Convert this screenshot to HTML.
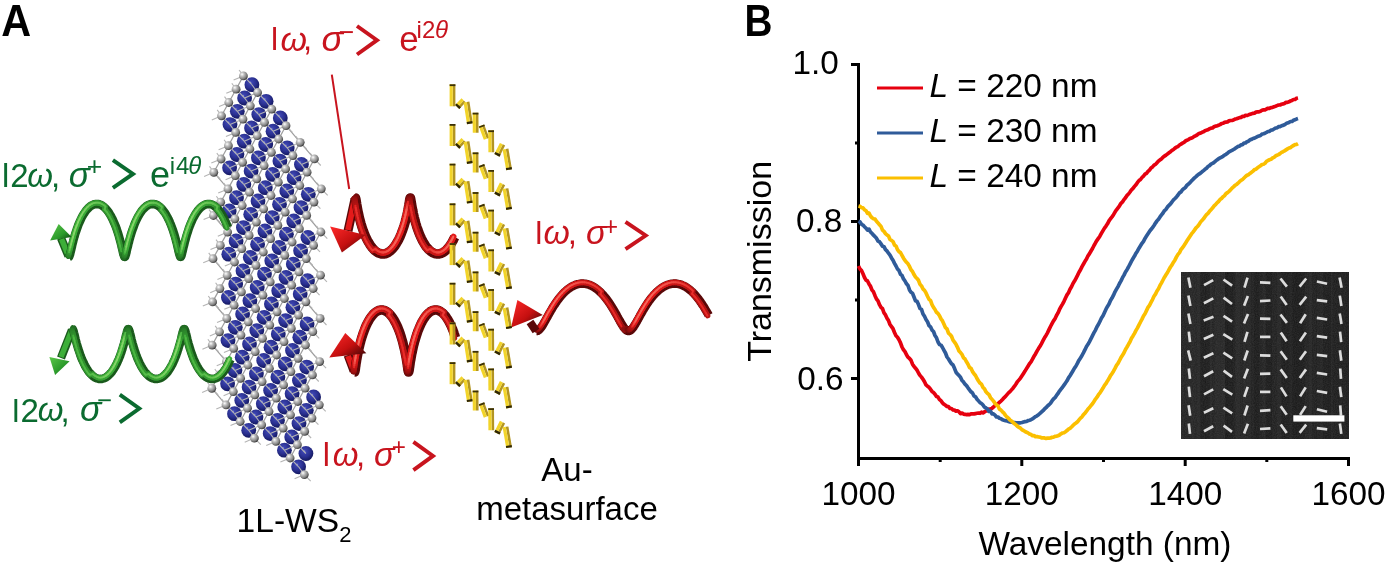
<!DOCTYPE html>
<html><head><meta charset="utf-8"><style>
html,body{margin:0;padding:0;background:#fff;}
body{width:1387px;height:563px;position:relative;overflow:hidden;font-family:"Liberation Sans",sans-serif;}
svg{position:absolute;left:0;top:0;will-change:transform;}
text{font-family:"Liberation Sans",sans-serif;}
.it{font-family:"Liberation Serif",serif;font-style:italic;}
</style></head><body>
<svg width="1387" height="563" viewBox="0 0 1387 563">
<rect width="1387" height="563" fill="#fff"/>
<text transform="translate(1.2,35.7) scale(0.92,1)" font-size="45" font-weight="bold">A</text>
<text transform="translate(744.5,35.7) scale(0.86,1)" font-size="45" font-weight="bold">B</text>
<g stroke="#000" stroke-width="3" fill="none" stroke-linecap="butt">
<line x1="858.5" y1="63" x2="858.5" y2="466"/>
<line x1="857.0" y1="458.5" x2="1350" y2="458.5"/>
<line x1="851" y1="64.5" x2="858.5" y2="64.5"/>
<line x1="851" y1="221.5" x2="858.5" y2="221.5"/>
<line x1="851" y1="378.5" x2="858.5" y2="378.5"/>
<line x1="855" y1="143" x2="858.5" y2="143"/>
<line x1="855" y1="300" x2="858.5" y2="300"/>
<line x1="1021.8" y1="457" x2="1021.8" y2="466"/>
<line x1="1185.2" y1="457" x2="1185.2" y2="466"/>
<line x1="1348.5" y1="457" x2="1348.5" y2="466"/>
<line x1="940.2" y1="457" x2="940.2" y2="462"/>
<line x1="1103.5" y1="457" x2="1103.5" y2="462"/>
<line x1="1266.8" y1="457" x2="1266.8" y2="462"/>
</g>
<polyline fill="none" stroke="#e6000f" stroke-width="3.7" stroke-linejoin="round" points="858.5,266 860,269 861.5,270.6 863,273.8 864.5,277.5 866,280.2 867.5,281 869,283.9 870.5,286.3 872,290.1 873.5,291.8 875,295.7 876.5,299 878,300.9 879.5,304.7 881,307.3 882.5,308.7 884,312.9 885.5,314.9 887,318.2 888.5,320.6 890,324.5 891.5,326.6 893,328.7 894.5,332.5 896,335.8 897.5,337.3 899,339.8 900.5,342.9 902,347 903.5,349.8 905,351.6 906.5,354.8 908,357.2 909.5,358.5 911,360.3 912.5,364.2 914,366.4 915.5,368.2 917,370.2 918.5,373 920,375.4 921.5,377.1 923,379.3 924.5,381.8 926,384.9 927.5,386.2 929,387.3 930.5,389.2 932,391.4 933.5,392.5 935,394.2 936.5,396.6 938,397.1 939.5,399.6 941,400.7 942.5,402.9 944,404.3 945.5,405.3 947,406.5 948.5,406.7 950,408.5 951.5,408.5 953,410 954.5,410.1 956,411.1 957.5,410.8 959,411.8 960.5,413.7 962,413 963.5,414.1 965,414.3 966.5,414.6 968,414.4 969.5,414.7 971,413.8 972.5,413.8 974,413.9 975.5,413.6 977,413.3 978.5,413 980,413.3 981.5,412.2 983,412.9 984.5,411.9 986,411 987.5,410.6 989,409.1 990.5,409.3 992,408.2 993.5,407 995,405.6 996.5,405 998,403.7 999.5,402.3 1001,401.1 1002.5,399.5 1004,397.8 1005.5,396.4 1007,394.6 1008.5,392.9 1010,391.6 1011.5,389.9 1013,388.2 1014.5,386.2 1016,384 1017.5,381.6 1019,379.9 1020.5,378.1 1022,375.8 1023.5,373.4 1025,371.1 1026.5,368.6 1028,366.2 1029.5,363.7 1031,361.9 1032.5,359.2 1034,356.3 1035.5,353.9 1037,351.1 1038.5,348.6 1040,346.3 1041.5,343.6 1043,340.7 1044.5,337.8 1046,335.4 1047.5,332.8 1049,329.6 1050.5,326.5 1052,323.7 1053.5,320.9 1055,318.7 1056.5,315.5 1058,312.9 1059.5,309.4 1061,306.6 1062.5,304.1 1064,301.3 1065.5,298 1067,294.9 1068.5,292.7 1070,289.3 1071.5,286.8 1073,283.5 1074.5,281.1 1076,278.3 1077.5,275.4 1079,272.3 1080.5,269.8 1082,266.6 1083.5,264 1085,261.3 1086.5,259 1088,255.8 1089.5,253.7 1091,251 1092.5,248.5 1094,245.5 1095.5,242.8 1097,240.3 1098.5,238.2 1100,235.9 1101.5,233.2 1103,230.6 1104.5,228.1 1106,226.1 1107.5,223.8 1109,220.9 1110.5,218.7 1112,216.9 1113.5,214.7 1115,212.1 1116.5,209.8 1118,207.8 1119.5,205.8 1121,203.3 1122.5,201.9 1124,199.6 1125.5,197.8 1127,195.4 1128.5,194 1130,192 1131.5,189.8 1133,188.4 1134.5,186.4 1136,184.7 1137.5,182.4 1139,180.6 1140.5,179.5 1142,177.5 1143.5,176.1 1145,174.2 1146.5,173.3 1148,171.4 1149.5,170.1 1151,168 1152.5,166.9 1154,165.2 1155.5,164.4 1157,162.7 1158.5,161.1 1160,159.8 1161.5,158.9 1163,157.2 1164.5,156.1 1166,155.1 1167.5,153.9 1169,152.8 1170.5,151.7 1172,150.4 1173.5,149.5 1175,148.1 1176.5,147.1 1178,146.5 1179.5,145 1181,144.1 1182.5,143.1 1184,142.3 1185.5,141 1187,140.2 1188.5,139.6 1190,138.5 1191.5,138.1 1193,137.3 1194.5,136.3 1196,135.6 1197.5,134.6 1199,133.5 1200.5,133.1 1202,132.3 1203.5,131.8 1205,130.7 1206.5,130.1 1208,129.8 1209.5,128.7 1211,128.2 1212.5,128 1214,126.8 1215.5,126.1 1217,125.9 1218.5,125.2 1220,124.6 1221.5,123.6 1223,123.3 1224.5,122.4 1226,122.1 1227.5,121.9 1229,120.9 1230.5,120.5 1232,120.5 1233.5,120 1235,119.1 1236.5,118.8 1238,118.2 1239.5,117.6 1241,117.4 1242.5,116.4 1244,116.4 1245.5,115.3 1247,115.5 1248.5,114.9 1250,114.2 1251.5,113.9 1253,113.3 1254.5,113.1 1256,112.1 1257.5,111.9 1259,111.8 1260.5,111.3 1262,110.3 1263.5,109.9 1265,109.9 1266.5,109 1268,108.3 1269.5,108.3 1271,107.6 1272.5,107.4 1274,106.7 1275.5,106.2 1277,105.6 1278.5,105 1280,105 1281.5,104.3 1283,103.9 1284.5,103.4 1286,102.4 1287.5,102.4 1289,101.8 1290.5,100.9 1292,100.4 1293.5,99.5 1295,99.4 1296.5,98.3 1298,98"/>
<polyline fill="none" stroke="#2f5b99" stroke-width="3.7" stroke-linejoin="round" points="858.5,221.1 860,221.9 861.5,224.3 863,225.1 864.5,226.7 866,228.2 867.5,230.1 869,229.1 870.5,232 872,233.4 873.5,235.2 875,236.6 876.5,238.3 878,241 879.5,241.7 881,243.9 882.5,246.2 884,246.7 885.5,249.7 887,251 888.5,253.2 890,255.1 891.5,257.9 893,260.3 894.5,263.4 896,266 897.5,269 899,270.6 900.5,274.2 902,275.4 903.5,278.9 905,281 906.5,283.8 908,285.5 909.5,289.9 911,292.2 912.5,293.2 914,297 915.5,300.9 917,301.2 918.5,304.6 920,308.5 921.5,309.4 923,314 924.5,316.3 926,319.5 927.5,321.8 929,325.5 930.5,326.8 932,330.1 933.5,331.5 935,335.5 936.5,337.8 938,342 939.5,344.5 941,345.1 942.5,347.5 944,350.3 945.5,353 947,357 948.5,359 950,361.4 951.5,363.7 953,364.9 954.5,368.3 956,372.2 957.5,374 959,375.6 960.5,377.2 962,380.5 963.5,381.9 965,384.2 966.5,385.6 968,387.8 969.5,389.8 971,391.8 972.5,393 974,395.9 975.5,396.8 977,399.2 978.5,400.9 980,402.6 981.5,403.5 983,405 984.5,407.2 986,408 987.5,409 989,411.4 990.5,411.2 992,413.8 993.5,413.9 995,415.1 996.5,417 998,417 999.5,418.3 1001,418.7 1002.5,419.8 1004,420.3 1005.5,420.7 1007,420.9 1008.5,421.5 1010,422 1011.5,422.1 1013,422.6 1014.5,422.5 1016,422.8 1017.5,422.8 1019,422.9 1020.5,422.8 1022,422.5 1023.5,422 1025,421.6 1026.5,421.5 1028,420.6 1029.5,420.2 1031,419.7 1032.5,418.9 1034,417.7 1035.5,416.6 1037,415.8 1038.5,414.7 1040,413.4 1041.5,412 1043,410.7 1044.5,409 1046,407.7 1047.5,406 1049,404.8 1050.5,403.3 1052,400.9 1053.5,399 1055,397.7 1056.5,395.4 1058,393.5 1059.5,391.1 1061,389.1 1062.5,387.3 1064,385.1 1065.5,383 1067,380.8 1068.5,377.9 1070,375.7 1071.5,373.2 1073,370.7 1074.5,368.1 1076,366 1077.5,363.2 1079,360.2 1080.5,357.9 1082,355.5 1083.5,352.7 1085,349.7 1086.5,346.5 1088,344.3 1089.5,341.6 1091,338.7 1092.5,335.6 1094,332.7 1095.5,330.1 1097,326.7 1098.5,324.3 1100,321.2 1101.5,318 1103,315.7 1104.5,312.4 1106,309.2 1107.5,306.4 1109,304 1110.5,300.5 1112,298.1 1113.5,295.2 1115,291.8 1116.5,289.2 1118,286.6 1119.5,283.5 1121,280.9 1122.5,277.7 1124,275.1 1125.5,272 1127,269.7 1128.5,267 1130,264.1 1131.5,261.2 1133,258.5 1134.5,256.1 1136,253.2 1137.5,250.9 1139,248.2 1140.5,245.8 1142,243.3 1143.5,241.3 1145,238.4 1146.5,236.1 1148,233.8 1149.5,231.4 1151,229.5 1152.5,227.6 1154,225.5 1155.5,223.1 1157,220.9 1158.5,219.2 1160,216.9 1161.5,214.9 1163,213 1164.5,210.6 1166,209.3 1167.5,206.9 1169,205.4 1170.5,203.9 1172,201.8 1173.5,199.9 1175,198.5 1176.5,196.9 1178,195 1179.5,192.9 1181,191.9 1182.5,189.7 1184,188.6 1185.5,187.3 1187,185.2 1188.5,184 1190,182.7 1191.5,180.8 1193,179.4 1194.5,177.9 1196,176.6 1197.5,175.2 1199,174.1 1200.5,173.1 1202,171.8 1203.5,170.6 1205,169.3 1206.5,168.2 1208,166.5 1209.5,165.6 1211,164.1 1212.5,163.3 1214,162.5 1215.5,161.1 1217,159.9 1218.5,158.8 1220,157.9 1221.5,157.2 1223,156.3 1224.5,155.1 1226,154.3 1227.5,153.2 1229,151.9 1230.5,151.1 1232,150.4 1233.5,149.5 1235,148.6 1236.5,147.5 1238,146.4 1239.5,146.2 1241,144.8 1242.5,144.6 1244,143.1 1245.5,143 1247,141.7 1248.5,141.2 1250,139.8 1251.5,139.4 1253,138.5 1254.5,138.1 1256,137.4 1257.5,136.5 1259,136 1260.5,135.5 1262,134.1 1263.5,133.8 1265,133.2 1266.5,132.4 1268,131.5 1269.5,131.3 1271,130.1 1272.5,129.9 1274,129 1275.5,128 1277,127.9 1278.5,126.7 1280,126.6 1281.5,125.8 1283,125.4 1284.5,124.7 1286,123.7 1287.5,122.9 1289,122.4 1290.5,121.5 1292,121.4 1293.5,120.3 1295,119.7 1296.5,119.1 1298,118.6"/>
<polyline fill="none" stroke="#fbbf00" stroke-width="3.7" stroke-linejoin="round" points="858.5,206 860,206.4 861.5,207.7 863,207.9 864.5,209.7 866,210.7 867.5,213.4 869,213 870.5,216 872,217.7 873.5,218.7 875,219.1 876.5,221.3 878,222.9 879.5,224.7 881,226.4 882.5,230.1 884,231.4 885.5,233.6 887,235 888.5,236 890,239.5 891.5,240.4 893,241.6 894.5,245.1 896,246 897.5,249.6 899,251.6 900.5,252.6 902,255.3 903.5,258.2 905,260.4 906.5,262.3 908,263.8 909.5,266.4 911,269.8 912.5,271.5 914,274.6 915.5,277 917,278.5 918.5,280.3 920,284.3 921.5,285.9 923,289 924.5,290.3 926,292.9 927.5,296.2 929,299.3 930.5,300.4 932,304.7 933.5,307.4 935,309.5 936.5,312.3 938,313.5 939.5,315.7 941,318.9 942.5,320.9 944,324.2 945.5,327.7 947,329 948.5,333.1 950,334.5 951.5,336.3 953,340.1 954.5,342.1 956,344.3 957.5,347.3 959,351 960.5,352.6 962,354.4 963.5,357.8 965,359 966.5,361.8 968,364.2 969.5,367.5 971,368.3 972.5,371.6 974,373.7 975.5,375.5 977,378.5 978.5,381 980,383.1 981.5,384.2 983,387.5 984.5,388.9 986,391.8 987.5,393.4 989,394.7 990.5,397.7 992,399.4 993.5,401.1 995,403.3 996.5,404.9 998,406 999.5,409.2 1001,410.1 1002.5,411.8 1004,413.2 1005.5,415.4 1007,417.1 1008.5,418.2 1010,420 1011.5,421 1013,422.4 1014.5,423.7 1016,424.9 1017.5,426.4 1019,427.3 1020.5,428.2 1022,429.8 1023.5,430.5 1025,431.5 1026.5,432.2 1028,432.9 1029.5,434.1 1031,434.6 1032.5,435.7 1034,435.5 1035.5,436.7 1037,436.5 1038.5,437 1040,437.1 1041.5,437.8 1043,437.8 1044.5,437.9 1046,438.4 1047.5,438.1 1049,438.2 1050.5,438 1052,437.3 1053.5,437.2 1055,436.4 1056.5,436.1 1058,435.7 1059.5,435 1061,433.8 1062.5,433 1064,432.7 1065.5,431.7 1067,430.6 1068.5,429.2 1070,428.4 1071.5,427 1073,425.4 1074.5,424.1 1076,423 1077.5,421.8 1079,419.9 1080.5,418.1 1082,416.8 1083.5,414.6 1085,413.2 1086.5,411.2 1088,409 1089.5,407.5 1091,405.5 1092.5,403.8 1094,401.5 1095.5,399.1 1097,397.2 1098.5,394.7 1100,392.8 1101.5,390.5 1103,388.1 1104.5,385.4 1106,383.5 1107.5,380.9 1109,378.6 1110.5,375.6 1112,373.6 1113.5,371.2 1115,368.4 1116.5,365.4 1118,363.4 1119.5,360.5 1121,357.6 1122.5,355.2 1124,352.7 1125.5,349.4 1127,347 1128.5,344.3 1130,341.8 1131.5,338.3 1133,335.9 1134.5,333.3 1136,330.4 1137.5,327.8 1139,324.8 1140.5,322 1142,319.1 1143.5,316 1145,313.7 1146.5,310.6 1148,307.4 1149.5,305.3 1151,302.4 1152.5,299.6 1154,296.3 1155.5,294.1 1157,291 1158.5,288.7 1160,285.4 1161.5,282.8 1163,280 1164.5,277.2 1166,274.8 1167.5,272.5 1169,269.7 1170.5,267 1172,264.9 1173.5,262.2 1175,259.9 1176.5,256.9 1178,254.4 1179.5,252.6 1181,249.5 1182.5,247.8 1184,245.6 1185.5,243.2 1187,240.8 1188.5,238.5 1190,236.2 1191.5,233.9 1193,232.1 1194.5,230.1 1196,227.9 1197.5,226.5 1199,224.6 1200.5,222.1 1202,220.4 1203.5,218.8 1205,216.7 1206.5,214.7 1208,213.3 1209.5,211.3 1211,209.7 1212.5,208.1 1214,206 1215.5,204.7 1217,202.8 1218.5,201.5 1220,199.6 1221.5,198.5 1223,196.7 1224.5,195.7 1226,193.6 1227.5,192.6 1229,191.3 1230.5,189.9 1232,188.2 1233.5,186.9 1235,185.4 1236.5,184.5 1238,183.2 1239.5,181.7 1241,180.4 1242.5,179.5 1244,178 1245.5,176.5 1247,175.3 1248.5,174.7 1250,173.4 1251.5,172.3 1253,171.1 1254.5,169.6 1256,169.2 1257.5,167.8 1259,166.8 1260.5,165.8 1262,164.5 1263.5,164.2 1265,163.2 1266.5,161.4 1268,160.5 1269.5,159.8 1271,159.3 1272.5,158 1274,157.4 1275.5,156 1277,155.2 1278.5,154.6 1280,153.6 1281.5,152.4 1283,151.7 1284.5,150.9 1286,149.9 1287.5,148.9 1289,148 1290.5,147.6 1292,146.3 1293.5,145.5 1295,144.7 1296.5,144.5 1298,143.6"/>
<line x1="877" y1="88" x2="923" y2="88" stroke="#e6000f" stroke-width="3"/>
<line x1="877" y1="133" x2="923" y2="133" stroke="#2f5b99" stroke-width="3"/>
<line x1="877" y1="178" x2="923" y2="178" stroke="#fbbf00" stroke-width="3"/>
<defs><radialGradient id="gW" cx="40%" cy="35%" r="65%"><stop offset="0" stop-color="#8f96e0"/><stop offset="0.15" stop-color="#3c44b0"/><stop offset="0.6" stop-color="#2a3090"/><stop offset="1" stop-color="#141860"/></radialGradient><radialGradient id="gS" cx="35%" cy="32%" r="70%"><stop offset="0" stop-color="#ffffff"/><stop offset="0.3" stop-color="#c4c4c4"/><stop offset="0.75" stop-color="#808080"/><stop offset="1" stop-color="#3a3a3a"/></radialGradient><radialGradient id="gSb" cx="35%" cy="32%" r="70%"><stop offset="0" stop-color="#d0d0d0"/><stop offset="0.4" stop-color="#8a8a8a"/><stop offset="1" stop-color="#2a2a2a"/></radialGradient></defs>
<g stroke="#9c9c9c" stroke-width="1.2">
<line x1="243.4" y1="75.9" x2="257.6" y2="92.5"/>
<line x1="243.4" y1="75.9" x2="236.1" y2="89.2"/>
<line x1="236.1" y1="89.2" x2="250.3" y2="105.8"/>
<line x1="236.1" y1="89.2" x2="228.8" y2="102.5"/>
<line x1="228.8" y1="102.5" x2="243" y2="119.1"/>
<line x1="228.8" y1="102.5" x2="221.5" y2="115.8"/>
<line x1="221.5" y1="115.8" x2="235.7" y2="132.4"/>
<line x1="257.6" y1="92.5" x2="271.8" y2="109.1"/>
<line x1="257.6" y1="92.5" x2="250.3" y2="105.8"/>
<line x1="250.3" y1="105.8" x2="264.5" y2="122.4"/>
<line x1="250.3" y1="105.8" x2="243" y2="119.1"/>
<line x1="243" y1="119.1" x2="257.2" y2="135.7"/>
<line x1="243" y1="119.1" x2="235.7" y2="132.4"/>
<line x1="235.7" y1="132.4" x2="249.9" y2="149"/>
<line x1="235.7" y1="132.4" x2="228.4" y2="145.7"/>
<line x1="228.4" y1="145.7" x2="242.6" y2="162.3"/>
<line x1="228.4" y1="145.7" x2="221.1" y2="159"/>
<line x1="221.1" y1="159" x2="235.3" y2="175.6"/>
<line x1="221.1" y1="159" x2="213.8" y2="172.3"/>
<line x1="213.8" y1="172.3" x2="228" y2="188.9"/>
<line x1="271.8" y1="109.1" x2="286" y2="125.7"/>
<line x1="271.8" y1="109.1" x2="264.5" y2="122.4"/>
<line x1="264.5" y1="122.4" x2="278.7" y2="139"/>
<line x1="264.5" y1="122.4" x2="257.2" y2="135.7"/>
<line x1="257.2" y1="135.7" x2="271.4" y2="152.3"/>
<line x1="257.2" y1="135.7" x2="249.9" y2="149"/>
<line x1="249.9" y1="149" x2="264.1" y2="165.6"/>
<line x1="249.9" y1="149" x2="242.6" y2="162.3"/>
<line x1="242.6" y1="162.3" x2="256.8" y2="178.9"/>
<line x1="242.6" y1="162.3" x2="235.3" y2="175.6"/>
<line x1="235.3" y1="175.6" x2="249.5" y2="192.2"/>
<line x1="235.3" y1="175.6" x2="228" y2="188.9"/>
<line x1="228" y1="188.9" x2="242.2" y2="205.5"/>
<line x1="228" y1="188.9" x2="220.7" y2="202.2"/>
<line x1="220.7" y1="202.2" x2="234.9" y2="218.8"/>
<line x1="220.7" y1="202.2" x2="213.4" y2="215.5"/>
<line x1="213.4" y1="215.5" x2="227.6" y2="232.1"/>
<line x1="286" y1="125.7" x2="300.2" y2="142.3"/>
<line x1="286" y1="125.7" x2="278.7" y2="139"/>
<line x1="278.7" y1="139" x2="292.9" y2="155.6"/>
<line x1="278.7" y1="139" x2="271.4" y2="152.3"/>
<line x1="271.4" y1="152.3" x2="285.6" y2="168.9"/>
<line x1="271.4" y1="152.3" x2="264.1" y2="165.6"/>
<line x1="264.1" y1="165.6" x2="278.3" y2="182.2"/>
<line x1="264.1" y1="165.6" x2="256.8" y2="178.9"/>
<line x1="256.8" y1="178.9" x2="271" y2="195.5"/>
<line x1="256.8" y1="178.9" x2="249.5" y2="192.2"/>
<line x1="249.5" y1="192.2" x2="263.7" y2="208.8"/>
<line x1="249.5" y1="192.2" x2="242.2" y2="205.5"/>
<line x1="242.2" y1="205.5" x2="256.4" y2="222.1"/>
<line x1="242.2" y1="205.5" x2="234.9" y2="218.8"/>
<line x1="234.9" y1="218.8" x2="249.1" y2="235.4"/>
<line x1="234.9" y1="218.8" x2="227.6" y2="232.1"/>
<line x1="227.6" y1="232.1" x2="241.8" y2="248.7"/>
<line x1="227.6" y1="232.1" x2="220.3" y2="245.4"/>
<line x1="220.3" y1="245.4" x2="234.5" y2="262"/>
<line x1="220.3" y1="245.4" x2="213" y2="258.7"/>
<line x1="213" y1="258.7" x2="227.2" y2="275.3"/>
<line x1="300.2" y1="142.3" x2="314.4" y2="158.9"/>
<line x1="300.2" y1="142.3" x2="292.9" y2="155.6"/>
<line x1="292.9" y1="155.6" x2="307.1" y2="172.2"/>
<line x1="292.9" y1="155.6" x2="285.6" y2="168.9"/>
<line x1="285.6" y1="168.9" x2="299.8" y2="185.5"/>
<line x1="285.6" y1="168.9" x2="278.3" y2="182.2"/>
<line x1="278.3" y1="182.2" x2="292.5" y2="198.8"/>
<line x1="278.3" y1="182.2" x2="271" y2="195.5"/>
<line x1="271" y1="195.5" x2="285.2" y2="212.1"/>
<line x1="271" y1="195.5" x2="263.7" y2="208.8"/>
<line x1="263.7" y1="208.8" x2="277.9" y2="225.4"/>
<line x1="263.7" y1="208.8" x2="256.4" y2="222.1"/>
<line x1="256.4" y1="222.1" x2="270.6" y2="238.7"/>
<line x1="256.4" y1="222.1" x2="249.1" y2="235.4"/>
<line x1="249.1" y1="235.4" x2="263.3" y2="252"/>
<line x1="249.1" y1="235.4" x2="241.8" y2="248.7"/>
<line x1="241.8" y1="248.7" x2="256" y2="265.3"/>
<line x1="241.8" y1="248.7" x2="234.5" y2="262"/>
<line x1="234.5" y1="262" x2="248.7" y2="278.6"/>
<line x1="234.5" y1="262" x2="227.2" y2="275.3"/>
<line x1="227.2" y1="275.3" x2="241.4" y2="291.9"/>
<line x1="227.2" y1="275.3" x2="219.9" y2="288.6"/>
<line x1="219.9" y1="288.6" x2="234.1" y2="305.2"/>
<line x1="219.9" y1="288.6" x2="212.6" y2="301.9"/>
<line x1="212.6" y1="301.9" x2="226.8" y2="318.5"/>
<line x1="314.4" y1="158.9" x2="307.1" y2="172.2"/>
<line x1="307.1" y1="172.2" x2="321.3" y2="188.8"/>
<line x1="307.1" y1="172.2" x2="299.8" y2="185.5"/>
<line x1="299.8" y1="185.5" x2="314" y2="202.1"/>
<line x1="299.8" y1="185.5" x2="292.5" y2="198.8"/>
<line x1="292.5" y1="198.8" x2="306.7" y2="215.4"/>
<line x1="292.5" y1="198.8" x2="285.2" y2="212.1"/>
<line x1="285.2" y1="212.1" x2="299.4" y2="228.7"/>
<line x1="285.2" y1="212.1" x2="277.9" y2="225.4"/>
<line x1="277.9" y1="225.4" x2="292.1" y2="242"/>
<line x1="277.9" y1="225.4" x2="270.6" y2="238.7"/>
<line x1="270.6" y1="238.7" x2="284.8" y2="255.3"/>
<line x1="270.6" y1="238.7" x2="263.3" y2="252"/>
<line x1="263.3" y1="252" x2="277.5" y2="268.6"/>
<line x1="263.3" y1="252" x2="256" y2="265.3"/>
<line x1="256" y1="265.3" x2="270.2" y2="281.9"/>
<line x1="256" y1="265.3" x2="248.7" y2="278.6"/>
<line x1="248.7" y1="278.6" x2="262.9" y2="295.2"/>
<line x1="248.7" y1="278.6" x2="241.4" y2="291.9"/>
<line x1="241.4" y1="291.9" x2="255.6" y2="308.5"/>
<line x1="241.4" y1="291.9" x2="234.1" y2="305.2"/>
<line x1="234.1" y1="305.2" x2="248.3" y2="321.8"/>
<line x1="234.1" y1="305.2" x2="226.8" y2="318.5"/>
<line x1="226.8" y1="318.5" x2="241" y2="335.1"/>
<line x1="226.8" y1="318.5" x2="219.5" y2="331.8"/>
<line x1="219.5" y1="331.8" x2="233.7" y2="348.4"/>
<line x1="219.5" y1="331.8" x2="212.2" y2="345.1"/>
<line x1="212.2" y1="345.1" x2="226.4" y2="361.7"/>
<line x1="321.3" y1="188.8" x2="314" y2="202.1"/>
<line x1="314" y1="202.1" x2="306.7" y2="215.4"/>
<line x1="306.7" y1="215.4" x2="320.9" y2="232"/>
<line x1="306.7" y1="215.4" x2="299.4" y2="228.7"/>
<line x1="299.4" y1="228.7" x2="313.6" y2="245.3"/>
<line x1="299.4" y1="228.7" x2="292.1" y2="242"/>
<line x1="292.1" y1="242" x2="306.3" y2="258.6"/>
<line x1="292.1" y1="242" x2="284.8" y2="255.3"/>
<line x1="284.8" y1="255.3" x2="299" y2="271.9"/>
<line x1="284.8" y1="255.3" x2="277.5" y2="268.6"/>
<line x1="277.5" y1="268.6" x2="291.7" y2="285.2"/>
<line x1="277.5" y1="268.6" x2="270.2" y2="281.9"/>
<line x1="270.2" y1="281.9" x2="284.4" y2="298.5"/>
<line x1="270.2" y1="281.9" x2="262.9" y2="295.2"/>
<line x1="262.9" y1="295.2" x2="277.1" y2="311.8"/>
<line x1="262.9" y1="295.2" x2="255.6" y2="308.5"/>
<line x1="255.6" y1="308.5" x2="269.8" y2="325.1"/>
<line x1="255.6" y1="308.5" x2="248.3" y2="321.8"/>
<line x1="248.3" y1="321.8" x2="262.5" y2="338.4"/>
<line x1="248.3" y1="321.8" x2="241" y2="335.1"/>
<line x1="241" y1="335.1" x2="255.2" y2="351.7"/>
<line x1="241" y1="335.1" x2="233.7" y2="348.4"/>
<line x1="233.7" y1="348.4" x2="247.9" y2="365"/>
<line x1="233.7" y1="348.4" x2="226.4" y2="361.7"/>
<line x1="226.4" y1="361.7" x2="240.6" y2="378.3"/>
<line x1="226.4" y1="361.7" x2="219.1" y2="375"/>
<line x1="219.1" y1="375" x2="233.3" y2="391.6"/>
<line x1="219.1" y1="375" x2="211.8" y2="388.3"/>
<line x1="211.8" y1="388.3" x2="226" y2="404.9"/>
<line x1="320.9" y1="232" x2="313.6" y2="245.3"/>
<line x1="313.6" y1="245.3" x2="306.3" y2="258.6"/>
<line x1="306.3" y1="258.6" x2="320.5" y2="275.2"/>
<line x1="306.3" y1="258.6" x2="299" y2="271.9"/>
<line x1="299" y1="271.9" x2="313.2" y2="288.5"/>
<line x1="299" y1="271.9" x2="291.7" y2="285.2"/>
<line x1="291.7" y1="285.2" x2="305.9" y2="301.8"/>
<line x1="291.7" y1="285.2" x2="284.4" y2="298.5"/>
<line x1="284.4" y1="298.5" x2="298.6" y2="315.1"/>
<line x1="284.4" y1="298.5" x2="277.1" y2="311.8"/>
<line x1="277.1" y1="311.8" x2="291.3" y2="328.4"/>
<line x1="277.1" y1="311.8" x2="269.8" y2="325.1"/>
<line x1="269.8" y1="325.1" x2="284" y2="341.7"/>
<line x1="269.8" y1="325.1" x2="262.5" y2="338.4"/>
<line x1="262.5" y1="338.4" x2="276.7" y2="355"/>
<line x1="262.5" y1="338.4" x2="255.2" y2="351.7"/>
<line x1="255.2" y1="351.7" x2="269.4" y2="368.3"/>
<line x1="255.2" y1="351.7" x2="247.9" y2="365"/>
<line x1="247.9" y1="365" x2="262.1" y2="381.6"/>
<line x1="247.9" y1="365" x2="240.6" y2="378.3"/>
<line x1="240.6" y1="378.3" x2="254.8" y2="394.9"/>
<line x1="240.6" y1="378.3" x2="233.3" y2="391.6"/>
<line x1="233.3" y1="391.6" x2="247.5" y2="408.2"/>
<line x1="233.3" y1="391.6" x2="226" y2="404.9"/>
<line x1="226" y1="404.9" x2="240.2" y2="421.5"/>
<line x1="320.5" y1="275.2" x2="313.2" y2="288.5"/>
<line x1="313.2" y1="288.5" x2="305.9" y2="301.8"/>
<line x1="305.9" y1="301.8" x2="320.1" y2="318.4"/>
<line x1="305.9" y1="301.8" x2="298.6" y2="315.1"/>
<line x1="298.6" y1="315.1" x2="312.8" y2="331.7"/>
<line x1="298.6" y1="315.1" x2="291.3" y2="328.4"/>
<line x1="291.3" y1="328.4" x2="305.5" y2="345"/>
<line x1="291.3" y1="328.4" x2="284" y2="341.7"/>
<line x1="284" y1="341.7" x2="298.2" y2="358.3"/>
<line x1="284" y1="341.7" x2="276.7" y2="355"/>
<line x1="276.7" y1="355" x2="290.9" y2="371.6"/>
<line x1="276.7" y1="355" x2="269.4" y2="368.3"/>
<line x1="269.4" y1="368.3" x2="283.6" y2="384.9"/>
<line x1="269.4" y1="368.3" x2="262.1" y2="381.6"/>
<line x1="262.1" y1="381.6" x2="276.3" y2="398.2"/>
<line x1="262.1" y1="381.6" x2="254.8" y2="394.9"/>
<line x1="254.8" y1="394.9" x2="269" y2="411.5"/>
<line x1="254.8" y1="394.9" x2="247.5" y2="408.2"/>
<line x1="247.5" y1="408.2" x2="261.7" y2="424.8"/>
<line x1="247.5" y1="408.2" x2="240.2" y2="421.5"/>
<line x1="240.2" y1="421.5" x2="254.4" y2="438.1"/>
<line x1="320.1" y1="318.4" x2="312.8" y2="331.7"/>
<line x1="312.8" y1="331.7" x2="305.5" y2="345"/>
<line x1="305.5" y1="345" x2="319.7" y2="361.6"/>
<line x1="305.5" y1="345" x2="298.2" y2="358.3"/>
<line x1="298.2" y1="358.3" x2="312.4" y2="374.9"/>
<line x1="298.2" y1="358.3" x2="290.9" y2="371.6"/>
<line x1="290.9" y1="371.6" x2="305.1" y2="388.2"/>
<line x1="290.9" y1="371.6" x2="283.6" y2="384.9"/>
<line x1="283.6" y1="384.9" x2="297.8" y2="401.5"/>
<line x1="283.6" y1="384.9" x2="276.3" y2="398.2"/>
<line x1="276.3" y1="398.2" x2="290.5" y2="414.8"/>
<line x1="276.3" y1="398.2" x2="269" y2="411.5"/>
<line x1="269" y1="411.5" x2="283.2" y2="428.1"/>
<line x1="269" y1="411.5" x2="261.7" y2="424.8"/>
<line x1="261.7" y1="424.8" x2="275.9" y2="441.4"/>
<line x1="261.7" y1="424.8" x2="254.4" y2="438.1"/>
<line x1="319.7" y1="361.6" x2="312.4" y2="374.9"/>
<line x1="312.4" y1="374.9" x2="305.1" y2="388.2"/>
<line x1="305.1" y1="388.2" x2="319.3" y2="404.8"/>
<line x1="305.1" y1="388.2" x2="297.8" y2="401.5"/>
<line x1="297.8" y1="401.5" x2="312" y2="418.1"/>
<line x1="297.8" y1="401.5" x2="290.5" y2="414.8"/>
<line x1="290.5" y1="414.8" x2="304.7" y2="431.4"/>
<line x1="290.5" y1="414.8" x2="283.2" y2="428.1"/>
<line x1="283.2" y1="428.1" x2="297.4" y2="444.7"/>
<line x1="283.2" y1="428.1" x2="275.9" y2="441.4"/>
<line x1="275.9" y1="441.4" x2="290.1" y2="458"/>
<line x1="319.3" y1="404.8" x2="312" y2="418.1"/>
<line x1="312" y1="418.1" x2="304.7" y2="431.4"/>
<line x1="304.7" y1="431.4" x2="297.4" y2="444.7"/>
<line x1="297.4" y1="444.7" x2="290.1" y2="458"/>
<line x1="290.1" y1="458" x2="304.3" y2="474.6"/>
</g>
<g fill="url(#gW)">
<circle cx="251.9" cy="84.7" r="7.4"/>
<circle cx="244.6" cy="98" r="7.4"/>
<circle cx="237.3" cy="111.3" r="7.4"/>
<circle cx="230" cy="124.6" r="7.4"/>
<circle cx="266.1" cy="101.3" r="7.4"/>
<circle cx="258.8" cy="114.6" r="7.4"/>
<circle cx="251.5" cy="127.9" r="7.4"/>
<circle cx="244.2" cy="141.2" r="7.4"/>
<circle cx="236.9" cy="154.5" r="7.4"/>
<circle cx="229.6" cy="167.8" r="7.4"/>
<circle cx="280.3" cy="117.9" r="7.4"/>
<circle cx="273" cy="131.2" r="7.4"/>
<circle cx="265.7" cy="144.5" r="7.4"/>
<circle cx="258.4" cy="157.8" r="7.4"/>
<circle cx="251.1" cy="171.1" r="7.4"/>
<circle cx="243.8" cy="184.4" r="7.4"/>
<circle cx="236.5" cy="197.7" r="7.4"/>
<circle cx="229.2" cy="211" r="7.4"/>
<circle cx="287.2" cy="147.8" r="7.4"/>
<circle cx="279.9" cy="161.1" r="7.4"/>
<circle cx="272.6" cy="174.4" r="7.4"/>
<circle cx="265.3" cy="187.7" r="7.4"/>
<circle cx="258" cy="201" r="7.4"/>
<circle cx="250.7" cy="214.3" r="7.4"/>
<circle cx="243.4" cy="227.6" r="7.4"/>
<circle cx="236.1" cy="240.9" r="7.4"/>
<circle cx="228.8" cy="254.2" r="7.4"/>
<circle cx="301.4" cy="164.4" r="7.4"/>
<circle cx="294.1" cy="177.7" r="7.4"/>
<circle cx="286.8" cy="191" r="7.4"/>
<circle cx="279.5" cy="204.3" r="7.4"/>
<circle cx="272.2" cy="217.6" r="7.4"/>
<circle cx="264.9" cy="230.9" r="7.4"/>
<circle cx="257.6" cy="244.2" r="7.4"/>
<circle cx="250.3" cy="257.5" r="7.4"/>
<circle cx="243" cy="270.8" r="7.4"/>
<circle cx="235.7" cy="284.1" r="7.4"/>
<circle cx="228.4" cy="297.4" r="7.4"/>
<circle cx="308.3" cy="194.3" r="7.4"/>
<circle cx="301" cy="207.6" r="7.4"/>
<circle cx="293.7" cy="220.9" r="7.4"/>
<circle cx="286.4" cy="234.2" r="7.4"/>
<circle cx="279.1" cy="247.5" r="7.4"/>
<circle cx="271.8" cy="260.8" r="7.4"/>
<circle cx="264.5" cy="274.1" r="7.4"/>
<circle cx="257.2" cy="287.4" r="7.4"/>
<circle cx="249.9" cy="300.7" r="7.4"/>
<circle cx="242.6" cy="314" r="7.4"/>
<circle cx="235.3" cy="327.3" r="7.4"/>
<circle cx="228" cy="340.6" r="7.4"/>
<circle cx="307.9" cy="237.5" r="7.4"/>
<circle cx="300.6" cy="250.8" r="7.4"/>
<circle cx="293.3" cy="264.1" r="7.4"/>
<circle cx="286" cy="277.4" r="7.4"/>
<circle cx="278.7" cy="290.7" r="7.4"/>
<circle cx="271.4" cy="304" r="7.4"/>
<circle cx="264.1" cy="317.3" r="7.4"/>
<circle cx="256.8" cy="330.6" r="7.4"/>
<circle cx="249.5" cy="343.9" r="7.4"/>
<circle cx="242.2" cy="357.2" r="7.4"/>
<circle cx="234.9" cy="370.5" r="7.4"/>
<circle cx="227.6" cy="383.8" r="7.4"/>
<circle cx="307.5" cy="280.7" r="7.4"/>
<circle cx="300.2" cy="294" r="7.4"/>
<circle cx="292.9" cy="307.3" r="7.4"/>
<circle cx="285.6" cy="320.6" r="7.4"/>
<circle cx="278.3" cy="333.9" r="7.4"/>
<circle cx="271" cy="347.2" r="7.4"/>
<circle cx="263.7" cy="360.5" r="7.4"/>
<circle cx="256.4" cy="373.8" r="7.4"/>
<circle cx="249.1" cy="387.1" r="7.4"/>
<circle cx="241.8" cy="400.4" r="7.4"/>
<circle cx="234.5" cy="413.7" r="7.4"/>
<circle cx="307.1" cy="323.9" r="7.4"/>
<circle cx="299.8" cy="337.2" r="7.4"/>
<circle cx="292.5" cy="350.5" r="7.4"/>
<circle cx="285.2" cy="363.8" r="7.4"/>
<circle cx="277.9" cy="377.1" r="7.4"/>
<circle cx="270.6" cy="390.4" r="7.4"/>
<circle cx="263.3" cy="403.7" r="7.4"/>
<circle cx="256" cy="417" r="7.4"/>
<circle cx="248.7" cy="430.3" r="7.4"/>
<circle cx="306.7" cy="367.1" r="7.4"/>
<circle cx="299.4" cy="380.4" r="7.4"/>
<circle cx="292.1" cy="393.7" r="7.4"/>
<circle cx="284.8" cy="407" r="7.4"/>
<circle cx="277.5" cy="420.3" r="7.4"/>
<circle cx="270.2" cy="433.6" r="7.4"/>
<circle cx="313.6" cy="397" r="7.4"/>
<circle cx="306.3" cy="410.3" r="7.4"/>
<circle cx="299" cy="423.6" r="7.4"/>
<circle cx="291.7" cy="436.9" r="7.4"/>
<circle cx="284.4" cy="450.2" r="7.4"/>
<circle cx="305.9" cy="453.5" r="7.4"/>
<circle cx="298.6" cy="466.8" r="7.4"/>
</g>
<g stroke="#b4b4b4" stroke-width="1.1">
<line x1="243.4" y1="75.9" x2="239.1" y2="70"/>
<line x1="243.4" y1="75.9" x2="251.9" y2="84.7"/>
<line x1="243.4" y1="75.9" x2="233.6" y2="80"/>
<line x1="236.1" y1="89.2" x2="231.8" y2="83.3"/>
<line x1="236.1" y1="89.2" x2="244.6" y2="98"/>
<line x1="236.1" y1="89.2" x2="226.3" y2="93.3"/>
<line x1="228.8" y1="102.5" x2="224.5" y2="96.6"/>
<line x1="228.8" y1="102.5" x2="237.3" y2="111.3"/>
<line x1="228.8" y1="102.5" x2="219.1" y2="106.6"/>
<line x1="221.5" y1="115.8" x2="217.2" y2="109.9"/>
<line x1="221.5" y1="115.8" x2="230" y2="124.6"/>
<line x1="221.5" y1="115.8" x2="211.8" y2="119.9"/>
<line x1="257.6" y1="92.5" x2="251.9" y2="84.7"/>
<line x1="257.6" y1="92.5" x2="266.1" y2="101.3"/>
<line x1="257.6" y1="92.5" x2="244.6" y2="98"/>
<line x1="250.3" y1="105.8" x2="244.6" y2="98"/>
<line x1="250.3" y1="105.8" x2="258.8" y2="114.6"/>
<line x1="250.3" y1="105.8" x2="237.3" y2="111.3"/>
<line x1="243" y1="119.1" x2="237.3" y2="111.3"/>
<line x1="243" y1="119.1" x2="251.5" y2="127.9"/>
<line x1="243" y1="119.1" x2="230" y2="124.6"/>
<line x1="235.7" y1="132.4" x2="230" y2="124.6"/>
<line x1="235.7" y1="132.4" x2="244.2" y2="141.2"/>
<line x1="235.7" y1="132.4" x2="225.9" y2="136.5"/>
<line x1="228.4" y1="145.7" x2="224.1" y2="139.8"/>
<line x1="228.4" y1="145.7" x2="236.9" y2="154.5"/>
<line x1="228.4" y1="145.7" x2="218.6" y2="149.8"/>
<line x1="221.1" y1="159" x2="216.8" y2="153.1"/>
<line x1="221.1" y1="159" x2="229.6" y2="167.8"/>
<line x1="221.1" y1="159" x2="211.3" y2="163.1"/>
<line x1="213.8" y1="172.3" x2="209.5" y2="166.4"/>
<line x1="213.8" y1="172.3" x2="220.2" y2="178.9"/>
<line x1="213.8" y1="172.3" x2="204.1" y2="176.4"/>
<line x1="271.8" y1="109.1" x2="266.1" y2="101.3"/>
<line x1="271.8" y1="109.1" x2="280.3" y2="117.9"/>
<line x1="271.8" y1="109.1" x2="258.8" y2="114.6"/>
<line x1="264.5" y1="122.4" x2="258.8" y2="114.6"/>
<line x1="264.5" y1="122.4" x2="273" y2="131.2"/>
<line x1="264.5" y1="122.4" x2="251.5" y2="127.9"/>
<line x1="257.2" y1="135.7" x2="251.5" y2="127.9"/>
<line x1="257.2" y1="135.7" x2="265.7" y2="144.5"/>
<line x1="257.2" y1="135.7" x2="244.2" y2="141.2"/>
<line x1="249.9" y1="149" x2="244.2" y2="141.2"/>
<line x1="249.9" y1="149" x2="258.4" y2="157.8"/>
<line x1="249.9" y1="149" x2="236.9" y2="154.5"/>
<line x1="242.6" y1="162.3" x2="236.9" y2="154.5"/>
<line x1="242.6" y1="162.3" x2="251.1" y2="171.1"/>
<line x1="242.6" y1="162.3" x2="229.6" y2="167.8"/>
<line x1="235.3" y1="175.6" x2="229.6" y2="167.8"/>
<line x1="235.3" y1="175.6" x2="243.8" y2="184.4"/>
<line x1="235.3" y1="175.6" x2="225.6" y2="179.7"/>
<line x1="228" y1="188.9" x2="223.7" y2="183.1"/>
<line x1="228" y1="188.9" x2="236.5" y2="197.7"/>
<line x1="228" y1="188.9" x2="218.2" y2="193"/>
<line x1="220.7" y1="202.2" x2="216.4" y2="196.3"/>
<line x1="220.7" y1="202.2" x2="229.2" y2="211"/>
<line x1="220.7" y1="202.2" x2="210.9" y2="206.3"/>
<line x1="213.4" y1="215.5" x2="209.1" y2="209.6"/>
<line x1="213.4" y1="215.5" x2="219.8" y2="222.1"/>
<line x1="213.4" y1="215.5" x2="203.6" y2="219.6"/>
<line x1="286" y1="125.7" x2="280.3" y2="117.9"/>
<line x1="286" y1="125.7" x2="292.4" y2="132.3"/>
<line x1="286" y1="125.7" x2="273" y2="131.2"/>
<line x1="278.7" y1="139" x2="273" y2="131.2"/>
<line x1="278.7" y1="139" x2="287.2" y2="147.8"/>
<line x1="278.7" y1="139" x2="265.7" y2="144.5"/>
<line x1="271.4" y1="152.3" x2="265.7" y2="144.5"/>
<line x1="271.4" y1="152.3" x2="279.9" y2="161.1"/>
<line x1="271.4" y1="152.3" x2="258.4" y2="157.8"/>
<line x1="264.1" y1="165.6" x2="258.4" y2="157.8"/>
<line x1="264.1" y1="165.6" x2="272.6" y2="174.4"/>
<line x1="264.1" y1="165.6" x2="251.1" y2="171.1"/>
<line x1="256.8" y1="178.9" x2="251.1" y2="171.1"/>
<line x1="256.8" y1="178.9" x2="265.3" y2="187.7"/>
<line x1="256.8" y1="178.9" x2="243.8" y2="184.4"/>
<line x1="249.5" y1="192.2" x2="243.8" y2="184.4"/>
<line x1="249.5" y1="192.2" x2="258" y2="201"/>
<line x1="249.5" y1="192.2" x2="236.5" y2="197.7"/>
<line x1="242.2" y1="205.5" x2="236.5" y2="197.7"/>
<line x1="242.2" y1="205.5" x2="250.7" y2="214.3"/>
<line x1="242.2" y1="205.5" x2="229.2" y2="211"/>
<line x1="234.9" y1="218.8" x2="229.2" y2="211"/>
<line x1="234.9" y1="218.8" x2="243.4" y2="227.6"/>
<line x1="234.9" y1="218.8" x2="225.1" y2="222.9"/>
<line x1="227.6" y1="232.1" x2="223.3" y2="226.2"/>
<line x1="227.6" y1="232.1" x2="236.1" y2="240.9"/>
<line x1="227.6" y1="232.1" x2="217.8" y2="236.2"/>
<line x1="220.3" y1="245.4" x2="216" y2="239.6"/>
<line x1="220.3" y1="245.4" x2="228.8" y2="254.2"/>
<line x1="220.3" y1="245.4" x2="210.5" y2="249.5"/>
<line x1="213" y1="258.7" x2="208.7" y2="252.9"/>
<line x1="213" y1="258.7" x2="219.4" y2="265.3"/>
<line x1="213" y1="258.7" x2="203.2" y2="262.8"/>
<line x1="300.2" y1="142.3" x2="295.9" y2="136.4"/>
<line x1="300.2" y1="142.3" x2="306.6" y2="148.9"/>
<line x1="300.2" y1="142.3" x2="287.2" y2="147.8"/>
<line x1="292.9" y1="155.6" x2="287.2" y2="147.8"/>
<line x1="292.9" y1="155.6" x2="301.4" y2="164.4"/>
<line x1="292.9" y1="155.6" x2="279.9" y2="161.1"/>
<line x1="285.6" y1="168.9" x2="279.9" y2="161.1"/>
<line x1="285.6" y1="168.9" x2="294.1" y2="177.7"/>
<line x1="285.6" y1="168.9" x2="272.6" y2="174.4"/>
<line x1="278.3" y1="182.2" x2="272.6" y2="174.4"/>
<line x1="278.3" y1="182.2" x2="286.8" y2="191"/>
<line x1="278.3" y1="182.2" x2="265.3" y2="187.7"/>
<line x1="271" y1="195.5" x2="265.3" y2="187.7"/>
<line x1="271" y1="195.5" x2="279.5" y2="204.3"/>
<line x1="271" y1="195.5" x2="258" y2="201"/>
<line x1="263.7" y1="208.8" x2="258" y2="201"/>
<line x1="263.7" y1="208.8" x2="272.2" y2="217.6"/>
<line x1="263.7" y1="208.8" x2="250.7" y2="214.3"/>
<line x1="256.4" y1="222.1" x2="250.7" y2="214.3"/>
<line x1="256.4" y1="222.1" x2="264.9" y2="230.9"/>
<line x1="256.4" y1="222.1" x2="243.4" y2="227.6"/>
<line x1="249.1" y1="235.4" x2="243.4" y2="227.6"/>
<line x1="249.1" y1="235.4" x2="257.6" y2="244.2"/>
<line x1="249.1" y1="235.4" x2="236.1" y2="240.9"/>
<line x1="241.8" y1="248.7" x2="236.1" y2="240.9"/>
<line x1="241.8" y1="248.7" x2="250.3" y2="257.5"/>
<line x1="241.8" y1="248.7" x2="228.8" y2="254.2"/>
<line x1="234.5" y1="262" x2="228.8" y2="254.2"/>
<line x1="234.5" y1="262" x2="243" y2="270.8"/>
<line x1="234.5" y1="262" x2="224.8" y2="266.1"/>
<line x1="227.2" y1="275.3" x2="222.9" y2="269.4"/>
<line x1="227.2" y1="275.3" x2="235.7" y2="284.1"/>
<line x1="227.2" y1="275.3" x2="217.4" y2="279.4"/>
<line x1="219.9" y1="288.6" x2="215.6" y2="282.7"/>
<line x1="219.9" y1="288.6" x2="228.4" y2="297.4"/>
<line x1="219.9" y1="288.6" x2="210.2" y2="292.7"/>
<line x1="212.6" y1="301.9" x2="208.3" y2="296"/>
<line x1="212.6" y1="301.9" x2="219" y2="308.5"/>
<line x1="212.6" y1="301.9" x2="202.8" y2="306"/>
<line x1="314.4" y1="158.9" x2="310.1" y2="153"/>
<line x1="314.4" y1="158.9" x2="320.8" y2="165.5"/>
<line x1="314.4" y1="158.9" x2="301.4" y2="164.4"/>
<line x1="307.1" y1="172.2" x2="301.4" y2="164.4"/>
<line x1="307.1" y1="172.2" x2="313.5" y2="178.8"/>
<line x1="307.1" y1="172.2" x2="294.1" y2="177.7"/>
<line x1="299.8" y1="185.5" x2="294.1" y2="177.7"/>
<line x1="299.8" y1="185.5" x2="308.3" y2="194.3"/>
<line x1="299.8" y1="185.5" x2="286.8" y2="191"/>
<line x1="292.5" y1="198.8" x2="286.8" y2="191"/>
<line x1="292.5" y1="198.8" x2="301" y2="207.6"/>
<line x1="292.5" y1="198.8" x2="279.5" y2="204.3"/>
<line x1="285.2" y1="212.1" x2="279.5" y2="204.3"/>
<line x1="285.2" y1="212.1" x2="293.7" y2="220.9"/>
<line x1="285.2" y1="212.1" x2="272.2" y2="217.6"/>
<line x1="277.9" y1="225.4" x2="272.2" y2="217.6"/>
<line x1="277.9" y1="225.4" x2="286.4" y2="234.2"/>
<line x1="277.9" y1="225.4" x2="264.9" y2="230.9"/>
<line x1="270.6" y1="238.7" x2="264.9" y2="230.9"/>
<line x1="270.6" y1="238.7" x2="279.1" y2="247.5"/>
<line x1="270.6" y1="238.7" x2="257.6" y2="244.2"/>
<line x1="263.3" y1="252" x2="257.6" y2="244.2"/>
<line x1="263.3" y1="252" x2="271.8" y2="260.8"/>
<line x1="263.3" y1="252" x2="250.3" y2="257.5"/>
<line x1="256" y1="265.3" x2="250.3" y2="257.5"/>
<line x1="256" y1="265.3" x2="264.5" y2="274.1"/>
<line x1="256" y1="265.3" x2="243" y2="270.8"/>
<line x1="248.7" y1="278.6" x2="243" y2="270.8"/>
<line x1="248.7" y1="278.6" x2="257.2" y2="287.4"/>
<line x1="248.7" y1="278.6" x2="235.7" y2="284.1"/>
<line x1="241.4" y1="291.9" x2="235.7" y2="284.1"/>
<line x1="241.4" y1="291.9" x2="249.9" y2="300.7"/>
<line x1="241.4" y1="291.9" x2="228.4" y2="297.4"/>
<line x1="234.1" y1="305.2" x2="228.4" y2="297.4"/>
<line x1="234.1" y1="305.2" x2="242.6" y2="314"/>
<line x1="234.1" y1="305.2" x2="224.3" y2="309.3"/>
<line x1="226.8" y1="318.5" x2="222.5" y2="312.6"/>
<line x1="226.8" y1="318.5" x2="235.3" y2="327.3"/>
<line x1="226.8" y1="318.5" x2="217" y2="322.6"/>
<line x1="219.5" y1="331.8" x2="215.2" y2="325.9"/>
<line x1="219.5" y1="331.8" x2="228" y2="340.6"/>
<line x1="219.5" y1="331.8" x2="209.8" y2="335.9"/>
<line x1="212.2" y1="345.1" x2="207.9" y2="339.2"/>
<line x1="212.2" y1="345.1" x2="218.6" y2="351.7"/>
<line x1="212.2" y1="345.1" x2="202.4" y2="349.2"/>
<line x1="321.3" y1="188.8" x2="317" y2="182.9"/>
<line x1="321.3" y1="188.8" x2="327.7" y2="195.4"/>
<line x1="321.3" y1="188.8" x2="308.3" y2="194.3"/>
<line x1="314" y1="202.1" x2="308.3" y2="194.3"/>
<line x1="314" y1="202.1" x2="320.4" y2="208.7"/>
<line x1="314" y1="202.1" x2="301" y2="207.6"/>
<line x1="306.7" y1="215.4" x2="301" y2="207.6"/>
<line x1="306.7" y1="215.4" x2="313.1" y2="222"/>
<line x1="306.7" y1="215.4" x2="293.7" y2="220.9"/>
<line x1="299.4" y1="228.7" x2="293.7" y2="220.9"/>
<line x1="299.4" y1="228.7" x2="307.9" y2="237.5"/>
<line x1="299.4" y1="228.7" x2="286.4" y2="234.2"/>
<line x1="292.1" y1="242" x2="286.4" y2="234.2"/>
<line x1="292.1" y1="242" x2="300.6" y2="250.8"/>
<line x1="292.1" y1="242" x2="279.1" y2="247.5"/>
<line x1="284.8" y1="255.3" x2="279.1" y2="247.5"/>
<line x1="284.8" y1="255.3" x2="293.3" y2="264.1"/>
<line x1="284.8" y1="255.3" x2="271.8" y2="260.8"/>
<line x1="277.5" y1="268.6" x2="271.8" y2="260.8"/>
<line x1="277.5" y1="268.6" x2="286" y2="277.4"/>
<line x1="277.5" y1="268.6" x2="264.5" y2="274.1"/>
<line x1="270.2" y1="281.9" x2="264.5" y2="274.1"/>
<line x1="270.2" y1="281.9" x2="278.7" y2="290.7"/>
<line x1="270.2" y1="281.9" x2="257.2" y2="287.4"/>
<line x1="262.9" y1="295.2" x2="257.2" y2="287.4"/>
<line x1="262.9" y1="295.2" x2="271.4" y2="304"/>
<line x1="262.9" y1="295.2" x2="249.9" y2="300.7"/>
<line x1="255.6" y1="308.5" x2="249.9" y2="300.7"/>
<line x1="255.6" y1="308.5" x2="264.1" y2="317.3"/>
<line x1="255.6" y1="308.5" x2="242.6" y2="314"/>
<line x1="248.3" y1="321.8" x2="242.6" y2="314"/>
<line x1="248.3" y1="321.8" x2="256.8" y2="330.6"/>
<line x1="248.3" y1="321.8" x2="235.3" y2="327.3"/>
<line x1="241" y1="335.1" x2="235.3" y2="327.3"/>
<line x1="241" y1="335.1" x2="249.5" y2="343.9"/>
<line x1="241" y1="335.1" x2="228" y2="340.6"/>
<line x1="233.7" y1="348.4" x2="228" y2="340.6"/>
<line x1="233.7" y1="348.4" x2="242.2" y2="357.2"/>
<line x1="233.7" y1="348.4" x2="223.9" y2="352.5"/>
<line x1="226.4" y1="361.7" x2="222.1" y2="355.8"/>
<line x1="226.4" y1="361.7" x2="234.9" y2="370.5"/>
<line x1="226.4" y1="361.7" x2="216.7" y2="365.8"/>
<line x1="219.1" y1="375" x2="214.8" y2="369.1"/>
<line x1="219.1" y1="375" x2="227.6" y2="383.8"/>
<line x1="219.1" y1="375" x2="209.3" y2="379.1"/>
<line x1="211.8" y1="388.3" x2="207.5" y2="382.4"/>
<line x1="211.8" y1="388.3" x2="218.2" y2="394.9"/>
<line x1="211.8" y1="388.3" x2="202.1" y2="392.4"/>
<line x1="320.9" y1="232" x2="316.6" y2="226.1"/>
<line x1="320.9" y1="232" x2="327.3" y2="238.6"/>
<line x1="320.9" y1="232" x2="307.9" y2="237.5"/>
<line x1="313.6" y1="245.3" x2="307.9" y2="237.5"/>
<line x1="313.6" y1="245.3" x2="320" y2="251.9"/>
<line x1="313.6" y1="245.3" x2="300.6" y2="250.8"/>
<line x1="306.3" y1="258.6" x2="300.6" y2="250.8"/>
<line x1="306.3" y1="258.6" x2="312.7" y2="265.2"/>
<line x1="306.3" y1="258.6" x2="293.3" y2="264.1"/>
<line x1="299" y1="271.9" x2="293.3" y2="264.1"/>
<line x1="299" y1="271.9" x2="307.5" y2="280.7"/>
<line x1="299" y1="271.9" x2="286" y2="277.4"/>
<line x1="291.7" y1="285.2" x2="286" y2="277.4"/>
<line x1="291.7" y1="285.2" x2="300.2" y2="294"/>
<line x1="291.7" y1="285.2" x2="278.7" y2="290.7"/>
<line x1="284.4" y1="298.5" x2="278.7" y2="290.7"/>
<line x1="284.4" y1="298.5" x2="292.9" y2="307.3"/>
<line x1="284.4" y1="298.5" x2="271.4" y2="304"/>
<line x1="277.1" y1="311.8" x2="271.4" y2="304"/>
<line x1="277.1" y1="311.8" x2="285.6" y2="320.6"/>
<line x1="277.1" y1="311.8" x2="264.1" y2="317.3"/>
<line x1="269.8" y1="325.1" x2="264.1" y2="317.3"/>
<line x1="269.8" y1="325.1" x2="278.3" y2="333.9"/>
<line x1="269.8" y1="325.1" x2="256.8" y2="330.6"/>
<line x1="262.5" y1="338.4" x2="256.8" y2="330.6"/>
<line x1="262.5" y1="338.4" x2="271" y2="347.2"/>
<line x1="262.5" y1="338.4" x2="249.5" y2="343.9"/>
<line x1="255.2" y1="351.7" x2="249.5" y2="343.9"/>
<line x1="255.2" y1="351.7" x2="263.7" y2="360.5"/>
<line x1="255.2" y1="351.7" x2="242.2" y2="357.2"/>
<line x1="247.9" y1="365" x2="242.2" y2="357.2"/>
<line x1="247.9" y1="365" x2="256.4" y2="373.8"/>
<line x1="247.9" y1="365" x2="234.9" y2="370.5"/>
<line x1="240.6" y1="378.3" x2="234.9" y2="370.5"/>
<line x1="240.6" y1="378.3" x2="249.1" y2="387.1"/>
<line x1="240.6" y1="378.3" x2="227.6" y2="383.8"/>
<line x1="233.3" y1="391.6" x2="227.6" y2="383.8"/>
<line x1="233.3" y1="391.6" x2="241.8" y2="400.4"/>
<line x1="233.3" y1="391.6" x2="223.6" y2="395.7"/>
<line x1="226" y1="404.9" x2="221.7" y2="399.1"/>
<line x1="226" y1="404.9" x2="234.5" y2="413.7"/>
<line x1="226" y1="404.9" x2="216.3" y2="409"/>
<line x1="320.5" y1="275.2" x2="316.2" y2="269.4"/>
<line x1="320.5" y1="275.2" x2="326.9" y2="281.8"/>
<line x1="320.5" y1="275.2" x2="307.5" y2="280.7"/>
<line x1="313.2" y1="288.5" x2="307.5" y2="280.7"/>
<line x1="313.2" y1="288.5" x2="319.6" y2="295.1"/>
<line x1="313.2" y1="288.5" x2="300.2" y2="294"/>
<line x1="305.9" y1="301.8" x2="300.2" y2="294"/>
<line x1="305.9" y1="301.8" x2="312.3" y2="308.4"/>
<line x1="305.9" y1="301.8" x2="292.9" y2="307.3"/>
<line x1="298.6" y1="315.1" x2="292.9" y2="307.3"/>
<line x1="298.6" y1="315.1" x2="307.1" y2="323.9"/>
<line x1="298.6" y1="315.1" x2="285.6" y2="320.6"/>
<line x1="291.3" y1="328.4" x2="285.6" y2="320.6"/>
<line x1="291.3" y1="328.4" x2="299.8" y2="337.2"/>
<line x1="291.3" y1="328.4" x2="278.3" y2="333.9"/>
<line x1="284" y1="341.7" x2="278.3" y2="333.9"/>
<line x1="284" y1="341.7" x2="292.5" y2="350.5"/>
<line x1="284" y1="341.7" x2="271" y2="347.2"/>
<line x1="276.7" y1="355" x2="271" y2="347.2"/>
<line x1="276.7" y1="355" x2="285.2" y2="363.8"/>
<line x1="276.7" y1="355" x2="263.7" y2="360.5"/>
<line x1="269.4" y1="368.3" x2="263.7" y2="360.5"/>
<line x1="269.4" y1="368.3" x2="277.9" y2="377.1"/>
<line x1="269.4" y1="368.3" x2="256.4" y2="373.8"/>
<line x1="262.1" y1="381.6" x2="256.4" y2="373.8"/>
<line x1="262.1" y1="381.6" x2="270.6" y2="390.4"/>
<line x1="262.1" y1="381.6" x2="249.1" y2="387.1"/>
<line x1="254.8" y1="394.9" x2="249.1" y2="387.1"/>
<line x1="254.8" y1="394.9" x2="263.3" y2="403.7"/>
<line x1="254.8" y1="394.9" x2="241.8" y2="400.4"/>
<line x1="247.5" y1="408.2" x2="241.8" y2="400.4"/>
<line x1="247.5" y1="408.2" x2="256" y2="417"/>
<line x1="247.5" y1="408.2" x2="234.5" y2="413.7"/>
<line x1="240.2" y1="421.5" x2="234.5" y2="413.7"/>
<line x1="240.2" y1="421.5" x2="248.7" y2="430.3"/>
<line x1="240.2" y1="421.5" x2="230.5" y2="425.6"/>
<line x1="320.1" y1="318.4" x2="315.8" y2="312.5"/>
<line x1="320.1" y1="318.4" x2="326.5" y2="325"/>
<line x1="320.1" y1="318.4" x2="307.1" y2="323.9"/>
<line x1="312.8" y1="331.7" x2="307.1" y2="323.9"/>
<line x1="312.8" y1="331.7" x2="319.2" y2="338.3"/>
<line x1="312.8" y1="331.7" x2="299.8" y2="337.2"/>
<line x1="305.5" y1="345" x2="299.8" y2="337.2"/>
<line x1="305.5" y1="345" x2="311.9" y2="351.6"/>
<line x1="305.5" y1="345" x2="292.5" y2="350.5"/>
<line x1="298.2" y1="358.3" x2="292.5" y2="350.5"/>
<line x1="298.2" y1="358.3" x2="306.7" y2="367.1"/>
<line x1="298.2" y1="358.3" x2="285.2" y2="363.8"/>
<line x1="290.9" y1="371.6" x2="285.2" y2="363.8"/>
<line x1="290.9" y1="371.6" x2="299.4" y2="380.4"/>
<line x1="290.9" y1="371.6" x2="277.9" y2="377.1"/>
<line x1="283.6" y1="384.9" x2="277.9" y2="377.1"/>
<line x1="283.6" y1="384.9" x2="292.1" y2="393.7"/>
<line x1="283.6" y1="384.9" x2="270.6" y2="390.4"/>
<line x1="276.3" y1="398.2" x2="270.6" y2="390.4"/>
<line x1="276.3" y1="398.2" x2="284.8" y2="407"/>
<line x1="276.3" y1="398.2" x2="263.3" y2="403.7"/>
<line x1="269" y1="411.5" x2="263.3" y2="403.7"/>
<line x1="269" y1="411.5" x2="277.5" y2="420.3"/>
<line x1="269" y1="411.5" x2="256" y2="417"/>
<line x1="261.7" y1="424.8" x2="256" y2="417"/>
<line x1="261.7" y1="424.8" x2="270.2" y2="433.6"/>
<line x1="261.7" y1="424.8" x2="248.7" y2="430.3"/>
<line x1="254.4" y1="438.1" x2="248.7" y2="430.3"/>
<line x1="254.4" y1="438.1" x2="260.8" y2="444.7"/>
<line x1="254.4" y1="438.1" x2="244.7" y2="442.2"/>
<line x1="319.7" y1="361.6" x2="315.4" y2="355.8"/>
<line x1="319.7" y1="361.6" x2="326.1" y2="368.2"/>
<line x1="319.7" y1="361.6" x2="306.7" y2="367.1"/>
<line x1="312.4" y1="374.9" x2="306.7" y2="367.1"/>
<line x1="312.4" y1="374.9" x2="318.8" y2="381.5"/>
<line x1="312.4" y1="374.9" x2="299.4" y2="380.4"/>
<line x1="305.1" y1="388.2" x2="299.4" y2="380.4"/>
<line x1="305.1" y1="388.2" x2="313.6" y2="397"/>
<line x1="305.1" y1="388.2" x2="292.1" y2="393.7"/>
<line x1="297.8" y1="401.5" x2="292.1" y2="393.7"/>
<line x1="297.8" y1="401.5" x2="306.3" y2="410.3"/>
<line x1="297.8" y1="401.5" x2="284.8" y2="407"/>
<line x1="290.5" y1="414.8" x2="284.8" y2="407"/>
<line x1="290.5" y1="414.8" x2="299" y2="423.6"/>
<line x1="290.5" y1="414.8" x2="277.5" y2="420.3"/>
<line x1="283.2" y1="428.1" x2="277.5" y2="420.3"/>
<line x1="283.2" y1="428.1" x2="291.7" y2="436.9"/>
<line x1="283.2" y1="428.1" x2="270.2" y2="433.6"/>
<line x1="275.9" y1="441.4" x2="270.2" y2="433.6"/>
<line x1="275.9" y1="441.4" x2="284.4" y2="450.2"/>
<line x1="275.9" y1="441.4" x2="266.2" y2="445.5"/>
<line x1="319.3" y1="404.8" x2="313.6" y2="397"/>
<line x1="319.3" y1="404.8" x2="325.7" y2="411.4"/>
<line x1="319.3" y1="404.8" x2="306.3" y2="410.3"/>
<line x1="312" y1="418.1" x2="306.3" y2="410.3"/>
<line x1="312" y1="418.1" x2="318.4" y2="424.7"/>
<line x1="312" y1="418.1" x2="299" y2="423.6"/>
<line x1="304.7" y1="431.4" x2="299" y2="423.6"/>
<line x1="304.7" y1="431.4" x2="311.1" y2="438"/>
<line x1="304.7" y1="431.4" x2="291.7" y2="436.9"/>
<line x1="297.4" y1="444.7" x2="291.7" y2="436.9"/>
<line x1="297.4" y1="444.7" x2="305.9" y2="453.5"/>
<line x1="297.4" y1="444.7" x2="284.4" y2="450.2"/>
<line x1="290.1" y1="458" x2="284.4" y2="450.2"/>
<line x1="290.1" y1="458" x2="298.6" y2="466.8"/>
<line x1="290.1" y1="458" x2="280.4" y2="462.1"/>
<line x1="304.3" y1="474.6" x2="298.6" y2="466.8"/>
<line x1="304.3" y1="474.6" x2="310.7" y2="481.2"/>
<line x1="304.3" y1="474.6" x2="294.6" y2="478.7"/>
</g>
<g fill="url(#gS)">
<circle cx="243.4" cy="75.9" r="4.4"/>
<circle cx="236.1" cy="89.2" r="4.4"/>
<circle cx="228.8" cy="102.5" r="4.4"/>
<circle cx="221.5" cy="115.8" r="4.4"/>
<circle cx="257.6" cy="92.5" r="4.4"/>
<circle cx="250.3" cy="105.8" r="4.4"/>
<circle cx="243" cy="119.1" r="4.4"/>
<circle cx="235.7" cy="132.4" r="4.4"/>
<circle cx="228.4" cy="145.7" r="4.4"/>
<circle cx="221.1" cy="159" r="4.4"/>
<circle cx="213.8" cy="172.3" r="4.4"/>
<circle cx="271.8" cy="109.1" r="4.4"/>
<circle cx="264.5" cy="122.4" r="4.4"/>
<circle cx="257.2" cy="135.7" r="4.4"/>
<circle cx="249.9" cy="149" r="4.4"/>
<circle cx="242.6" cy="162.3" r="4.4"/>
<circle cx="235.3" cy="175.6" r="4.4"/>
<circle cx="228" cy="188.9" r="4.4"/>
<circle cx="220.7" cy="202.2" r="4.4"/>
<circle cx="213.4" cy="215.5" r="4.4"/>
<circle cx="286" cy="125.7" r="4.4"/>
<circle cx="278.7" cy="139" r="4.4"/>
<circle cx="271.4" cy="152.3" r="4.4"/>
<circle cx="264.1" cy="165.6" r="4.4"/>
<circle cx="256.8" cy="178.9" r="4.4"/>
<circle cx="249.5" cy="192.2" r="4.4"/>
<circle cx="242.2" cy="205.5" r="4.4"/>
<circle cx="234.9" cy="218.8" r="4.4"/>
<circle cx="227.6" cy="232.1" r="4.4"/>
<circle cx="220.3" cy="245.4" r="4.4"/>
<circle cx="213" cy="258.7" r="4.4"/>
<circle cx="300.2" cy="142.3" r="4.4"/>
<circle cx="292.9" cy="155.6" r="4.4"/>
<circle cx="285.6" cy="168.9" r="4.4"/>
<circle cx="278.3" cy="182.2" r="4.4"/>
<circle cx="271" cy="195.5" r="4.4"/>
<circle cx="263.7" cy="208.8" r="4.4"/>
<circle cx="256.4" cy="222.1" r="4.4"/>
<circle cx="249.1" cy="235.4" r="4.4"/>
<circle cx="241.8" cy="248.7" r="4.4"/>
<circle cx="234.5" cy="262" r="4.4"/>
<circle cx="227.2" cy="275.3" r="4.4"/>
<circle cx="219.9" cy="288.6" r="4.4"/>
<circle cx="212.6" cy="301.9" r="4.4"/>
<circle cx="314.4" cy="158.9" r="4.4"/>
<circle cx="307.1" cy="172.2" r="4.4"/>
<circle cx="299.8" cy="185.5" r="4.4"/>
<circle cx="292.5" cy="198.8" r="4.4"/>
<circle cx="285.2" cy="212.1" r="4.4"/>
<circle cx="277.9" cy="225.4" r="4.4"/>
<circle cx="270.6" cy="238.7" r="4.4"/>
<circle cx="263.3" cy="252" r="4.4"/>
<circle cx="256" cy="265.3" r="4.4"/>
<circle cx="248.7" cy="278.6" r="4.4"/>
<circle cx="241.4" cy="291.9" r="4.4"/>
<circle cx="234.1" cy="305.2" r="4.4"/>
<circle cx="226.8" cy="318.5" r="4.4"/>
<circle cx="219.5" cy="331.8" r="4.4"/>
<circle cx="212.2" cy="345.1" r="4.4"/>
<circle cx="321.3" cy="188.8" r="4.4"/>
<circle cx="314" cy="202.1" r="4.4"/>
<circle cx="306.7" cy="215.4" r="4.4"/>
<circle cx="299.4" cy="228.7" r="4.4"/>
<circle cx="292.1" cy="242" r="4.4"/>
<circle cx="284.8" cy="255.3" r="4.4"/>
<circle cx="277.5" cy="268.6" r="4.4"/>
<circle cx="270.2" cy="281.9" r="4.4"/>
<circle cx="262.9" cy="295.2" r="4.4"/>
<circle cx="255.6" cy="308.5" r="4.4"/>
<circle cx="248.3" cy="321.8" r="4.4"/>
<circle cx="241" cy="335.1" r="4.4"/>
<circle cx="233.7" cy="348.4" r="4.4"/>
<circle cx="226.4" cy="361.7" r="4.4"/>
<circle cx="219.1" cy="375" r="4.4"/>
<circle cx="211.8" cy="388.3" r="4.4"/>
<circle cx="320.9" cy="232" r="4.4"/>
<circle cx="313.6" cy="245.3" r="4.4"/>
<circle cx="306.3" cy="258.6" r="4.4"/>
<circle cx="299" cy="271.9" r="4.4"/>
<circle cx="291.7" cy="285.2" r="4.4"/>
<circle cx="284.4" cy="298.5" r="4.4"/>
<circle cx="277.1" cy="311.8" r="4.4"/>
<circle cx="269.8" cy="325.1" r="4.4"/>
<circle cx="262.5" cy="338.4" r="4.4"/>
<circle cx="255.2" cy="351.7" r="4.4"/>
<circle cx="247.9" cy="365" r="4.4"/>
<circle cx="240.6" cy="378.3" r="4.4"/>
<circle cx="233.3" cy="391.6" r="4.4"/>
<circle cx="226" cy="404.9" r="4.4"/>
<circle cx="320.5" cy="275.2" r="4.4"/>
<circle cx="313.2" cy="288.5" r="4.4"/>
<circle cx="305.9" cy="301.8" r="4.4"/>
<circle cx="298.6" cy="315.1" r="4.4"/>
<circle cx="291.3" cy="328.4" r="4.4"/>
<circle cx="284" cy="341.7" r="4.4"/>
<circle cx="276.7" cy="355" r="4.4"/>
<circle cx="269.4" cy="368.3" r="4.4"/>
<circle cx="262.1" cy="381.6" r="4.4"/>
<circle cx="254.8" cy="394.9" r="4.4"/>
<circle cx="247.5" cy="408.2" r="4.4"/>
<circle cx="240.2" cy="421.5" r="4.4"/>
<circle cx="320.1" cy="318.4" r="4.4"/>
<circle cx="312.8" cy="331.7" r="4.4"/>
<circle cx="305.5" cy="345" r="4.4"/>
<circle cx="298.2" cy="358.3" r="4.4"/>
<circle cx="290.9" cy="371.6" r="4.4"/>
<circle cx="283.6" cy="384.9" r="4.4"/>
<circle cx="276.3" cy="398.2" r="4.4"/>
<circle cx="269" cy="411.5" r="4.4"/>
<circle cx="261.7" cy="424.8" r="4.4"/>
<circle cx="254.4" cy="438.1" r="4.4"/>
<circle cx="319.7" cy="361.6" r="4.4"/>
<circle cx="312.4" cy="374.9" r="4.4"/>
<circle cx="305.1" cy="388.2" r="4.4"/>
<circle cx="297.8" cy="401.5" r="4.4"/>
<circle cx="290.5" cy="414.8" r="4.4"/>
<circle cx="283.2" cy="428.1" r="4.4"/>
<circle cx="275.9" cy="441.4" r="4.4"/>
<circle cx="319.3" cy="404.8" r="4.4"/>
<circle cx="312" cy="418.1" r="4.4"/>
<circle cx="304.7" cy="431.4" r="4.4"/>
<circle cx="297.4" cy="444.7" r="4.4"/>
<circle cx="290.1" cy="458" r="4.4"/>
<circle cx="304.3" cy="474.6" r="4.4"/>
</g>
<defs><linearGradient id="cg1" x1="0" y1="0" x2="1" y2="1"><stop offset="0" stop-color="#5cc84a"/><stop offset="0.6" stop-color="#2b9a2b"/><stop offset="1" stop-color="#0d3d10"/></linearGradient><linearGradient id="cr1" x1="0" y1="0" x2="1" y2="1"><stop offset="0" stop-color="#ff2a2a"/><stop offset="0.55" stop-color="#c40f0f"/><stop offset="1" stop-color="#300404"/></linearGradient></defs>
<line x1="68.5" y1="256" x2="61" y2="238" stroke="#1a5a1c" stroke-width="8.4"/>
<line x1="68" y1="255" x2="61.5" y2="239" stroke="#3cae38" stroke-width="5.4"/>
<polyline points="68.8,257 69,256.9 69.2,256.7 69.3,256.4 69.5,255.9 69.7,255.3 70,254.6 70.2,253.7 70.4,252.7 70.7,251.7 71,250.5 71.3,249.2 71.6,247.8 72,246.3 72.3,244.7 72.7,243.1 73.2,241.3 73.6,239.6 74.1,237.8 74.7,235.9 75.2,234 75.8,232.2 76.5,230.3 77.1,228.4 77.8,226.5 78.5,224.6 79.3,222.8 80.1,221 80.9,219.2 81.7,217.5 82.6,215.9 83.5,214.3 84.5,212.9 85.4,211.5 86.4,210.2 87.4,209.1 88.4,208 89.5,207 90.5,206.2 91.6,205.5 92.7,204.9 93.7,204.5 94.8,204.2 95.9,204 97,204 98.1,204.1 99.2,204.3 100.3,204.7 101.4,205.2 102.5,205.9 103.5,206.6 104.6,207.5 105.6,208.5 106.6,209.6 107.6,210.9 108.6,212.2 109.5,213.6 110.4,215.1 111.3,216.7 112.2,218.4 113,220.1 113.8,221.9 114.6,223.7 115.4,225.6 116.1,227.4 116.7,229.3 117.4,231.2 118,233.1 118.6,235 119.1,236.9 119.6,238.7 120.1,240.5 120.6,242.2 121,243.9 121.4,245.5 121.7,247.1 122.1,248.5 122.4,249.8 122.7,251.1 122.9,252.2 123.2,253.3 123.4,254.2 123.7,255 123.9,255.6 124.1,256.2 124.3,256.6 124.4,256.9 124.6,257 124.8,257 125,256.8 125.2,256.6 125.3,256.2 125.5,255.6 125.8,254.9 126,254.1 126.2,253.2 126.5,252.2 126.7,251 127,249.8 127.3,248.4 127.7,247 128.1,245.5 128.4,243.8 128.9,242.2 129.3,240.4 129.8,238.6 130.3,236.8 130.9,234.9 131.4,233.1 132,231.2 132.7,229.3 133.4,227.4 134.1,225.5 134.8,223.6 135.6,221.8 136.4,220 137.2,218.3 138.1,216.7 139,215.1 139.9,213.6 140.9,212.1 141.8,210.8 142.8,209.6 143.8,208.5 144.9,207.5 145.9,206.6 147,205.8 148,205.2 149.1,204.7 150.2,204.3 151.3,204.1 152.4,204 153.5,204 154.6,204.2 155.7,204.5 156.8,205 157.9,205.5 158.9,206.3 160,207.1 161,208 162,209.1 163,210.3 164,211.6 165,212.9 165.9,214.4 166.8,216 167.7,217.6 168.5,219.3 169.4,221 170.1,222.8 170.9,224.7 171.6,226.5 172.3,228.4 173,230.3 173.6,232.2 174.2,234.1 174.8,236 175.3,237.9 175.8,239.7 176.2,241.4 176.7,243.1 177.1,244.8 177.5,246.3 177.8,247.8 178.1,249.2 178.4,250.5 178.7,251.7 179,252.8 179.2,253.8 179.5,254.6 179.7,255.3 179.9,255.9 180.1,256.4 180.2,256.7 180.4,256.9 180.6,257 180.8,256.9 181,256.7 181.2,256.4 181.3,255.9 181.6,255.3 181.8,254.5 182,253.7 182.2,252.7 182.5,251.6 182.8,250.4 183.1,249.1 183.4,247.7 183.8,246.2 184.2,244.6 184.6,243 185,241.3 185.5,239.5 186,237.7 186.5,235.8 187.1,234 187.7,232.1 188.3,230.2 188.9,228.3 189.6,226.4 190.4,224.5 191.1,222.7 191.9,220.9 192.7,219.1 193.6,217.4 194.5,215.8 195.4,214.3 196.3,212.8 197.3,211.4 198.2,210.2 199.2,209 200.3,207.9 201.3,207 202.4,206.2 203.4,205.5 204.5,204.9 205.6,204.5 206.7,204.2 207.8,204 208.9,204 210,204.1 211.1,204.4 212.2,204.7 213.3,205.3 214.3,205.9 215.4,206.7 216.4,207.6 217.5,208.6 218.5,209.7 219.5,210.9 220.4,212.3 221.4,213.7 222.3,215.2 223.2,216.8 224,218.5 224.9,220.2 225.7,222 226.4,223.8 227.2,225.6 227.9,227.5" fill="none" stroke="#1a5a1c" stroke-width="8.6" stroke-linecap="butt" stroke-linejoin="round"/>
<polyline points="68.4,256 68.3,256 68.2,256.1" fill="none" stroke="#216d22" stroke-width="5.3" stroke-linecap="round" stroke-linejoin="round"/>
<polyline points="68.2,256.1 68.3,255.9 68.5,255.5" fill="none" stroke="#257625" stroke-width="5.3" stroke-linecap="round" stroke-linejoin="round"/>
<polyline points="68.5,255.5 68.7,255 68.9,254.3" fill="none" stroke="#298028" stroke-width="5.3" stroke-linecap="round" stroke-linejoin="round"/>
<polyline points="68.9,254.3 69.1,253.4 69.3,252.5" fill="none" stroke="#2d892b" stroke-width="5.3" stroke-linecap="round" stroke-linejoin="round"/>
<polyline points="69.3,252.5 69.6,251.4 69.9,250.2" fill="none" stroke="#31942f" stroke-width="5.3" stroke-linecap="round" stroke-linejoin="round"/>
<polyline points="69.9,250.2 70.2,248.9 70.5,247.5" fill="none" stroke="#359f33" stroke-width="5.3" stroke-linecap="round" stroke-linejoin="round"/>
<polyline points="70.5,247.5 70.9,246 71.3,244.4" fill="none" stroke="#3aaa36" stroke-width="5.3" stroke-linecap="round" stroke-linejoin="round"/>
<polyline points="71.3,244.4 71.7,242.8 72.1,241.1" fill="none" stroke="#3bac37" stroke-width="5.3" stroke-linecap="round" stroke-linejoin="round"/>
<polyline points="72.1,241.1 72.6,239.3 73.1,237.5" fill="none" stroke="#3bad37" stroke-width="5.3" stroke-linecap="round" stroke-linejoin="round"/>
<polyline points="73.1,237.5 73.6,235.6 74.2,233.7" fill="none" stroke="#3bad37" stroke-width="5.3" stroke-linecap="round" stroke-linejoin="round"/>
<polyline points="74.2,233.7 74.8,231.8 75.4,229.9" fill="none" stroke="#3bad37" stroke-width="5.3" stroke-linecap="round" stroke-linejoin="round"/>
<polyline points="75.4,229.9 76.1,228 76.8,226.1" fill="none" stroke="#3bad37" stroke-width="5.3" stroke-linecap="round" stroke-linejoin="round"/>
<polyline points="76.8,226.1 77.5,224.2 78.3,222.3" fill="none" stroke="#3bad37" stroke-width="5.3" stroke-linecap="round" stroke-linejoin="round"/>
<polyline points="78.3,222.3 79.1,220.5 79.9,218.7" fill="none" stroke="#3bad37" stroke-width="5.3" stroke-linecap="round" stroke-linejoin="round"/>
<polyline points="79.9,218.7 80.8,217 81.7,215.3" fill="none" stroke="#3bac37" stroke-width="5.3" stroke-linecap="round" stroke-linejoin="round"/>
<polyline points="81.7,215.3 82.6,213.8 83.5,212.3" fill="none" stroke="#3aab37" stroke-width="5.3" stroke-linecap="round" stroke-linejoin="round"/>
<polyline points="83.5,212.3 84.5,210.8 85.5,209.5" fill="none" stroke="#3aa936" stroke-width="5.3" stroke-linecap="round" stroke-linejoin="round"/>
<polyline points="85.5,209.5 86.6,208.3 87.6,207.2" fill="none" stroke="#39a836" stroke-width="5.3" stroke-linecap="round" stroke-linejoin="round"/>
<polyline points="87.6,207.2 88.7,206.2 89.9,205.3" fill="none" stroke="#38a635" stroke-width="5.3" stroke-linecap="round" stroke-linejoin="round"/>
<polyline points="89.9,205.3 91,204.6 92.2,203.9" fill="none" stroke="#38a434" stroke-width="5.3" stroke-linecap="round" stroke-linejoin="round"/>
<polyline points="92.2,203.9 93.4,203.5 94.6,203.1" fill="none" stroke="#37a234" stroke-width="5.3" stroke-linecap="round" stroke-linejoin="round"/>
<polyline points="94.6,203.1 95.8,202.9 97.1,202.9" fill="none" stroke="#36a033" stroke-width="5.3" stroke-linecap="round" stroke-linejoin="round"/>
<polyline points="97.1,202.9 98.3,203 99.5,203.3" fill="none" stroke="#359e32" stroke-width="5.3" stroke-linecap="round" stroke-linejoin="round"/>
<polyline points="99.5,203.3 100.7,203.7 101.9,204.2" fill="none" stroke="#349c32" stroke-width="5.3" stroke-linecap="round" stroke-linejoin="round"/>
<polyline points="101.9,204.2 103.1,204.9 104.2,205.8" fill="none" stroke="#349a31" stroke-width="5.3" stroke-linecap="round" stroke-linejoin="round"/>
<polyline points="104.2,205.8 105.3,206.7 104.8,209.3" fill="none" stroke="#339830" stroke-width="5.3" stroke-linecap="round" stroke-linejoin="round"/>
<polyline points="104.8,209.3 105.8,210.4 106.7,211.6" fill="none" stroke="#329630" stroke-width="5.3" stroke-linecap="round" stroke-linejoin="round"/>
<polyline points="106.7,211.6 107.7,212.8 108.6,214.2" fill="none" stroke="#32952f" stroke-width="5.3" stroke-linecap="round" stroke-linejoin="round"/>
<polyline points="108.6,214.2 109.5,215.7 110.4,217.3" fill="none" stroke="#31942f" stroke-width="5.3" stroke-linecap="round" stroke-linejoin="round"/>
<polyline points="110.4,217.3 111.2,218.9 112,220.6" fill="none" stroke="#31932f" stroke-width="5.3" stroke-linecap="round" stroke-linejoin="round"/>
<polyline points="112,220.6 112.8,222.3 113.6,224.1" fill="none" stroke="#30922e" stroke-width="5.3" stroke-linecap="round" stroke-linejoin="round"/>
<polyline points="113.6,224.1 114.3,226 115,227.8" fill="none" stroke="#30912e" stroke-width="5.3" stroke-linecap="round" stroke-linejoin="round"/>
<polyline points="115,227.8 115.7,229.7 116.3,231.6" fill="none" stroke="#30912e" stroke-width="5.3" stroke-linecap="round" stroke-linejoin="round"/>
<polyline points="116.3,231.6 116.9,233.5 117.5,235.3" fill="none" stroke="#30912e" stroke-width="5.3" stroke-linecap="round" stroke-linejoin="round"/>
<polyline points="117.5,235.3 118,237.2 118.5,239" fill="none" stroke="#30912e" stroke-width="5.3" stroke-linecap="round" stroke-linejoin="round"/>
<polyline points="118.5,239 119,240.8 119.5,242.5" fill="none" stroke="#30922e" stroke-width="5.3" stroke-linecap="round" stroke-linejoin="round"/>
<polyline points="119.5,242.5 119.9,244.2 120.3,245.8" fill="none" stroke="#31932f" stroke-width="5.3" stroke-linecap="round" stroke-linejoin="round"/>
<polyline points="120.3,245.8 120.6,247.3 121,248.7" fill="none" stroke="#30922e" stroke-width="5.3" stroke-linecap="round" stroke-linejoin="round"/>
<polyline points="121,248.7 121.3,250.1 121.6,251.3" fill="none" stroke="#2e8c2c" stroke-width="5.3" stroke-linecap="round" stroke-linejoin="round"/>
<polyline points="121.6,251.3 121.9,252.5 122.1,253.5" fill="none" stroke="#2c862a" stroke-width="5.3" stroke-linecap="round" stroke-linejoin="round"/>
<polyline points="122.1,253.5 122.4,254.5 122.6,255.3" fill="none" stroke="#298028" stroke-width="5.3" stroke-linecap="round" stroke-linejoin="round"/>
<polyline points="122.6,255.3 122.8,256 123,256.6" fill="none" stroke="#277a26" stroke-width="5.3" stroke-linecap="round" stroke-linejoin="round"/>
<polyline points="123,256.6 123.3,257.1 123.6,257.6" fill="none" stroke="#247324" stroke-width="5.3" stroke-linecap="round" stroke-linejoin="round"/>
<polyline points="123.6,257.6 125,255.9 124.4,255.9" fill="none" stroke="#216b21" stroke-width="5.3" stroke-linecap="round" stroke-linejoin="round"/>
<polyline points="124.4,255.9 124.1,256.1 124.2,256" fill="none" stroke="#226f23" stroke-width="5.3" stroke-linecap="round" stroke-linejoin="round"/>
<polyline points="124.2,256 124.3,255.7 124.5,255.3" fill="none" stroke="#267826" stroke-width="5.3" stroke-linecap="round" stroke-linejoin="round"/>
<polyline points="124.5,255.3 124.7,254.6 124.9,253.9" fill="none" stroke="#2a8229" stroke-width="5.3" stroke-linecap="round" stroke-linejoin="round"/>
<polyline points="124.9,253.9 125.1,253 125.4,251.9" fill="none" stroke="#2e8c2c" stroke-width="5.3" stroke-linecap="round" stroke-linejoin="round"/>
<polyline points="125.4,251.9 125.6,250.8 125.9,249.5" fill="none" stroke="#329730" stroke-width="5.3" stroke-linecap="round" stroke-linejoin="round"/>
<polyline points="125.9,249.5 126.3,248.2 126.6,246.7" fill="none" stroke="#37a133" stroke-width="5.3" stroke-linecap="round" stroke-linejoin="round"/>
<polyline points="126.6,246.7 127,245.2 127.4,243.6" fill="none" stroke="#3aab37" stroke-width="5.3" stroke-linecap="round" stroke-linejoin="round"/>
<polyline points="127.4,243.6 127.8,241.9 128.2,240.1" fill="none" stroke="#3bac37" stroke-width="5.3" stroke-linecap="round" stroke-linejoin="round"/>
<polyline points="128.2,240.1 128.7,238.3 129.2,236.5" fill="none" stroke="#3bad37" stroke-width="5.3" stroke-linecap="round" stroke-linejoin="round"/>
<polyline points="129.2,236.5 129.8,234.6 130.4,232.7" fill="none" stroke="#3bad37" stroke-width="5.3" stroke-linecap="round" stroke-linejoin="round"/>
<polyline points="130.4,232.7 131,230.8 131.6,228.9" fill="none" stroke="#3bad37" stroke-width="5.3" stroke-linecap="round" stroke-linejoin="round"/>
<polyline points="131.6,228.9 132.3,227 133,225.1" fill="none" stroke="#3bad37" stroke-width="5.3" stroke-linecap="round" stroke-linejoin="round"/>
<polyline points="133,225.1 133.8,223.2 134.6,221.4" fill="none" stroke="#3bad37" stroke-width="5.3" stroke-linecap="round" stroke-linejoin="round"/>
<polyline points="134.6,221.4 135.4,219.6 136.2,217.8" fill="none" stroke="#3bac37" stroke-width="5.3" stroke-linecap="round" stroke-linejoin="round"/>
<polyline points="136.2,217.8 137.1,216.1 138,214.5" fill="none" stroke="#3bab37" stroke-width="5.3" stroke-linecap="round" stroke-linejoin="round"/>
<polyline points="138,214.5 139,213 139.9,211.5" fill="none" stroke="#3aaa36" stroke-width="5.3" stroke-linecap="round" stroke-linejoin="round"/>
<polyline points="139.9,211.5 140.9,210.1 142,208.9" fill="none" stroke="#3aa936" stroke-width="5.3" stroke-linecap="round" stroke-linejoin="round"/>
<polyline points="142,208.9 143,207.7 144.1,206.7" fill="none" stroke="#39a735" stroke-width="5.3" stroke-linecap="round" stroke-linejoin="round"/>
<polyline points="144.1,206.7 145.2,205.7 146.4,204.9" fill="none" stroke="#38a535" stroke-width="5.3" stroke-linecap="round" stroke-linejoin="round"/>
<polyline points="146.4,204.9 147.5,204.2 148.7,203.7" fill="none" stroke="#37a334" stroke-width="5.3" stroke-linecap="round" stroke-linejoin="round"/>
<polyline points="148.7,203.7 149.9,203.3 151.1,203" fill="none" stroke="#37a133" stroke-width="5.3" stroke-linecap="round" stroke-linejoin="round"/>
<polyline points="151.1,203 152.4,202.9 153.6,202.9" fill="none" stroke="#369f33" stroke-width="5.3" stroke-linecap="round" stroke-linejoin="round"/>
<polyline points="153.6,202.9 154.8,203.1 156.1,203.5" fill="none" stroke="#359d32" stroke-width="5.3" stroke-linecap="round" stroke-linejoin="round"/>
<polyline points="156.1,203.5 157.3,204 158.4,204.6" fill="none" stroke="#349b31" stroke-width="5.3" stroke-linecap="round" stroke-linejoin="round"/>
<polyline points="158.4,204.6 159.6,205.3 160.7,206.2" fill="none" stroke="#339931" stroke-width="5.3" stroke-linecap="round" stroke-linejoin="round"/>
<polyline points="160.7,206.2 161.8,207.2 161.2,209.8" fill="none" stroke="#339830" stroke-width="5.3" stroke-linecap="round" stroke-linejoin="round"/>
<polyline points="161.2,209.8 162.2,211 163.1,212.2" fill="none" stroke="#329630" stroke-width="5.3" stroke-linecap="round" stroke-linejoin="round"/>
<polyline points="163.1,212.2 164,213.6 165,215" fill="none" stroke="#31952f" stroke-width="5.3" stroke-linecap="round" stroke-linejoin="round"/>
<polyline points="165,215 165.8,216.5 166.7,218.1" fill="none" stroke="#31932f" stroke-width="5.3" stroke-linecap="round" stroke-linejoin="round"/>
<polyline points="166.7,218.1 167.5,219.8 168.3,221.5" fill="none" stroke="#30922e" stroke-width="5.3" stroke-linecap="round" stroke-linejoin="round"/>
<polyline points="168.3,221.5 169.1,223.3 169.9,225.1" fill="none" stroke="#30922e" stroke-width="5.3" stroke-linecap="round" stroke-linejoin="round"/>
<polyline points="169.9,225.1 170.6,226.9 171.3,228.8" fill="none" stroke="#30912e" stroke-width="5.3" stroke-linecap="round" stroke-linejoin="round"/>
<polyline points="171.3,228.8 171.9,230.7 172.5,232.6" fill="none" stroke="#30912e" stroke-width="5.3" stroke-linecap="round" stroke-linejoin="round"/>
<polyline points="172.5,232.6 173.1,234.5 173.7,236.3" fill="none" stroke="#30912e" stroke-width="5.3" stroke-linecap="round" stroke-linejoin="round"/>
<polyline points="173.7,236.3 174.2,238.2 174.7,239.9" fill="none" stroke="#30922e" stroke-width="5.3" stroke-linecap="round" stroke-linejoin="round"/>
<polyline points="174.7,239.9 175.2,241.7 175.6,243.4" fill="none" stroke="#30922e" stroke-width="5.3" stroke-linecap="round" stroke-linejoin="round"/>
<polyline points="175.6,243.4 176,245 176.4,246.6" fill="none" stroke="#31932f" stroke-width="5.3" stroke-linecap="round" stroke-linejoin="round"/>
<polyline points="176.4,246.6 176.7,248.1 177,249.5" fill="none" stroke="#30902e" stroke-width="5.3" stroke-linecap="round" stroke-linejoin="round"/>
<polyline points="177,249.5 177.3,250.8 177.6,252" fill="none" stroke="#2d8b2c" stroke-width="5.3" stroke-linecap="round" stroke-linejoin="round"/>
<polyline points="177.6,252 177.9,253.1 178.1,254" fill="none" stroke="#2b852a" stroke-width="5.3" stroke-linecap="round" stroke-linejoin="round"/>
<polyline points="178.1,254 178.4,254.9 178.6,255.7" fill="none" stroke="#297f28" stroke-width="5.3" stroke-linecap="round" stroke-linejoin="round"/>
<polyline points="178.6,255.7 178.8,256.3 179.1,256.9" fill="none" stroke="#267826" stroke-width="5.3" stroke-linecap="round" stroke-linejoin="round"/>
<polyline points="179.1,256.9 179.3,257.4 181.1,256" fill="none" stroke="#237123" stroke-width="5.3" stroke-linecap="round" stroke-linejoin="round"/>
<polyline points="181.1,256 180.6,255.9 180.1,256" fill="none" stroke="#206921" stroke-width="5.3" stroke-linecap="round" stroke-linejoin="round"/>
<polyline points="180.1,256 180,256.1 180.1,255.9" fill="none" stroke="#237224" stroke-width="5.3" stroke-linecap="round" stroke-linejoin="round"/>
<polyline points="180.1,255.9 180.3,255.5 180.5,254.9" fill="none" stroke="#277b27" stroke-width="5.3" stroke-linecap="round" stroke-linejoin="round"/>
<polyline points="180.5,254.9 180.7,254.2 180.9,253.4" fill="none" stroke="#2b852a" stroke-width="5.3" stroke-linecap="round" stroke-linejoin="round"/>
<polyline points="180.9,253.4 181.2,252.4 181.4,251.3" fill="none" stroke="#2f8f2d" stroke-width="5.3" stroke-linecap="round" stroke-linejoin="round"/>
<polyline points="181.4,251.3 181.7,250.1 182,248.8" fill="none" stroke="#339931" stroke-width="5.3" stroke-linecap="round" stroke-linejoin="round"/>
<polyline points="182,248.8 182.3,247.4 182.7,245.9" fill="none" stroke="#38a434" stroke-width="5.3" stroke-linecap="round" stroke-linejoin="round"/>
<polyline points="182.7,245.9 183.1,244.4 183.5,242.7" fill="none" stroke="#3bab37" stroke-width="5.3" stroke-linecap="round" stroke-linejoin="round"/>
<polyline points="183.5,242.7 183.9,241 184.4,239.2" fill="none" stroke="#3bac37" stroke-width="5.3" stroke-linecap="round" stroke-linejoin="round"/>
<polyline points="184.4,239.2 184.9,237.4 185.4,235.5" fill="none" stroke="#3bad37" stroke-width="5.3" stroke-linecap="round" stroke-linejoin="round"/>
<polyline points="185.4,235.5 186,233.6 186.6,231.7" fill="none" stroke="#3bad37" stroke-width="5.3" stroke-linecap="round" stroke-linejoin="round"/>
<polyline points="186.6,231.7 187.2,229.8 187.9,227.9" fill="none" stroke="#3bad37" stroke-width="5.3" stroke-linecap="round" stroke-linejoin="round"/>
<polyline points="187.9,227.9 188.6,226 189.3,224.1" fill="none" stroke="#3bad37" stroke-width="5.3" stroke-linecap="round" stroke-linejoin="round"/>
<polyline points="189.3,224.1 190.1,222.2 190.9,220.4" fill="none" stroke="#3bad37" stroke-width="5.3" stroke-linecap="round" stroke-linejoin="round"/>
<polyline points="190.9,220.4 191.7,218.6 192.6,216.9" fill="none" stroke="#3bac37" stroke-width="5.3" stroke-linecap="round" stroke-linejoin="round"/>
<polyline points="192.6,216.9 193.5,215.3 194.4,213.7" fill="none" stroke="#3bab37" stroke-width="5.3" stroke-linecap="round" stroke-linejoin="round"/>
<polyline points="194.4,213.7 195.4,212.2 196.4,210.8" fill="none" stroke="#3aaa36" stroke-width="5.3" stroke-linecap="round" stroke-linejoin="round"/>
<polyline points="196.4,210.8 197.4,209.5 198.4,208.2" fill="none" stroke="#39a836" stroke-width="5.3" stroke-linecap="round" stroke-linejoin="round"/>
<polyline points="198.4,208.2 199.5,207.1 200.6,206.1" fill="none" stroke="#39a735" stroke-width="5.3" stroke-linecap="round" stroke-linejoin="round"/>
<polyline points="200.6,206.1 201.7,205.3 202.9,204.5" fill="none" stroke="#38a535" stroke-width="5.3" stroke-linecap="round" stroke-linejoin="round"/>
<polyline points="202.9,204.5 204,203.9 205.2,203.4" fill="none" stroke="#37a334" stroke-width="5.3" stroke-linecap="round" stroke-linejoin="round"/>
<polyline points="205.2,203.4 206.5,203.1 207.7,202.9" fill="none" stroke="#36a133" stroke-width="5.3" stroke-linecap="round" stroke-linejoin="round"/>
<polyline points="207.7,202.9 208.9,202.9 210.2,203" fill="none" stroke="#369f33" stroke-width="5.3" stroke-linecap="round" stroke-linejoin="round"/>
<polyline points="210.2,203 211.4,203.3 212.6,203.7" fill="none" stroke="#359d32" stroke-width="5.3" stroke-linecap="round" stroke-linejoin="round"/>
<polyline points="212.6,203.7 213.8,204.3 214.9,205" fill="none" stroke="#349b31" stroke-width="5.3" stroke-linecap="round" stroke-linejoin="round"/>
<polyline points="214.9,205 216.1,205.8 217.2,206.7" fill="none" stroke="#339931" stroke-width="5.3" stroke-linecap="round" stroke-linejoin="round"/>
<polyline points="217.2,206.7 216.6,209.3 217.6,210.4" fill="none" stroke="#329730" stroke-width="5.3" stroke-linecap="round" stroke-linejoin="round"/>
<polyline points="217.6,210.4 218.6,211.6 219.5,212.9" fill="none" stroke="#329630" stroke-width="5.3" stroke-linecap="round" stroke-linejoin="round"/>
<polyline points="219.5,212.9 220.4,214.3 221.3,215.8" fill="none" stroke="#31942f" stroke-width="5.3" stroke-linecap="round" stroke-linejoin="round"/>
<polyline points="221.3,215.8 222.2,217.3 223,219" fill="none" stroke="#31932f" stroke-width="5.3" stroke-linecap="round" stroke-linejoin="round"/>
<polyline points="223,219 223.9,220.7 224.6,222.4" fill="none" stroke="#30922e" stroke-width="5.3" stroke-linecap="round" stroke-linejoin="round"/>
<polyline points="224.6,222.4 225.4,224.2 226.1,226" fill="none" stroke="#30912e" stroke-width="5.3" stroke-linecap="round" stroke-linejoin="round"/>
<polyline points="226.1,226 226.8,227.9" fill="none" stroke="#30912e" stroke-width="5.3" stroke-linecap="round" stroke-linejoin="round"/>
<polyline points="69.1,252.4 69.4,251.3 69.6,250.1" fill="none" stroke="#51b946" stroke-width="1.9" stroke-linecap="round"/>
<polyline points="69.6,250.1 69.9,248.8 70.3,247.4" fill="none" stroke="#68c555" stroke-width="1.9" stroke-linecap="round"/>
<polyline points="70.3,247.4 70.6,245.9 71,244.4" fill="none" stroke="#7fd264" stroke-width="1.9" stroke-linecap="round"/>
<polyline points="71,244.4 71.4,242.7 71.8,241" fill="none" stroke="#83d467" stroke-width="1.9" stroke-linecap="round"/>
<polyline points="71.8,241 72.3,239.2 72.8,237.4" fill="none" stroke="#85d569" stroke-width="1.9" stroke-linecap="round"/>
<polyline points="72.8,237.4 73.4,235.5 73.9,233.6" fill="none" stroke="#86d669" stroke-width="1.9" stroke-linecap="round"/>
<polyline points="73.9,233.6 74.5,231.7 75.1,229.8" fill="none" stroke="#87d66a" stroke-width="1.9" stroke-linecap="round"/>
<polyline points="75.1,229.8 75.8,227.9 76.5,226" fill="none" stroke="#87d66a" stroke-width="1.9" stroke-linecap="round"/>
<polyline points="76.5,226 77.3,224.1 78,222.2" fill="none" stroke="#86d669" stroke-width="1.9" stroke-linecap="round"/>
<polyline points="78,222.2 78.8,220.4 79.7,218.6" fill="none" stroke="#85d569" stroke-width="1.9" stroke-linecap="round"/>
<polyline points="79.7,218.6 80.5,216.9 81.4,215.2" fill="none" stroke="#83d467" stroke-width="1.9" stroke-linecap="round"/>
<polyline points="81.4,215.2 82.4,213.6 83.3,212.1" fill="none" stroke="#81d366" stroke-width="1.9" stroke-linecap="round"/>
<polyline points="83.3,212.1 84.3,210.7 85.3,209.4" fill="none" stroke="#7ed164" stroke-width="1.9" stroke-linecap="round"/>
<polyline points="85.3,209.4 86.4,208.1 87.5,207" fill="none" stroke="#7bcf62" stroke-width="1.9" stroke-linecap="round"/>
<polyline points="87.5,207 88.6,206 89.7,205.1" fill="none" stroke="#77cd5f" stroke-width="1.9" stroke-linecap="round"/>
<polyline points="89.7,205.1 90.9,204.3 92.1,203.7" fill="none" stroke="#73cb5c" stroke-width="1.9" stroke-linecap="round"/>
<polyline points="92.1,203.7 93.3,203.2 94.5,202.9" fill="none" stroke="#6fc95a" stroke-width="1.9" stroke-linecap="round"/>
<polyline points="94.5,202.9 95.8,202.7 97.1,202.6" fill="none" stroke="#6ac757" stroke-width="1.9" stroke-linecap="round"/>
<polyline points="97.1,202.6 98.3,202.7 99.6,203" fill="none" stroke="#66c454" stroke-width="1.9" stroke-linecap="round"/>
<polyline points="99.6,203 100.8,203.4 102,204" fill="none" stroke="#62c251" stroke-width="1.9" stroke-linecap="round"/>
<polyline points="102,204 103.2,204.7 104.4,205.6" fill="none" stroke="#5ec04e" stroke-width="1.9" stroke-linecap="round"/>
<polyline points="104.4,205.6 105.5,206.5 104.6,209.5" fill="none" stroke="#5abe4c" stroke-width="1.9" stroke-linecap="round"/>
<polyline points="104.6,209.5 105.6,210.5 106.5,211.7" fill="none" stroke="#56bc49" stroke-width="1.9" stroke-linecap="round"/>
<polyline points="106.5,211.7 107.5,213 108.4,214.4" fill="none" stroke="#53ba47" stroke-width="1.9" stroke-linecap="round"/>
<polyline points="108.4,214.4 109.3,215.8 110.1,217.4" fill="none" stroke="#50b945" stroke-width="1.9" stroke-linecap="round"/>
<polyline points="110.1,217.4 111,219 111.8,220.7" fill="none" stroke="#4eb744" stroke-width="1.9" stroke-linecap="round"/>
<polyline points="111.8,220.7 112.6,222.4 113.3,224.2" fill="none" stroke="#4cb743" stroke-width="1.9" stroke-linecap="round"/>
<polyline points="113.3,224.2 114.1,226.1 114.8,227.9" fill="none" stroke="#4bb642" stroke-width="1.9" stroke-linecap="round"/>
<polyline points="114.8,227.9 115.4,229.8 116.1,231.7" fill="none" stroke="#4bb642" stroke-width="1.9" stroke-linecap="round"/>
<polyline points="116.1,231.7 116.7,233.6 117.2,235.4" fill="none" stroke="#4bb642" stroke-width="1.9" stroke-linecap="round"/>
<polyline points="117.2,235.4 117.8,237.3 118.3,239.1" fill="none" stroke="#4cb642" stroke-width="1.9" stroke-linecap="round"/>
<polyline points="118.3,239.1 118.8,240.9 119.2,242.6" fill="none" stroke="#4db743" stroke-width="1.9" stroke-linecap="round"/>
<polyline points="119.2,242.6 119.6,244.2 120,245.8" fill="none" stroke="#4fb844" stroke-width="1.9" stroke-linecap="round"/>
<polyline points="120,245.8 120.4,247.4 120.7,248.8" fill="none" stroke="#4cb643" stroke-width="1.9" stroke-linecap="round"/>
<polyline points="120.7,248.8 121,250.2 121.3,251.4" fill="none" stroke="#40b03b" stroke-width="1.9" stroke-linecap="round"/>
<polyline points="124.6,253.8 124.9,252.9 125.1,251.9" fill="none" stroke="#40b03b" stroke-width="1.9" stroke-linecap="round"/>
<polyline points="125.1,251.9 125.4,250.7 125.7,249.5" fill="none" stroke="#57bc4a" stroke-width="1.9" stroke-linecap="round"/>
<polyline points="125.7,249.5 126,248.1 126.3,246.7" fill="none" stroke="#6ec859" stroke-width="1.9" stroke-linecap="round"/>
<polyline points="126.3,246.7 126.7,245.1 127.1,243.5" fill="none" stroke="#82d366" stroke-width="1.9" stroke-linecap="round"/>
<polyline points="127.1,243.5 127.5,241.8 128,240.1" fill="none" stroke="#84d468" stroke-width="1.9" stroke-linecap="round"/>
<polyline points="128,240.1 128.5,238.3 129,236.4" fill="none" stroke="#86d569" stroke-width="1.9" stroke-linecap="round"/>
<polyline points="129,236.4 129.5,234.6 130.1,232.6" fill="none" stroke="#87d66a" stroke-width="1.9" stroke-linecap="round"/>
<polyline points="130.1,232.6 130.7,230.7 131.4,228.8" fill="none" stroke="#87d66a" stroke-width="1.9" stroke-linecap="round"/>
<polyline points="131.4,228.8 132.1,226.9 132.8,225" fill="none" stroke="#87d66a" stroke-width="1.9" stroke-linecap="round"/>
<polyline points="132.8,225 133.6,223.1 134.3,221.3" fill="none" stroke="#86d669" stroke-width="1.9" stroke-linecap="round"/>
<polyline points="134.3,221.3 135.2,219.4 136,217.7" fill="none" stroke="#85d568" stroke-width="1.9" stroke-linecap="round"/>
<polyline points="136,217.7 136.9,216 137.8,214.4" fill="none" stroke="#83d467" stroke-width="1.9" stroke-linecap="round"/>
<polyline points="137.8,214.4 138.8,212.8 139.7,211.4" fill="none" stroke="#80d265" stroke-width="1.9" stroke-linecap="round"/>
<polyline points="139.7,211.4 140.7,210 141.8,208.7" fill="none" stroke="#7dd163" stroke-width="1.9" stroke-linecap="round"/>
<polyline points="141.8,208.7 142.8,207.5 143.9,206.5" fill="none" stroke="#7acf61" stroke-width="1.9" stroke-linecap="round"/>
<polyline points="143.9,206.5 145.1,205.5 146.2,204.7" fill="none" stroke="#76cd5e" stroke-width="1.9" stroke-linecap="round"/>
<polyline points="146.2,204.7 147.4,204 148.6,203.4" fill="none" stroke="#72cb5c" stroke-width="1.9" stroke-linecap="round"/>
<polyline points="148.6,203.4 149.9,203 151.1,202.7" fill="none" stroke="#6ec859" stroke-width="1.9" stroke-linecap="round"/>
<polyline points="151.1,202.7 152.4,202.6 153.6,202.7" fill="none" stroke="#69c656" stroke-width="1.9" stroke-linecap="round"/>
<polyline points="153.6,202.7 154.9,202.9 156.2,203.2" fill="none" stroke="#65c453" stroke-width="1.9" stroke-linecap="round"/>
<polyline points="156.2,203.2 157.4,203.7 158.6,204.4" fill="none" stroke="#61c250" stroke-width="1.9" stroke-linecap="round"/>
<polyline points="158.6,204.4 159.7,205.1 160.9,206" fill="none" stroke="#5dbf4e" stroke-width="1.9" stroke-linecap="round"/>
<polyline points="160.9,206 162,207.1 161,210" fill="none" stroke="#59bd4b" stroke-width="1.9" stroke-linecap="round"/>
<polyline points="161,210 162,211.1 162.9,212.4" fill="none" stroke="#55bb49" stroke-width="1.9" stroke-linecap="round"/>
<polyline points="162.9,212.4 163.8,213.7 164.7,215.1" fill="none" stroke="#52ba47" stroke-width="1.9" stroke-linecap="round"/>
<polyline points="164.7,215.1 165.6,216.6 166.5,218.2" fill="none" stroke="#50b845" stroke-width="1.9" stroke-linecap="round"/>
<polyline points="166.5,218.2 167.3,219.9 168.1,221.6" fill="none" stroke="#4db743" stroke-width="1.9" stroke-linecap="round"/>
<polyline points="168.1,221.6 168.9,223.4 169.6,225.2" fill="none" stroke="#4cb642" stroke-width="1.9" stroke-linecap="round"/>
<polyline points="169.6,225.2 170.3,227 171,228.9" fill="none" stroke="#4bb642" stroke-width="1.9" stroke-linecap="round"/>
<polyline points="171,228.9 171.7,230.8 172.3,232.7" fill="none" stroke="#4bb642" stroke-width="1.9" stroke-linecap="round"/>
<polyline points="172.3,232.7 172.9,234.5 173.4,236.4" fill="none" stroke="#4bb642" stroke-width="1.9" stroke-linecap="round"/>
<polyline points="173.4,236.4 174,238.2 174.4,240" fill="none" stroke="#4cb642" stroke-width="1.9" stroke-linecap="round"/>
<polyline points="174.4,240 174.9,241.8 175.3,243.5" fill="none" stroke="#4db743" stroke-width="1.9" stroke-linecap="round"/>
<polyline points="175.3,243.5 175.7,245.1 176.1,246.6" fill="none" stroke="#4fb845" stroke-width="1.9" stroke-linecap="round"/>
<polyline points="176.1,246.6 176.5,248.1 176.8,249.5" fill="none" stroke="#49b541" stroke-width="1.9" stroke-linecap="round"/>
<polyline points="176.8,249.5 177.1,250.8 177.4,252" fill="none" stroke="#3dae39" stroke-width="1.9" stroke-linecap="round"/>
<polyline points="180.7,253.3 180.9,252.4 181.2,251.3" fill="none" stroke="#46b33f" stroke-width="1.9" stroke-linecap="round"/>
<polyline points="181.2,251.3 181.4,250.1 181.8,248.8" fill="none" stroke="#5dbf4e" stroke-width="1.9" stroke-linecap="round"/>
<polyline points="181.8,248.8 182.1,247.4 182.4,245.9" fill="none" stroke="#74cc5d" stroke-width="1.9" stroke-linecap="round"/>
<polyline points="182.4,245.9 182.8,244.3 183.2,242.6" fill="none" stroke="#82d467" stroke-width="1.9" stroke-linecap="round"/>
<polyline points="183.2,242.6 183.7,240.9 184.1,239.1" fill="none" stroke="#84d568" stroke-width="1.9" stroke-linecap="round"/>
<polyline points="184.1,239.1 184.6,237.3 185.2,235.5" fill="none" stroke="#86d569" stroke-width="1.9" stroke-linecap="round"/>
<polyline points="185.2,235.5 185.7,233.6 186.3,231.6" fill="none" stroke="#87d66a" stroke-width="1.9" stroke-linecap="round"/>
<polyline points="186.3,231.6 187,229.7 187.6,227.8" fill="none" stroke="#87d66a" stroke-width="1.9" stroke-linecap="round"/>
<polyline points="187.6,227.8 188.3,225.9 189.1,224" fill="none" stroke="#87d66a" stroke-width="1.9" stroke-linecap="round"/>
<polyline points="189.1,224 189.9,222.1 190.7,220.3" fill="none" stroke="#86d569" stroke-width="1.9" stroke-linecap="round"/>
<polyline points="190.7,220.3 191.5,218.5 192.4,216.8" fill="none" stroke="#84d568" stroke-width="1.9" stroke-linecap="round"/>
<polyline points="192.4,216.8 193.3,215.1 194.2,213.6" fill="none" stroke="#82d367" stroke-width="1.9" stroke-linecap="round"/>
<polyline points="194.2,213.6 195.2,212 196.2,210.6" fill="none" stroke="#7fd265" stroke-width="1.9" stroke-linecap="round"/>
<polyline points="196.2,210.6 197.2,209.3 198.2,208.1" fill="none" stroke="#7cd063" stroke-width="1.9" stroke-linecap="round"/>
<polyline points="198.2,208.1 199.3,207 200.4,206" fill="none" stroke="#79ce60" stroke-width="1.9" stroke-linecap="round"/>
<polyline points="200.4,206 201.6,205.1 202.7,204.3" fill="none" stroke="#75cc5e" stroke-width="1.9" stroke-linecap="round"/>
<polyline points="202.7,204.3 203.9,203.7 205.2,203.2" fill="none" stroke="#71ca5b" stroke-width="1.9" stroke-linecap="round"/>
<polyline points="205.2,203.2 206.4,202.8 207.7,202.7" fill="none" stroke="#6dc858" stroke-width="1.9" stroke-linecap="round"/>
<polyline points="207.7,202.7 208.9,202.6 210.2,202.8" fill="none" stroke="#68c655" stroke-width="1.9" stroke-linecap="round"/>
<polyline points="210.2,202.8 211.5,203 212.7,203.5" fill="none" stroke="#64c352" stroke-width="1.9" stroke-linecap="round"/>
<polyline points="212.7,203.5 213.9,204 215.1,204.8" fill="none" stroke="#60c150" stroke-width="1.9" stroke-linecap="round"/>
<polyline points="215.1,204.8 216.2,205.6 217.4,206.6" fill="none" stroke="#5cbf4d" stroke-width="1.9" stroke-linecap="round"/>
<polyline points="217.4,206.6 216.5,209.5 217.4,210.6" fill="none" stroke="#58bd4a" stroke-width="1.9" stroke-linecap="round"/>
<polyline points="217.4,210.6 218.4,211.8 219.3,213" fill="none" stroke="#54bb48" stroke-width="1.9" stroke-linecap="round"/>
<polyline points="219.3,213 220.2,214.4 221.1,215.9" fill="none" stroke="#51b946" stroke-width="1.9" stroke-linecap="round"/>
<polyline points="221.1,215.9 222,217.5 222.8,219.1" fill="none" stroke="#4fb844" stroke-width="1.9" stroke-linecap="round"/>
<polyline points="222.8,219.1 223.6,220.8 224.4,222.5" fill="none" stroke="#4db743" stroke-width="1.9" stroke-linecap="round"/>
<polyline points="224.4,222.5 225.2,224.3 225.9,226.1" fill="none" stroke="#4cb642" stroke-width="1.9" stroke-linecap="round"/>
<polyline points="225.9,226.1 226.6,228" fill="none" stroke="#4bb642" stroke-width="1.9" stroke-linecap="round"/>
<polygon points="58.7,223.9 50.1,240.5 71.7,236.9" fill="url(#cg1)"/>
<line x1="72" y1="330" x2="61" y2="358" stroke="#1a5a1c" stroke-width="8.4"/>
<line x1="71.5" y1="331" x2="61" y2="357" stroke="#3cae38" stroke-width="5.4"/>
<polyline points="72.4,329 72.6,329.1 72.8,329.3 72.9,329.6 73.1,330 73.3,330.6 73.6,331.3 73.8,332.1 74,333 74.3,334 74.6,335.1 74.9,336.3 75.2,337.6 75.5,339 75.9,340.5 76.3,342 76.7,343.6 77.2,345.3 77.7,347 78.2,348.7 78.8,350.4 79.4,352.2 80,354 80.6,355.8 81.3,357.6 82,359.3 82.8,361 83.6,362.7 84.4,364.4 85.2,366 86.1,367.5 87,369 87.9,370.4 88.8,371.7 89.8,372.9 90.8,374 91.8,375 92.8,375.9 93.9,376.7 94.9,377.4 96,378 97.1,378.4 98.2,378.7 99.3,378.9 100.4,379 101.4,378.9 102.5,378.7 103.6,378.4 104.7,378 105.8,377.4 106.8,376.7 107.9,375.9 108.9,375 109.9,374 110.9,372.9 111.9,371.7 112.8,370.4 113.7,369 114.6,367.5 115.5,366 116.3,364.4 117.2,362.7 117.9,361 118.7,359.3 119.4,357.5 120.1,355.8 120.7,354 121.4,352.2 121.9,350.4 122.5,348.7 123,346.9 123.5,345.3 124,343.6 124.4,342 124.8,340.5 125.2,339 125.5,337.6 125.8,336.3 126.1,335.1 126.4,334 126.7,333 126.9,332.1 127.2,331.3 127.4,330.6 127.6,330 127.8,329.6 127.9,329.3 128.1,329.1 128.3,329 128.5,329.1 128.7,329.3 128.8,329.6 129,330 129.2,330.6 129.5,331.3 129.7,332.1 129.9,333 130.2,334 130.5,335.1 130.8,336.3 131.1,337.6 131.4,339 131.8,340.5 132.2,342 132.6,343.6 133.1,345.3 133.6,347 134.1,348.7 134.7,350.5 135.3,352.2 135.9,354 136.5,355.8 137.2,357.6 137.9,359.3 138.7,361.1 139.5,362.8 140.3,364.4 141.1,366 142,367.5 142.9,369 143.8,370.4 144.7,371.7 145.7,372.9 146.7,374 147.7,375 148.7,376 149.8,376.8 150.8,377.4 151.9,378 153,378.4 154.1,378.7 155.2,378.9 156.3,379 157.4,378.9 158.4,378.7 159.5,378.4 160.6,378 161.7,377.4 162.7,376.7 163.8,375.9 164.8,375 165.8,374 166.8,372.9 167.8,371.7 168.7,370.4 169.6,369 170.5,367.5 171.4,366 172.3,364.4 173.1,362.7 173.8,361 174.6,359.3 175.3,357.5 176,355.8 176.6,354 177.3,352.2 177.8,350.4 178.4,348.7 178.9,346.9 179.4,345.2 179.9,343.6 180.3,342 180.7,340.5 181.1,339 181.4,337.6 181.7,336.3 182,335.1 182.3,334 182.6,333 182.8,332 183.1,331.2 183.3,330.6 183.5,330 183.7,329.6 183.8,329.2 184,329.1 184.2,329 184.4,329.1 184.6,329.3 184.7,329.6 184.9,330 185.1,330.6 185.4,331.3 185.6,332.1 185.8,333 186.1,334 186.4,335.1 186.7,336.3 187,337.7 187.3,339 187.7,340.5 188.1,342.1 188.5,343.6 189,345.3 189.5,347 190,348.7 190.6,350.5 191.2,352.3 191.8,354 192.4,355.8 193.1,357.6 193.8,359.4 194.6,361.1 195.4,362.8 196.2,364.4 197,366 197.9,367.5 198.8,369 199.7,370.4 200.7,371.7 201.6,372.9 202.6,374 203.6,375.1 204.7,376 205.7,376.8 206.8,377.4 207.8,378 208.9,378.4 210,378.8 211.1,378.9 212.2,379 213.3,378.9 214.4,378.7 215.4,378.4 216.5,378 217.6,377.4 218.6,376.7 219.7,375.9 220.7,375 221.7,374 222.7,372.9 223.7,371.6 224.6,370.3 225.6,368.9 226.5,367.5 227.3,365.9 228.2,364.3 229,362.7 229.7,361 230.5,359.3" fill="none" stroke="#1a5a1c" stroke-width="8.6" stroke-linecap="butt" stroke-linejoin="round"/>
<polyline points="72.8,327.9 73.2,328.2 71.9,329.9" fill="none" stroke="#216d22" stroke-width="5.3" stroke-linecap="round" stroke-linejoin="round"/>
<polyline points="71.9,329.9 71.9,330.1 72.1,330.4" fill="none" stroke="#247424" stroke-width="5.3" stroke-linecap="round" stroke-linejoin="round"/>
<polyline points="72.1,330.4 72.3,330.9 72.5,331.6" fill="none" stroke="#277b27" stroke-width="5.3" stroke-linecap="round" stroke-linejoin="round"/>
<polyline points="72.5,331.6 72.7,332.4 72.9,333.3" fill="none" stroke="#2a8229" stroke-width="5.3" stroke-linecap="round" stroke-linejoin="round"/>
<polyline points="72.9,333.3 73.2,334.3 73.5,335.4" fill="none" stroke="#2c882b" stroke-width="5.3" stroke-linecap="round" stroke-linejoin="round"/>
<polyline points="73.5,335.4 73.8,336.6 74.1,337.9" fill="none" stroke="#2f8d2d" stroke-width="5.3" stroke-linecap="round" stroke-linejoin="round"/>
<polyline points="74.1,337.9 74.4,339.3 74.8,340.8" fill="none" stroke="#31932f" stroke-width="5.3" stroke-linecap="round" stroke-linejoin="round"/>
<polyline points="74.8,340.8 75.2,342.3 75.7,343.9" fill="none" stroke="#31932f" stroke-width="5.3" stroke-linecap="round" stroke-linejoin="round"/>
<polyline points="75.7,343.9 76.1,345.6 76.6,347.3" fill="none" stroke="#30922e" stroke-width="5.3" stroke-linecap="round" stroke-linejoin="round"/>
<polyline points="76.6,347.3 77.1,349 77.7,350.8" fill="none" stroke="#30912e" stroke-width="5.3" stroke-linecap="round" stroke-linejoin="round"/>
<polyline points="77.7,350.8 78.3,352.6 78.9,354.4" fill="none" stroke="#30912e" stroke-width="5.3" stroke-linecap="round" stroke-linejoin="round"/>
<polyline points="78.9,354.4 79.6,356.2 80.3,358" fill="none" stroke="#30912e" stroke-width="5.3" stroke-linecap="round" stroke-linejoin="round"/>
<polyline points="80.3,358 81,359.8 81.8,361.5" fill="none" stroke="#30912e" stroke-width="5.3" stroke-linecap="round" stroke-linejoin="round"/>
<polyline points="81.8,361.5 82.5,363.2 83.4,364.9" fill="none" stroke="#30922e" stroke-width="5.3" stroke-linecap="round" stroke-linejoin="round"/>
<polyline points="83.4,364.9 84.2,366.5 85.1,368.1" fill="none" stroke="#31932f" stroke-width="5.3" stroke-linecap="round" stroke-linejoin="round"/>
<polyline points="85.1,368.1 86,369.6 87,371" fill="none" stroke="#31942f" stroke-width="5.3" stroke-linecap="round" stroke-linejoin="round"/>
<polyline points="87,371 87.9,372.4 89,373.6" fill="none" stroke="#32952f" stroke-width="5.3" stroke-linecap="round" stroke-linejoin="round"/>
<polyline points="89,373.6 90,374.8 92.6,374.2" fill="none" stroke="#329730" stroke-width="5.3" stroke-linecap="round" stroke-linejoin="round"/>
<polyline points="92.6,374.2 93.5,375.1 94.5,375.8" fill="none" stroke="#339830" stroke-width="5.3" stroke-linecap="round" stroke-linejoin="round"/>
<polyline points="94.5,375.8 95.5,376.5 96.5,377" fill="none" stroke="#349a31" stroke-width="5.3" stroke-linecap="round" stroke-linejoin="round"/>
<polyline points="96.5,377 97.5,377.4 98.4,377.7" fill="none" stroke="#349c32" stroke-width="5.3" stroke-linecap="round" stroke-linejoin="round"/>
<polyline points="98.4,377.7 99.4,377.8 100.4,377.9" fill="none" stroke="#359e32" stroke-width="5.3" stroke-linecap="round" stroke-linejoin="round"/>
<polyline points="100.4,377.9 101.3,377.8 102.3,377.7" fill="none" stroke="#36a033" stroke-width="5.3" stroke-linecap="round" stroke-linejoin="round"/>
<polyline points="102.3,377.7 103.3,377.4 104.2,377" fill="none" stroke="#37a234" stroke-width="5.3" stroke-linecap="round" stroke-linejoin="round"/>
<polyline points="104.2,377 105.2,376.5 106.2,375.8" fill="none" stroke="#38a434" stroke-width="5.3" stroke-linecap="round" stroke-linejoin="round"/>
<polyline points="106.2,375.8 107.2,375.1 108.1,374.2" fill="none" stroke="#38a635" stroke-width="5.3" stroke-linecap="round" stroke-linejoin="round"/>
<polyline points="108.1,374.2 109.1,373.2 110,372.2" fill="none" stroke="#39a836" stroke-width="5.3" stroke-linecap="round" stroke-linejoin="round"/>
<polyline points="110,372.2 111,371 111.9,369.7" fill="none" stroke="#3aa936" stroke-width="5.3" stroke-linecap="round" stroke-linejoin="round"/>
<polyline points="111.9,369.7 112.8,368.4 113.7,366.9" fill="none" stroke="#3aab37" stroke-width="5.3" stroke-linecap="round" stroke-linejoin="round"/>
<polyline points="113.7,366.9 114.5,365.4 115.3,363.9" fill="none" stroke="#3bac37" stroke-width="5.3" stroke-linecap="round" stroke-linejoin="round"/>
<polyline points="115.3,363.9 116.1,362.2 116.9,360.6" fill="none" stroke="#3bad37" stroke-width="5.3" stroke-linecap="round" stroke-linejoin="round"/>
<polyline points="116.9,360.6 117.7,358.9 118.4,357.1" fill="none" stroke="#3bad37" stroke-width="5.3" stroke-linecap="round" stroke-linejoin="round"/>
<polyline points="118.4,357.1 119,355.4 119.7,353.6" fill="none" stroke="#3bad37" stroke-width="5.3" stroke-linecap="round" stroke-linejoin="round"/>
<polyline points="119.7,353.6 120.3,351.8 120.9,350.1" fill="none" stroke="#3bad37" stroke-width="5.3" stroke-linecap="round" stroke-linejoin="round"/>
<polyline points="120.9,350.1 121.4,348.3 121.9,346.6" fill="none" stroke="#3bad37" stroke-width="5.3" stroke-linecap="round" stroke-linejoin="round"/>
<polyline points="121.9,346.6 122.4,344.9 122.9,343.3" fill="none" stroke="#3bad37" stroke-width="5.3" stroke-linecap="round" stroke-linejoin="round"/>
<polyline points="122.9,343.3 123.3,341.7 123.7,340.2" fill="none" stroke="#3bac37" stroke-width="5.3" stroke-linecap="round" stroke-linejoin="round"/>
<polyline points="123.7,340.2 124.1,338.7 124.4,337.3" fill="none" stroke="#3aa936" stroke-width="5.3" stroke-linecap="round" stroke-linejoin="round"/>
<polyline points="124.4,337.3 124.8,336 125.1,334.8" fill="none" stroke="#359e32" stroke-width="5.3" stroke-linecap="round" stroke-linejoin="round"/>
<polyline points="125.1,334.8 125.3,333.7 125.6,332.7" fill="none" stroke="#31942f" stroke-width="5.3" stroke-linecap="round" stroke-linejoin="round"/>
<polyline points="125.6,332.7 125.8,331.8 126.1,330.9" fill="none" stroke="#2d892b" stroke-width="5.3" stroke-linecap="round" stroke-linejoin="round"/>
<polyline points="126.1,330.9 126.3,330.2 126.5,329.6" fill="none" stroke="#297f28" stroke-width="5.3" stroke-linecap="round" stroke-linejoin="round"/>
<polyline points="126.5,329.6 126.8,329.1 127,328.6" fill="none" stroke="#257625" stroke-width="5.3" stroke-linecap="round" stroke-linejoin="round"/>
<polyline points="127,328.6 127.5,328.1 128.3,327.9" fill="none" stroke="#216d22" stroke-width="5.3" stroke-linecap="round" stroke-linejoin="round"/>
<polyline points="128.3,327.9 129.1,328.2 127.8,329.9" fill="none" stroke="#216d22" stroke-width="5.3" stroke-linecap="round" stroke-linejoin="round"/>
<polyline points="127.8,329.9 127.8,330.1 128,330.4" fill="none" stroke="#247424" stroke-width="5.3" stroke-linecap="round" stroke-linejoin="round"/>
<polyline points="128,330.4 128.2,330.9 128.4,331.6" fill="none" stroke="#277b27" stroke-width="5.3" stroke-linecap="round" stroke-linejoin="round"/>
<polyline points="128.4,331.6 128.6,332.4 128.8,333.3" fill="none" stroke="#2a8229" stroke-width="5.3" stroke-linecap="round" stroke-linejoin="round"/>
<polyline points="128.8,333.3 129.1,334.3 129.4,335.4" fill="none" stroke="#2c882b" stroke-width="5.3" stroke-linecap="round" stroke-linejoin="round"/>
<polyline points="129.4,335.4 129.7,336.6 130,337.9" fill="none" stroke="#2f8d2d" stroke-width="5.3" stroke-linecap="round" stroke-linejoin="round"/>
<polyline points="130,337.9 130.4,339.3 130.7,340.8" fill="none" stroke="#31932f" stroke-width="5.3" stroke-linecap="round" stroke-linejoin="round"/>
<polyline points="130.7,340.8 131.1,342.3 131.6,343.9" fill="none" stroke="#31932f" stroke-width="5.3" stroke-linecap="round" stroke-linejoin="round"/>
<polyline points="131.6,343.9 132,345.6 132.5,347.3" fill="none" stroke="#30922e" stroke-width="5.3" stroke-linecap="round" stroke-linejoin="round"/>
<polyline points="132.5,347.3 133,349 133.6,350.8" fill="none" stroke="#30912e" stroke-width="5.3" stroke-linecap="round" stroke-linejoin="round"/>
<polyline points="133.6,350.8 134.2,352.6 134.8,354.4" fill="none" stroke="#30912e" stroke-width="5.3" stroke-linecap="round" stroke-linejoin="round"/>
<polyline points="134.8,354.4 135.5,356.2 136.2,358" fill="none" stroke="#30912e" stroke-width="5.3" stroke-linecap="round" stroke-linejoin="round"/>
<polyline points="136.2,358 136.9,359.8 137.7,361.5" fill="none" stroke="#30912e" stroke-width="5.3" stroke-linecap="round" stroke-linejoin="round"/>
<polyline points="137.7,361.5 138.4,363.2 139.3,364.9" fill="none" stroke="#30922e" stroke-width="5.3" stroke-linecap="round" stroke-linejoin="round"/>
<polyline points="139.3,364.9 140.1,366.5 141,368.1" fill="none" stroke="#31932f" stroke-width="5.3" stroke-linecap="round" stroke-linejoin="round"/>
<polyline points="141,368.1 141.9,369.6 142.9,371" fill="none" stroke="#31942f" stroke-width="5.3" stroke-linecap="round" stroke-linejoin="round"/>
<polyline points="142.9,371 143.9,372.4 144.9,373.6" fill="none" stroke="#32952f" stroke-width="5.3" stroke-linecap="round" stroke-linejoin="round"/>
<polyline points="144.9,373.6 145.9,374.8 148.5,374.2" fill="none" stroke="#329730" stroke-width="5.3" stroke-linecap="round" stroke-linejoin="round"/>
<polyline points="148.5,374.2 149.5,375.1 150.4,375.8" fill="none" stroke="#339830" stroke-width="5.3" stroke-linecap="round" stroke-linejoin="round"/>
<polyline points="150.4,375.8 151.4,376.5 152.4,377" fill="none" stroke="#349a31" stroke-width="5.3" stroke-linecap="round" stroke-linejoin="round"/>
<polyline points="152.4,377 153.4,377.4 154.3,377.7" fill="none" stroke="#349c32" stroke-width="5.3" stroke-linecap="round" stroke-linejoin="round"/>
<polyline points="154.3,377.7 155.3,377.8 156.3,377.9" fill="none" stroke="#359e32" stroke-width="5.3" stroke-linecap="round" stroke-linejoin="round"/>
<polyline points="156.3,377.9 157.2,377.8 158.2,377.7" fill="none" stroke="#36a033" stroke-width="5.3" stroke-linecap="round" stroke-linejoin="round"/>
<polyline points="158.2,377.7 159.2,377.4 160.1,377" fill="none" stroke="#37a234" stroke-width="5.3" stroke-linecap="round" stroke-linejoin="round"/>
<polyline points="160.1,377 161.1,376.5 162.1,375.8" fill="none" stroke="#38a434" stroke-width="5.3" stroke-linecap="round" stroke-linejoin="round"/>
<polyline points="162.1,375.8 163.1,375.1 164,374.2" fill="none" stroke="#38a635" stroke-width="5.3" stroke-linecap="round" stroke-linejoin="round"/>
<polyline points="164,374.2 165,373.2 166,372.2" fill="none" stroke="#39a836" stroke-width="5.3" stroke-linecap="round" stroke-linejoin="round"/>
<polyline points="166,372.2 166.9,371 167.8,369.7" fill="none" stroke="#3aa936" stroke-width="5.3" stroke-linecap="round" stroke-linejoin="round"/>
<polyline points="167.8,369.7 168.7,368.4 169.6,366.9" fill="none" stroke="#3aab37" stroke-width="5.3" stroke-linecap="round" stroke-linejoin="round"/>
<polyline points="169.6,366.9 170.4,365.4 171.3,363.9" fill="none" stroke="#3bac37" stroke-width="5.3" stroke-linecap="round" stroke-linejoin="round"/>
<polyline points="171.3,363.9 172.1,362.2 172.8,360.6" fill="none" stroke="#3bad37" stroke-width="5.3" stroke-linecap="round" stroke-linejoin="round"/>
<polyline points="172.8,360.6 173.6,358.9 174.3,357.1" fill="none" stroke="#3bad37" stroke-width="5.3" stroke-linecap="round" stroke-linejoin="round"/>
<polyline points="174.3,357.1 174.9,355.4 175.6,353.6" fill="none" stroke="#3bad37" stroke-width="5.3" stroke-linecap="round" stroke-linejoin="round"/>
<polyline points="175.6,353.6 176.2,351.8 176.8,350.1" fill="none" stroke="#3bad37" stroke-width="5.3" stroke-linecap="round" stroke-linejoin="round"/>
<polyline points="176.8,350.1 177.3,348.3 177.8,346.6" fill="none" stroke="#3bad37" stroke-width="5.3" stroke-linecap="round" stroke-linejoin="round"/>
<polyline points="177.8,346.6 178.3,344.9 178.8,343.3" fill="none" stroke="#3bad37" stroke-width="5.3" stroke-linecap="round" stroke-linejoin="round"/>
<polyline points="178.8,343.3 179.2,341.7 179.6,340.2" fill="none" stroke="#3bac37" stroke-width="5.3" stroke-linecap="round" stroke-linejoin="round"/>
<polyline points="179.6,340.2 180,338.7 180.3,337.3" fill="none" stroke="#3aa936" stroke-width="5.3" stroke-linecap="round" stroke-linejoin="round"/>
<polyline points="180.3,337.3 180.7,336 181,334.8" fill="none" stroke="#359e32" stroke-width="5.3" stroke-linecap="round" stroke-linejoin="round"/>
<polyline points="181,334.8 181.2,333.7 181.5,332.7" fill="none" stroke="#31932f" stroke-width="5.3" stroke-linecap="round" stroke-linejoin="round"/>
<polyline points="181.5,332.7 181.7,331.7 182,330.9" fill="none" stroke="#2d892b" stroke-width="5.3" stroke-linecap="round" stroke-linejoin="round"/>
<polyline points="182,330.9 182.2,330.2 182.4,329.6" fill="none" stroke="#297f28" stroke-width="5.3" stroke-linecap="round" stroke-linejoin="round"/>
<polyline points="182.4,329.6 182.7,329.1 182.9,328.6" fill="none" stroke="#257625" stroke-width="5.3" stroke-linecap="round" stroke-linejoin="round"/>
<polyline points="182.9,328.6 183.4,328.1 184.2,327.9" fill="none" stroke="#216d22" stroke-width="5.3" stroke-linecap="round" stroke-linejoin="round"/>
<polyline points="184.2,327.9 185,328.2 183.7,329.9" fill="none" stroke="#216d22" stroke-width="5.3" stroke-linecap="round" stroke-linejoin="round"/>
<polyline points="183.7,329.9 183.7,330.1 183.9,330.4" fill="none" stroke="#247424" stroke-width="5.3" stroke-linecap="round" stroke-linejoin="round"/>
<polyline points="183.9,330.4 184.1,330.9 184.3,331.6" fill="none" stroke="#277b27" stroke-width="5.3" stroke-linecap="round" stroke-linejoin="round"/>
<polyline points="184.3,331.6 184.5,332.4 184.7,333.3" fill="none" stroke="#2a8229" stroke-width="5.3" stroke-linecap="round" stroke-linejoin="round"/>
<polyline points="184.7,333.3 185,334.3 185.3,335.4" fill="none" stroke="#2c882b" stroke-width="5.3" stroke-linecap="round" stroke-linejoin="round"/>
<polyline points="185.3,335.4 185.6,336.6 185.9,337.9" fill="none" stroke="#2f8d2d" stroke-width="5.3" stroke-linecap="round" stroke-linejoin="round"/>
<polyline points="185.9,337.9 186.3,339.3 186.6,340.8" fill="none" stroke="#31932f" stroke-width="5.3" stroke-linecap="round" stroke-linejoin="round"/>
<polyline points="186.6,340.8 187,342.3 187.5,343.9" fill="none" stroke="#31932f" stroke-width="5.3" stroke-linecap="round" stroke-linejoin="round"/>
<polyline points="187.5,343.9 187.9,345.6 188.4,347.3" fill="none" stroke="#30922e" stroke-width="5.3" stroke-linecap="round" stroke-linejoin="round"/>
<polyline points="188.4,347.3 189,349.1 189.5,350.8" fill="none" stroke="#30912e" stroke-width="5.3" stroke-linecap="round" stroke-linejoin="round"/>
<polyline points="189.5,350.8 190.1,352.6 190.7,354.4" fill="none" stroke="#30912e" stroke-width="5.3" stroke-linecap="round" stroke-linejoin="round"/>
<polyline points="190.7,354.4 191.4,356.2 192.1,358" fill="none" stroke="#30912e" stroke-width="5.3" stroke-linecap="round" stroke-linejoin="round"/>
<polyline points="192.1,358 192.8,359.8 193.6,361.5" fill="none" stroke="#30912e" stroke-width="5.3" stroke-linecap="round" stroke-linejoin="round"/>
<polyline points="193.6,361.5 194.4,363.3 195.2,364.9" fill="none" stroke="#30922e" stroke-width="5.3" stroke-linecap="round" stroke-linejoin="round"/>
<polyline points="195.2,364.9 196,366.6 196.9,368.1" fill="none" stroke="#31932f" stroke-width="5.3" stroke-linecap="round" stroke-linejoin="round"/>
<polyline points="196.9,368.1 197.8,369.6 198.8,371" fill="none" stroke="#31942f" stroke-width="5.3" stroke-linecap="round" stroke-linejoin="round"/>
<polyline points="198.8,371 199.8,372.4 200.8,373.6" fill="none" stroke="#32952f" stroke-width="5.3" stroke-linecap="round" stroke-linejoin="round"/>
<polyline points="200.8,373.6 201.8,374.8 204.4,374.2" fill="none" stroke="#329730" stroke-width="5.3" stroke-linecap="round" stroke-linejoin="round"/>
<polyline points="204.4,374.2 205.4,375.1 206.3,375.8" fill="none" stroke="#339830" stroke-width="5.3" stroke-linecap="round" stroke-linejoin="round"/>
<polyline points="206.3,375.8 207.3,376.5 208.3,377" fill="none" stroke="#349a31" stroke-width="5.3" stroke-linecap="round" stroke-linejoin="round"/>
<polyline points="208.3,377 209.3,377.4 210.2,377.7" fill="none" stroke="#359c32" stroke-width="5.3" stroke-linecap="round" stroke-linejoin="round"/>
<polyline points="210.2,377.7 211.2,377.8 212.2,377.9" fill="none" stroke="#359e32" stroke-width="5.3" stroke-linecap="round" stroke-linejoin="round"/>
<polyline points="212.2,377.9 213.1,377.8 214.1,377.7" fill="none" stroke="#36a033" stroke-width="5.3" stroke-linecap="round" stroke-linejoin="round"/>
<polyline points="214.1,377.7 215.1,377.4 216,377" fill="none" stroke="#37a234" stroke-width="5.3" stroke-linecap="round" stroke-linejoin="round"/>
<polyline points="216,377 217,376.4 218,375.8" fill="none" stroke="#38a434" stroke-width="5.3" stroke-linecap="round" stroke-linejoin="round"/>
<polyline points="218,375.8 219,375.1 220,374.2" fill="none" stroke="#38a635" stroke-width="5.3" stroke-linecap="round" stroke-linejoin="round"/>
<polyline points="220,374.2 220.9,373.2 221.9,372.1" fill="none" stroke="#39a836" stroke-width="5.3" stroke-linecap="round" stroke-linejoin="round"/>
<polyline points="221.9,372.1 222.8,371 223.7,369.7" fill="none" stroke="#3aa936" stroke-width="5.3" stroke-linecap="round" stroke-linejoin="round"/>
<polyline points="223.7,369.7 224.6,368.3 225.5,366.9" fill="none" stroke="#3aab37" stroke-width="5.3" stroke-linecap="round" stroke-linejoin="round"/>
<polyline points="225.5,366.9 226.3,365.4 227.2,363.8" fill="none" stroke="#3bac37" stroke-width="5.3" stroke-linecap="round" stroke-linejoin="round"/>
<polyline points="227.2,363.8 228,362.2 228.7,360.5" fill="none" stroke="#3bad37" stroke-width="5.3" stroke-linecap="round" stroke-linejoin="round"/>
<polyline points="228.7,360.5 229.5,358.8" fill="none" stroke="#3bad37" stroke-width="5.3" stroke-linecap="round" stroke-linejoin="round"/>
<polyline points="73.2,335.4 73.5,336.7 73.8,338" fill="none" stroke="#43b23d" stroke-width="1.9" stroke-linecap="round"/>
<polyline points="73.8,338 74.2,339.4 74.6,340.8" fill="none" stroke="#4fb844" stroke-width="1.9" stroke-linecap="round"/>
<polyline points="74.6,340.8 75,342.4 75.4,344" fill="none" stroke="#4eb844" stroke-width="1.9" stroke-linecap="round"/>
<polyline points="75.4,344 75.9,345.6 76.4,347.4" fill="none" stroke="#4db743" stroke-width="1.9" stroke-linecap="round"/>
<polyline points="76.4,347.4 76.9,349.1 77.5,350.9" fill="none" stroke="#4bb642" stroke-width="1.9" stroke-linecap="round"/>
<polyline points="77.5,350.9 78,352.7 78.7,354.5" fill="none" stroke="#4bb642" stroke-width="1.9" stroke-linecap="round"/>
<polyline points="78.7,354.5 79.3,356.3 80,358.1" fill="none" stroke="#4bb642" stroke-width="1.9" stroke-linecap="round"/>
<polyline points="80,358.1 80.8,359.9 81.5,361.6" fill="none" stroke="#4bb642" stroke-width="1.9" stroke-linecap="round"/>
<polyline points="81.5,361.6 82.3,363.3 83.1,365" fill="none" stroke="#4db743" stroke-width="1.9" stroke-linecap="round"/>
<polyline points="83.1,365 84,366.6 84.9,368.2" fill="none" stroke="#4eb844" stroke-width="1.9" stroke-linecap="round"/>
<polyline points="84.9,368.2 85.8,369.7 86.8,371.2" fill="none" stroke="#51b946" stroke-width="1.9" stroke-linecap="round"/>
<polyline points="86.8,371.2 87.7,372.5 88.8,373.8" fill="none" stroke="#53ba47" stroke-width="1.9" stroke-linecap="round"/>
<polyline points="88.8,373.8 89.8,375 92.8,374" fill="none" stroke="#57bc4a" stroke-width="1.9" stroke-linecap="round"/>
<polyline points="92.8,374 93.7,374.9 94.7,375.6" fill="none" stroke="#5abe4c" stroke-width="1.9" stroke-linecap="round"/>
<polyline points="94.7,375.6 95.6,376.2 96.6,376.7" fill="none" stroke="#5ec04f" stroke-width="1.9" stroke-linecap="round"/>
<polyline points="96.6,376.7 97.5,377.1 98.5,377.4" fill="none" stroke="#62c251" stroke-width="1.9" stroke-linecap="round"/>
<polyline points="98.5,377.4 99.4,377.6 100.4,377.6" fill="none" stroke="#67c554" stroke-width="1.9" stroke-linecap="round"/>
<polyline points="100.4,377.6 101.3,377.6 102.2,377.4" fill="none" stroke="#6bc757" stroke-width="1.9" stroke-linecap="round"/>
<polyline points="102.2,377.4 103.2,377.1 104.1,376.7" fill="none" stroke="#6fc95a" stroke-width="1.9" stroke-linecap="round"/>
<polyline points="104.1,376.7 105.1,376.2 106,375.6" fill="none" stroke="#73cc5d" stroke-width="1.9" stroke-linecap="round"/>
<polyline points="106,375.6 107,374.9 108,374" fill="none" stroke="#77ce5f" stroke-width="1.9" stroke-linecap="round"/>
<polyline points="108,374 108.9,373.1 109.8,372" fill="none" stroke="#7bd062" stroke-width="1.9" stroke-linecap="round"/>
<polyline points="109.8,372 110.8,370.8 111.7,369.6" fill="none" stroke="#7ed164" stroke-width="1.9" stroke-linecap="round"/>
<polyline points="111.7,369.6 112.6,368.2 113.5,366.8" fill="none" stroke="#81d366" stroke-width="1.9" stroke-linecap="round"/>
<polyline points="113.5,366.8 114.3,365.3 115.1,363.8" fill="none" stroke="#83d467" stroke-width="1.9" stroke-linecap="round"/>
<polyline points="115.1,363.8 115.9,362.1 116.7,360.5" fill="none" stroke="#85d569" stroke-width="1.9" stroke-linecap="round"/>
<polyline points="116.7,360.5 117.4,358.8 118.1,357" fill="none" stroke="#86d669" stroke-width="1.9" stroke-linecap="round"/>
<polyline points="118.1,357 118.8,355.3 119.4,353.5" fill="none" stroke="#87d66a" stroke-width="1.9" stroke-linecap="round"/>
<polyline points="119.4,353.5 120.1,351.8 120.6,350" fill="none" stroke="#87d66a" stroke-width="1.9" stroke-linecap="round"/>
<polyline points="120.6,350 121.2,348.3 121.7,346.6" fill="none" stroke="#86d669" stroke-width="1.9" stroke-linecap="round"/>
<polyline points="121.7,346.6 122.2,344.9 122.6,343.2" fill="none" stroke="#85d569" stroke-width="1.9" stroke-linecap="round"/>
<polyline points="122.6,343.2 123.1,341.7 123.5,340.1" fill="none" stroke="#83d467" stroke-width="1.9" stroke-linecap="round"/>
<polyline points="123.5,340.1 123.8,338.7 124.2,337.3" fill="none" stroke="#7ed164" stroke-width="1.9" stroke-linecap="round"/>
<polyline points="124.2,337.3 124.5,336 124.8,334.8" fill="none" stroke="#67c554" stroke-width="1.9" stroke-linecap="round"/>
<polyline points="124.8,334.8 125.1,333.6 125.4,332.6" fill="none" stroke="#50b945" stroke-width="1.9" stroke-linecap="round"/>
<polyline points="129.1,335.4 129.4,336.7 129.8,338" fill="none" stroke="#43b23d" stroke-width="1.9" stroke-linecap="round"/>
<polyline points="129.8,338 130.1,339.4 130.5,340.8" fill="none" stroke="#4fb844" stroke-width="1.9" stroke-linecap="round"/>
<polyline points="130.5,340.8 130.9,342.4 131.3,344" fill="none" stroke="#4eb844" stroke-width="1.9" stroke-linecap="round"/>
<polyline points="131.3,344 131.8,345.7 132.3,347.4" fill="none" stroke="#4db743" stroke-width="1.9" stroke-linecap="round"/>
<polyline points="132.3,347.4 132.8,349.1 133.4,350.9" fill="none" stroke="#4bb642" stroke-width="1.9" stroke-linecap="round"/>
<polyline points="133.4,350.9 134,352.7 134.6,354.5" fill="none" stroke="#4bb642" stroke-width="1.9" stroke-linecap="round"/>
<polyline points="134.6,354.5 135.2,356.3 135.9,358.1" fill="none" stroke="#4bb642" stroke-width="1.9" stroke-linecap="round"/>
<polyline points="135.9,358.1 136.7,359.9 137.4,361.6" fill="none" stroke="#4bb642" stroke-width="1.9" stroke-linecap="round"/>
<polyline points="137.4,361.6 138.2,363.3 139,365" fill="none" stroke="#4db743" stroke-width="1.9" stroke-linecap="round"/>
<polyline points="139,365 139.9,366.7 140.8,368.2" fill="none" stroke="#4eb844" stroke-width="1.9" stroke-linecap="round"/>
<polyline points="140.8,368.2 141.7,369.7 142.7,371.2" fill="none" stroke="#51b946" stroke-width="1.9" stroke-linecap="round"/>
<polyline points="142.7,371.2 143.7,372.5 144.7,373.8" fill="none" stroke="#53ba47" stroke-width="1.9" stroke-linecap="round"/>
<polyline points="144.7,373.8 145.7,375 148.7,374" fill="none" stroke="#57bc4a" stroke-width="1.9" stroke-linecap="round"/>
<polyline points="148.7,374 149.6,374.9 150.6,375.6" fill="none" stroke="#5abe4c" stroke-width="1.9" stroke-linecap="round"/>
<polyline points="150.6,375.6 151.5,376.2 152.5,376.7" fill="none" stroke="#5ec04f" stroke-width="1.9" stroke-linecap="round"/>
<polyline points="152.5,376.7 153.5,377.1 154.4,377.4" fill="none" stroke="#62c251" stroke-width="1.9" stroke-linecap="round"/>
<polyline points="154.4,377.4 155.3,377.6 156.3,377.6" fill="none" stroke="#67c554" stroke-width="1.9" stroke-linecap="round"/>
<polyline points="156.3,377.6 157.2,377.6 158.1,377.4" fill="none" stroke="#6bc757" stroke-width="1.9" stroke-linecap="round"/>
<polyline points="158.1,377.4 159.1,377.1 160,376.7" fill="none" stroke="#6fc95a" stroke-width="1.9" stroke-linecap="round"/>
<polyline points="160,376.7 161,376.2 161.9,375.6" fill="none" stroke="#73cc5d" stroke-width="1.9" stroke-linecap="round"/>
<polyline points="161.9,375.6 162.9,374.9 163.9,374" fill="none" stroke="#77ce5f" stroke-width="1.9" stroke-linecap="round"/>
<polyline points="163.9,374 164.8,373.1 165.8,372" fill="none" stroke="#7bd062" stroke-width="1.9" stroke-linecap="round"/>
<polyline points="165.8,372 166.7,370.8 167.6,369.6" fill="none" stroke="#7ed164" stroke-width="1.9" stroke-linecap="round"/>
<polyline points="167.6,369.6 168.5,368.2 169.4,366.8" fill="none" stroke="#81d366" stroke-width="1.9" stroke-linecap="round"/>
<polyline points="169.4,366.8 170.2,365.3 171,363.7" fill="none" stroke="#83d467" stroke-width="1.9" stroke-linecap="round"/>
<polyline points="171,363.7 171.8,362.1 172.6,360.5" fill="none" stroke="#85d569" stroke-width="1.9" stroke-linecap="round"/>
<polyline points="172.6,360.5 173.3,358.8 174,357" fill="none" stroke="#86d669" stroke-width="1.9" stroke-linecap="round"/>
<polyline points="174,357 174.7,355.3 175.3,353.5" fill="none" stroke="#87d66a" stroke-width="1.9" stroke-linecap="round"/>
<polyline points="175.3,353.5 176,351.7 176.5,350" fill="none" stroke="#87d66a" stroke-width="1.9" stroke-linecap="round"/>
<polyline points="176.5,350 177.1,348.3 177.6,346.5" fill="none" stroke="#86d669" stroke-width="1.9" stroke-linecap="round"/>
<polyline points="177.6,346.5 178.1,344.9 178.5,343.2" fill="none" stroke="#85d569" stroke-width="1.9" stroke-linecap="round"/>
<polyline points="178.5,343.2 179,341.6 179.4,340.1" fill="none" stroke="#83d467" stroke-width="1.9" stroke-linecap="round"/>
<polyline points="179.4,340.1 179.7,338.7 180.1,337.3" fill="none" stroke="#7ed164" stroke-width="1.9" stroke-linecap="round"/>
<polyline points="180.1,337.3 180.4,336 180.7,334.8" fill="none" stroke="#67c554" stroke-width="1.9" stroke-linecap="round"/>
<polyline points="180.7,334.8 181,333.6 181.3,332.6" fill="none" stroke="#50b945" stroke-width="1.9" stroke-linecap="round"/>
<polyline points="185,335.5 185.3,336.7 185.7,338" fill="none" stroke="#43b23d" stroke-width="1.9" stroke-linecap="round"/>
<polyline points="185.7,338 186,339.4 186.4,340.9" fill="none" stroke="#4fb844" stroke-width="1.9" stroke-linecap="round"/>
<polyline points="186.4,340.9 186.8,342.4 187.2,344" fill="none" stroke="#4eb844" stroke-width="1.9" stroke-linecap="round"/>
<polyline points="187.2,344 187.7,345.7 188.2,347.4" fill="none" stroke="#4db743" stroke-width="1.9" stroke-linecap="round"/>
<polyline points="188.2,347.4 188.7,349.1 189.3,350.9" fill="none" stroke="#4bb642" stroke-width="1.9" stroke-linecap="round"/>
<polyline points="189.3,350.9 189.9,352.7 190.5,354.5" fill="none" stroke="#4bb642" stroke-width="1.9" stroke-linecap="round"/>
<polyline points="190.5,354.5 191.1,356.3 191.8,358.1" fill="none" stroke="#4bb642" stroke-width="1.9" stroke-linecap="round"/>
<polyline points="191.8,358.1 192.6,359.9 193.3,361.6" fill="none" stroke="#4bb642" stroke-width="1.9" stroke-linecap="round"/>
<polyline points="193.3,361.6 194.1,363.4 195,365" fill="none" stroke="#4db743" stroke-width="1.9" stroke-linecap="round"/>
<polyline points="195,365 195.8,366.7 196.7,368.2" fill="none" stroke="#4eb844" stroke-width="1.9" stroke-linecap="round"/>
<polyline points="196.7,368.2 197.6,369.8 198.6,371.2" fill="none" stroke="#51b946" stroke-width="1.9" stroke-linecap="round"/>
<polyline points="198.6,371.2 199.6,372.5 200.6,373.8" fill="none" stroke="#54ba48" stroke-width="1.9" stroke-linecap="round"/>
<polyline points="200.6,373.8 201.6,375 204.6,374.1" fill="none" stroke="#57bc4a" stroke-width="1.9" stroke-linecap="round"/>
<polyline points="204.6,374.1 205.5,374.9 206.5,375.6" fill="none" stroke="#5abe4c" stroke-width="1.9" stroke-linecap="round"/>
<polyline points="206.5,375.6 207.5,376.2 208.4,376.8" fill="none" stroke="#5ec04f" stroke-width="1.9" stroke-linecap="round"/>
<polyline points="208.4,376.8 209.4,377.1 210.3,377.4" fill="none" stroke="#62c251" stroke-width="1.9" stroke-linecap="round"/>
<polyline points="210.3,377.4 211.2,377.6 212.2,377.6" fill="none" stroke="#67c554" stroke-width="1.9" stroke-linecap="round"/>
<polyline points="212.2,377.6 213.1,377.6 214,377.4" fill="none" stroke="#6bc757" stroke-width="1.9" stroke-linecap="round"/>
<polyline points="214,377.4 215,377.1 215.9,376.7" fill="none" stroke="#6fc95a" stroke-width="1.9" stroke-linecap="round"/>
<polyline points="215.9,376.7 216.9,376.2 217.9,375.6" fill="none" stroke="#73cc5d" stroke-width="1.9" stroke-linecap="round"/>
<polyline points="217.9,375.6 218.8,374.9 219.8,374" fill="none" stroke="#77ce5f" stroke-width="1.9" stroke-linecap="round"/>
<polyline points="219.8,374 220.7,373 221.7,372" fill="none" stroke="#7bd062" stroke-width="1.9" stroke-linecap="round"/>
<polyline points="221.7,372 222.6,370.8 223.5,369.6" fill="none" stroke="#7ed164" stroke-width="1.9" stroke-linecap="round"/>
<polyline points="223.5,369.6 224.4,368.2 225.3,366.8" fill="none" stroke="#81d366" stroke-width="1.9" stroke-linecap="round"/>
<polyline points="225.3,366.8 226.1,365.3 226.9,363.7" fill="none" stroke="#83d467" stroke-width="1.9" stroke-linecap="round"/>
<polyline points="226.9,363.7 227.7,362.1 228.5,360.4" fill="none" stroke="#85d569" stroke-width="1.9" stroke-linecap="round"/>
<polyline points="228.5,360.4 229.2,358.7" fill="none" stroke="#86d669" stroke-width="1.9" stroke-linecap="round"/>
<polygon points="55.1,374.9 49.4,356.9 69.6,361.2" fill="url(#cg1)"/>
<line x1="355" y1="199" x2="348" y2="231" stroke="#5a0808" stroke-width="9"/>
<line x1="354.5" y1="200" x2="348" y2="230" stroke="#e41a1a" stroke-width="5.8"/>
<polyline points="355.4,198 355.5,198 355.5,198.2 355.6,198.4 355.7,198.6 355.8,199 355.9,199.4 356,199.9 356.1,200.5 356.2,201.1 356.3,201.9 356.4,202.7 356.6,203.5 356.7,204.4 356.9,205.4 357.1,206.4 357.3,207.5 357.5,208.7 357.7,209.9 357.9,211.1 358.2,212.4 358.5,213.7 358.8,215.1 359.1,216.5 359.4,217.9 359.8,219.3 360.2,220.8 360.6,222.2 361,223.7 361.5,225.2 361.9,226.7 362.4,228.2 362.9,229.7 363.4,231.1 364,232.6 364.5,234 365.1,235.4 365.7,236.8 366.4,238.2 367,239.5 367.7,240.8 368.4,242 369.1,243.2 369.8,244.4 370.5,245.5 371.3,246.5 372,247.5 372.8,248.4 373.6,249.3 374.4,250.1 375.2,250.8 376,251.5 376.8,252 377.7,252.6 378.5,253 379.4,253.3 380.2,253.6 381.1,253.8 381.9,254 382.8,254 383.6,254 384.5,253.9 385.4,253.7 386.2,253.4 387.1,253 387.9,252.6 388.7,252.1 389.6,251.5 390.4,250.9 391.2,250.2 392,249.4 392.8,248.6 393.6,247.6 394.3,246.7 395.1,245.6 395.8,244.5 396.5,243.4 397.2,242.2 397.9,241 398.6,239.7 399.2,238.4 399.9,237 400.5,235.6 401.1,234.2 401.6,232.8 402.2,231.3 402.7,229.9 403.2,228.4 403.7,226.9 404.2,225.4 404.6,223.9 405.1,222.4 405.5,221 405.8,219.5 406.2,218.1 406.5,216.7 406.9,215.3 407.2,213.9 407.5,212.6 407.7,211.3 408,210.1 408.2,208.9 408.4,207.7 408.6,206.6 408.8,205.6 409,204.6 409.1,203.6 409.3,202.8 409.4,202 409.5,201.2 409.6,200.6 409.7,200 409.8,199.5 409.9,199 410,198.7 410.1,198.4 410.1,198.2 410.2,198.1 410.3,198 410.4,198 410.4,198.1 410.5,198.3 410.6,198.6 410.7,198.9 410.7,199.3 410.8,199.8 410.9,200.4 411,201 411.2,201.8 411.3,202.5 411.4,203.4 411.6,204.3 411.7,205.3 411.9,206.3 412.1,207.4 412.3,208.5 412.6,209.7 412.8,210.9 413.1,212.2 413.3,213.5 413.6,214.9 414,216.3 414.3,217.7 414.7,219.1 415,220.6 415.4,222 415.8,223.5 416.3,225 416.7,226.5 417.2,228 417.7,229.4 418.3,230.9 418.8,232.4 419.4,233.8 419.9,235.2 420.6,236.6 421.2,238 421.8,239.3 422.5,240.6 423.2,241.9 423.9,243.1 424.6,244.2 425.3,245.3 426,246.4 426.8,247.4 427.6,248.3 428.4,249.2 429.2,250 430,250.7 430.8,251.4 431.6,252 432.4,252.5 433.3,252.9 434.1,253.3 435,253.6 435.8,253.8 436.7,253.9 437.6,254 438.4,254 439.3,253.9 440.1,253.7 441,253.4 441.8,253.1 442.7,252.7 443.5,252.2 444.4,251.6 445.2,251 446,250.3 446.8,249.5 447.6,248.7 448.4,247.8 449.1,246.8 449.9,245.8 450.6,244.7 451.3,243.6 452,242.4 452.7,241.2 453.4,239.9 454,238.6 454.7,237.2" fill="none" stroke="#5a0808" stroke-width="9.6" stroke-linecap="butt" stroke-linejoin="round"/>
<polyline points="356,196.9 354.5,198.9 354.4,198.7" fill="none" stroke="#780b0b" stroke-width="6" stroke-linecap="round" stroke-linejoin="round"/>
<polyline points="354.4,198.7 354.4,198.7 354.5,198.9" fill="none" stroke="#810d0d" stroke-width="6" stroke-linecap="round" stroke-linejoin="round"/>
<polyline points="354.5,198.9 354.6,199.2 354.6,199.6" fill="none" stroke="#8a0e0e" stroke-width="6" stroke-linecap="round" stroke-linejoin="round"/>
<polyline points="354.6,199.6 354.7,200.1 354.8,200.7" fill="none" stroke="#920f0f" stroke-width="6" stroke-linecap="round" stroke-linejoin="round"/>
<polyline points="354.8,200.7 354.9,201.4 355,202.1" fill="none" stroke="#9a1010" stroke-width="6" stroke-linecap="round" stroke-linejoin="round"/>
<polyline points="355,202.1 355.2,202.9 355.3,203.7" fill="none" stroke="#a21111" stroke-width="6" stroke-linecap="round" stroke-linejoin="round"/>
<polyline points="355.3,203.7 355.5,204.6 355.6,205.6" fill="none" stroke="#a91212" stroke-width="6" stroke-linecap="round" stroke-linejoin="round"/>
<polyline points="355.6,205.6 355.8,206.7 356,207.8" fill="none" stroke="#b01313" stroke-width="6" stroke-linecap="round" stroke-linejoin="round"/>
<polyline points="356,207.8 356.2,208.9 356.5,210.1" fill="none" stroke="#b61414" stroke-width="6" stroke-linecap="round" stroke-linejoin="round"/>
<polyline points="356.5,210.1 356.7,211.4 357,212.7" fill="none" stroke="#b81414" stroke-width="6" stroke-linecap="round" stroke-linejoin="round"/>
<polyline points="357,212.7 357.3,214 357.6,215.4" fill="none" stroke="#b71414" stroke-width="6" stroke-linecap="round" stroke-linejoin="round"/>
<polyline points="357.6,215.4 357.9,216.7 358.2,218.2" fill="none" stroke="#b61414" stroke-width="6" stroke-linecap="round" stroke-linejoin="round"/>
<polyline points="358.2,218.2 358.6,219.6 359,221.1" fill="none" stroke="#b51313" stroke-width="6" stroke-linecap="round" stroke-linejoin="round"/>
<polyline points="359,221.1 359.4,222.6 359.8,224.1" fill="none" stroke="#b51313" stroke-width="6" stroke-linecap="round" stroke-linejoin="round"/>
<polyline points="359.8,224.1 360.3,225.6 360.7,227.1" fill="none" stroke="#b51313" stroke-width="6" stroke-linecap="round" stroke-linejoin="round"/>
<polyline points="360.7,227.1 361.2,228.6 361.7,230.1" fill="none" stroke="#b51313" stroke-width="6" stroke-linecap="round" stroke-linejoin="round"/>
<polyline points="361.7,230.1 362.3,231.6 362.8,233" fill="none" stroke="#b51313" stroke-width="6" stroke-linecap="round" stroke-linejoin="round"/>
<polyline points="362.8,233 363.4,234.5 364,235.9" fill="none" stroke="#b61414" stroke-width="6" stroke-linecap="round" stroke-linejoin="round"/>
<polyline points="364,235.9 364.6,237.3 365.2,238.7" fill="none" stroke="#b61414" stroke-width="6" stroke-linecap="round" stroke-linejoin="round"/>
<polyline points="365.2,238.7 365.9,240.1 366.6,241.4" fill="none" stroke="#b71414" stroke-width="6" stroke-linecap="round" stroke-linejoin="round"/>
<polyline points="366.6,241.4 367.3,242.6 368,243.9" fill="none" stroke="#b91414" stroke-width="6" stroke-linecap="round" stroke-linejoin="round"/>
<polyline points="368,243.9 368.7,245.1 369.5,246.2" fill="none" stroke="#ba1414" stroke-width="6" stroke-linecap="round" stroke-linejoin="round"/>
<polyline points="369.5,246.2 370.3,247.3 371,248.3" fill="none" stroke="#bc1414" stroke-width="6" stroke-linecap="round" stroke-linejoin="round"/>
<polyline points="371,248.3 371.9,249.2 372.7,250.1" fill="none" stroke="#be1515" stroke-width="6" stroke-linecap="round" stroke-linejoin="round"/>
<polyline points="372.7,250.1 375.2,249.2 376,249.9" fill="none" stroke="#c01515" stroke-width="6" stroke-linecap="round" stroke-linejoin="round"/>
<polyline points="376,249.9 376.8,250.5 377.5,251" fill="none" stroke="#c21515" stroke-width="6" stroke-linecap="round" stroke-linejoin="round"/>
<polyline points="377.5,251 378.3,251.5 379,251.9" fill="none" stroke="#c51515" stroke-width="6" stroke-linecap="round" stroke-linejoin="round"/>
<polyline points="379,251.9 379.8,252.2 380.6,252.4" fill="none" stroke="#c71616" stroke-width="6" stroke-linecap="round" stroke-linejoin="round"/>
<polyline points="380.6,252.4 381.3,252.6 382.1,252.7" fill="none" stroke="#c91616" stroke-width="6" stroke-linecap="round" stroke-linejoin="round"/>
<polyline points="382.1,252.7 382.8,252.8 383.5,252.7" fill="none" stroke="#cc1616" stroke-width="6" stroke-linecap="round" stroke-linejoin="round"/>
<polyline points="383.5,252.7 384.3,252.6 385,252.5" fill="none" stroke="#ce1717" stroke-width="6" stroke-linecap="round" stroke-linejoin="round"/>
<polyline points="385,252.5 385.8,252.2 386.5,251.9" fill="none" stroke="#d11717" stroke-width="6" stroke-linecap="round" stroke-linejoin="round"/>
<polyline points="386.5,251.9 387.3,251.5 388.1,251.1" fill="none" stroke="#d31717" stroke-width="6" stroke-linecap="round" stroke-linejoin="round"/>
<polyline points="388.1,251.1 388.8,250.5 389.6,249.9" fill="none" stroke="#d61818" stroke-width="6" stroke-linecap="round" stroke-linejoin="round"/>
<polyline points="389.6,249.9 390.4,249.3 391.1,248.5" fill="none" stroke="#d81818" stroke-width="6" stroke-linecap="round" stroke-linejoin="round"/>
<polyline points="391.1,248.5 391.9,247.7 392.6,246.9" fill="none" stroke="#da1818" stroke-width="6" stroke-linecap="round" stroke-linejoin="round"/>
<polyline points="392.6,246.9 393.3,245.9 394.1,244.9" fill="none" stroke="#dc1919" stroke-width="6" stroke-linecap="round" stroke-linejoin="round"/>
<polyline points="394.1,244.9 394.8,243.9 395.5,242.8" fill="none" stroke="#de1919" stroke-width="6" stroke-linecap="round" stroke-linejoin="round"/>
<polyline points="395.5,242.8 396.2,241.6 396.8,240.4" fill="none" stroke="#df1919" stroke-width="6" stroke-linecap="round" stroke-linejoin="round"/>
<polyline points="396.8,240.4 397.5,239.1 398.1,237.8" fill="none" stroke="#e11919" stroke-width="6" stroke-linecap="round" stroke-linejoin="round"/>
<polyline points="398.1,237.8 398.7,236.5 399.3,235.1" fill="none" stroke="#e21919" stroke-width="6" stroke-linecap="round" stroke-linejoin="round"/>
<polyline points="399.3,235.1 399.9,233.8 400.5,232.3" fill="none" stroke="#e21919" stroke-width="6" stroke-linecap="round" stroke-linejoin="round"/>
<polyline points="400.5,232.3 401,230.9 401.5,229.5" fill="none" stroke="#e31919" stroke-width="6" stroke-linecap="round" stroke-linejoin="round"/>
<polyline points="401.5,229.5 402,228 402.5,226.5" fill="none" stroke="#e31919" stroke-width="6" stroke-linecap="round" stroke-linejoin="round"/>
<polyline points="402.5,226.5 403,225.1 403.4,223.6" fill="none" stroke="#e31919" stroke-width="6" stroke-linecap="round" stroke-linejoin="round"/>
<polyline points="403.4,223.6 403.9,222.1 404.3,220.7" fill="none" stroke="#e31919" stroke-width="6" stroke-linecap="round" stroke-linejoin="round"/>
<polyline points="404.3,220.7 404.6,219.2 405,217.8" fill="none" stroke="#e31919" stroke-width="6" stroke-linecap="round" stroke-linejoin="round"/>
<polyline points="405,217.8 405.3,216.4 405.7,215" fill="none" stroke="#e21919" stroke-width="6" stroke-linecap="round" stroke-linejoin="round"/>
<polyline points="405.7,215 406,213.6 406.2,212.3" fill="none" stroke="#e11919" stroke-width="6" stroke-linecap="round" stroke-linejoin="round"/>
<polyline points="406.2,212.3 406.5,211.1 406.7,209.8" fill="none" stroke="#e01919" stroke-width="6" stroke-linecap="round" stroke-linejoin="round"/>
<polyline points="406.7,209.8 407,208.6 407.2,207.5" fill="none" stroke="#da1818" stroke-width="6" stroke-linecap="round" stroke-linejoin="round"/>
<polyline points="407.2,207.5 407.4,206.4 407.6,205.3" fill="none" stroke="#cd1717" stroke-width="6" stroke-linecap="round" stroke-linejoin="round"/>
<polyline points="407.6,205.3 407.7,204.4 407.9,203.4" fill="none" stroke="#c01515" stroke-width="6" stroke-linecap="round" stroke-linejoin="round"/>
<polyline points="407.9,203.4 408,202.6 408.2,201.8" fill="none" stroke="#b31313" stroke-width="6" stroke-linecap="round" stroke-linejoin="round"/>
<polyline points="408.2,201.8 408.3,201 408.4,200.4" fill="none" stroke="#a61212" stroke-width="6" stroke-linecap="round" stroke-linejoin="round"/>
<polyline points="408.4,200.4 408.5,199.8 408.6,199.2" fill="none" stroke="#9a1010" stroke-width="6" stroke-linecap="round" stroke-linejoin="round"/>
<polyline points="408.6,199.2 408.7,198.8 408.8,198.4" fill="none" stroke="#8f0e0e" stroke-width="6" stroke-linecap="round" stroke-linejoin="round"/>
<polyline points="408.8,198.4 408.9,198 409,197.7" fill="none" stroke="#830d0d" stroke-width="6" stroke-linecap="round" stroke-linejoin="round"/>
<polyline points="409,197.7 409.2,197.3 410.1,196.8" fill="none" stroke="#790c0c" stroke-width="6" stroke-linecap="round" stroke-linejoin="round"/>
<polyline points="410.1,196.8 411.2,197.1 409.3,198.7" fill="none" stroke="#770b0b" stroke-width="6" stroke-linecap="round" stroke-linejoin="round"/>
<polyline points="409.3,198.7 409.3,198.7 409.4,198.9" fill="none" stroke="#800d0d" stroke-width="6" stroke-linecap="round" stroke-linejoin="round"/>
<polyline points="409.4,198.9 409.4,199.2 409.5,199.6" fill="none" stroke="#890e0e" stroke-width="6" stroke-linecap="round" stroke-linejoin="round"/>
<polyline points="409.5,199.6 409.6,200.1 409.7,200.6" fill="none" stroke="#920f0f" stroke-width="6" stroke-linecap="round" stroke-linejoin="round"/>
<polyline points="409.7,200.6 409.8,201.3 409.9,202" fill="none" stroke="#9a1010" stroke-width="6" stroke-linecap="round" stroke-linejoin="round"/>
<polyline points="409.9,202 410.1,202.7 410.2,203.6" fill="none" stroke="#a11111" stroke-width="6" stroke-linecap="round" stroke-linejoin="round"/>
<polyline points="410.2,203.6 410.4,204.5 410.5,205.5" fill="none" stroke="#a81212" stroke-width="6" stroke-linecap="round" stroke-linejoin="round"/>
<polyline points="410.5,205.5 410.7,206.5 410.9,207.6" fill="none" stroke="#af1313" stroke-width="6" stroke-linecap="round" stroke-linejoin="round"/>
<polyline points="410.9,207.6 411.1,208.7 411.3,209.9" fill="none" stroke="#b61414" stroke-width="6" stroke-linecap="round" stroke-linejoin="round"/>
<polyline points="411.3,209.9 411.6,211.2 411.8,212.5" fill="none" stroke="#b81414" stroke-width="6" stroke-linecap="round" stroke-linejoin="round"/>
<polyline points="411.8,212.5 412.1,213.8 412.4,215.2" fill="none" stroke="#b71414" stroke-width="6" stroke-linecap="round" stroke-linejoin="round"/>
<polyline points="412.4,215.2 412.7,216.5 413.1,218" fill="none" stroke="#b61414" stroke-width="6" stroke-linecap="round" stroke-linejoin="round"/>
<polyline points="413.1,218 413.4,219.4 413.8,220.9" fill="none" stroke="#b51313" stroke-width="6" stroke-linecap="round" stroke-linejoin="round"/>
<polyline points="413.8,220.9 414.2,222.4 414.6,223.8" fill="none" stroke="#b51313" stroke-width="6" stroke-linecap="round" stroke-linejoin="round"/>
<polyline points="414.6,223.8 415.1,225.3 415.6,226.9" fill="none" stroke="#b51313" stroke-width="6" stroke-linecap="round" stroke-linejoin="round"/>
<polyline points="415.6,226.9 416,228.4 416.6,229.9" fill="none" stroke="#b51313" stroke-width="6" stroke-linecap="round" stroke-linejoin="round"/>
<polyline points="416.6,229.9 417.1,231.3 417.6,232.8" fill="none" stroke="#b51313" stroke-width="6" stroke-linecap="round" stroke-linejoin="round"/>
<polyline points="417.6,232.8 418.2,234.3 418.8,235.7" fill="none" stroke="#b61414" stroke-width="6" stroke-linecap="round" stroke-linejoin="round"/>
<polyline points="418.8,235.7 419.4,237.1 420,238.5" fill="none" stroke="#b61414" stroke-width="6" stroke-linecap="round" stroke-linejoin="round"/>
<polyline points="420,238.5 420.7,239.9 421.4,241.2" fill="none" stroke="#b71414" stroke-width="6" stroke-linecap="round" stroke-linejoin="round"/>
<polyline points="421.4,241.2 422.1,242.5 422.8,243.7" fill="none" stroke="#b91414" stroke-width="6" stroke-linecap="round" stroke-linejoin="round"/>
<polyline points="422.8,243.7 423.5,244.9 424.3,246" fill="none" stroke="#ba1414" stroke-width="6" stroke-linecap="round" stroke-linejoin="round"/>
<polyline points="424.3,246 425,247.1 425.8,248.1" fill="none" stroke="#bc1414" stroke-width="6" stroke-linecap="round" stroke-linejoin="round"/>
<polyline points="425.8,248.1 426.6,249.1 427.5,250" fill="none" stroke="#be1515" stroke-width="6" stroke-linecap="round" stroke-linejoin="round"/>
<polyline points="427.5,250 430,249.1 430.8,249.8" fill="none" stroke="#c01515" stroke-width="6" stroke-linecap="round" stroke-linejoin="round"/>
<polyline points="430.8,249.8 431.5,250.4 432.3,250.9" fill="none" stroke="#c21515" stroke-width="6" stroke-linecap="round" stroke-linejoin="round"/>
<polyline points="432.3,250.9 433.1,251.4 433.8,251.8" fill="none" stroke="#c41515" stroke-width="6" stroke-linecap="round" stroke-linejoin="round"/>
<polyline points="433.8,251.8 434.6,252.1 435.3,252.4" fill="none" stroke="#c71616" stroke-width="6" stroke-linecap="round" stroke-linejoin="round"/>
<polyline points="435.3,252.4 436.1,252.6 436.8,252.7" fill="none" stroke="#c91616" stroke-width="6" stroke-linecap="round" stroke-linejoin="round"/>
<polyline points="436.8,252.7 437.6,252.8 438.3,252.7" fill="none" stroke="#cc1616" stroke-width="6" stroke-linecap="round" stroke-linejoin="round"/>
<polyline points="438.3,252.7 439.1,252.6 439.8,252.5" fill="none" stroke="#ce1717" stroke-width="6" stroke-linecap="round" stroke-linejoin="round"/>
<polyline points="439.8,252.5 440.6,252.3 441.3,252" fill="none" stroke="#d11717" stroke-width="6" stroke-linecap="round" stroke-linejoin="round"/>
<polyline points="441.3,252 442.1,251.6 442.9,251.1" fill="none" stroke="#d31717" stroke-width="6" stroke-linecap="round" stroke-linejoin="round"/>
<polyline points="442.9,251.1 443.6,250.6 444.4,250" fill="none" stroke="#d51818" stroke-width="6" stroke-linecap="round" stroke-linejoin="round"/>
<polyline points="444.4,250 445.1,249.4 445.9,248.6" fill="none" stroke="#d81818" stroke-width="6" stroke-linecap="round" stroke-linejoin="round"/>
<polyline points="445.9,248.6 446.7,247.8 447.4,247" fill="none" stroke="#da1818" stroke-width="6" stroke-linecap="round" stroke-linejoin="round"/>
<polyline points="447.4,247 448.1,246.1 448.9,245.1" fill="none" stroke="#dc1818" stroke-width="6" stroke-linecap="round" stroke-linejoin="round"/>
<polyline points="448.9,245.1 449.6,244 450.3,242.9" fill="none" stroke="#dd1919" stroke-width="6" stroke-linecap="round" stroke-linejoin="round"/>
<polyline points="450.3,242.9 451,241.8 451.6,240.6" fill="none" stroke="#df1919" stroke-width="6" stroke-linecap="round" stroke-linejoin="round"/>
<polyline points="451.6,240.6 452.3,239.3 452.9,238" fill="none" stroke="#e01919" stroke-width="6" stroke-linecap="round" stroke-linejoin="round"/>
<polyline points="452.9,238 453.5,236.7" fill="none" stroke="#e21919" stroke-width="6" stroke-linecap="round" stroke-linejoin="round"/>
<polyline points="355.4,205.7 355.5,206.7 355.7,207.8" fill="none" stroke="#e62221" stroke-width="2.1" stroke-linecap="round"/>
<polyline points="355.7,207.8 356,209 356.2,210.2" fill="none" stroke="#e82b29" stroke-width="2.1" stroke-linecap="round"/>
<polyline points="356.2,210.2 356.4,211.4 356.7,212.7" fill="none" stroke="#e82e2b" stroke-width="2.1" stroke-linecap="round"/>
<polyline points="356.7,212.7 357,214 357.3,215.4" fill="none" stroke="#e82c2a" stroke-width="2.1" stroke-linecap="round"/>
<polyline points="357.3,215.4 357.6,216.8 358,218.2" fill="none" stroke="#e82b29" stroke-width="2.1" stroke-linecap="round"/>
<polyline points="358,218.2 358.3,219.7 358.7,221.2" fill="none" stroke="#e72a28" stroke-width="2.1" stroke-linecap="round"/>
<polyline points="358.7,221.2 359.1,222.6 359.5,224.1" fill="none" stroke="#e72927" stroke-width="2.1" stroke-linecap="round"/>
<polyline points="359.5,224.1 360,225.6 360.5,227.2" fill="none" stroke="#e72927" stroke-width="2.1" stroke-linecap="round"/>
<polyline points="360.5,227.2 360.9,228.7 361.5,230.2" fill="none" stroke="#e72927" stroke-width="2.1" stroke-linecap="round"/>
<polyline points="361.5,230.2 362,231.7 362.5,233.1" fill="none" stroke="#e72a27" stroke-width="2.1" stroke-linecap="round"/>
<polyline points="362.5,233.1 363.1,234.6 363.7,236" fill="none" stroke="#e82a28" stroke-width="2.1" stroke-linecap="round"/>
<polyline points="363.7,236 364.3,237.5 365,238.8" fill="none" stroke="#e82c29" stroke-width="2.1" stroke-linecap="round"/>
<polyline points="365,238.8 365.6,240.2 366.3,241.5" fill="none" stroke="#e82d2a" stroke-width="2.1" stroke-linecap="round"/>
<polyline points="366.3,241.5 367,242.8 367.7,244" fill="none" stroke="#e92f2c" stroke-width="2.1" stroke-linecap="round"/>
<polyline points="367.7,244 368.5,245.2 369.2,246.3" fill="none" stroke="#e9312e" stroke-width="2.1" stroke-linecap="round"/>
<polyline points="369.2,246.3 370,247.4 370.8,248.5" fill="none" stroke="#ea3330" stroke-width="2.1" stroke-linecap="round"/>
<polyline points="370.8,248.5 371.6,249.4 372.5,250.3" fill="none" stroke="#ea3632" stroke-width="2.1" stroke-linecap="round"/>
<polyline points="372.5,250.3 375.4,249 376.2,249.6" fill="none" stroke="#eb3934" stroke-width="2.1" stroke-linecap="round"/>
<polyline points="376.2,249.6 376.9,250.2 377.7,250.8" fill="none" stroke="#ec3b37" stroke-width="2.1" stroke-linecap="round"/>
<polyline points="377.7,250.8 378.4,251.2 379.2,251.6" fill="none" stroke="#ec3f39" stroke-width="2.1" stroke-linecap="round"/>
<polyline points="379.2,251.6 379.9,251.9 380.6,252.1" fill="none" stroke="#ed423c" stroke-width="2.1" stroke-linecap="round"/>
<polyline points="380.6,252.1 381.4,252.3 382.1,252.4" fill="none" stroke="#ee453f" stroke-width="2.1" stroke-linecap="round"/>
<polyline points="382.1,252.4 382.8,252.5 383.5,252.4" fill="none" stroke="#ef4842" stroke-width="2.1" stroke-linecap="round"/>
<polyline points="383.5,252.4 384.2,252.3 385,252.2" fill="none" stroke="#f04c45" stroke-width="2.1" stroke-linecap="round"/>
<polyline points="385,252.2 385.7,251.9 386.4,251.6" fill="none" stroke="#f04f47" stroke-width="2.1" stroke-linecap="round"/>
<polyline points="386.4,251.6 387.2,251.3 387.9,250.8" fill="none" stroke="#f1524a" stroke-width="2.1" stroke-linecap="round"/>
<polyline points="387.9,250.8 388.7,250.3 389.4,249.7" fill="none" stroke="#f2554d" stroke-width="2.1" stroke-linecap="round"/>
<polyline points="389.4,249.7 390.2,249.1 390.9,248.3" fill="none" stroke="#f3584f" stroke-width="2.1" stroke-linecap="round"/>
<polyline points="390.9,248.3 391.6,247.5 392.4,246.7" fill="none" stroke="#f35b52" stroke-width="2.1" stroke-linecap="round"/>
<polyline points="392.4,246.7 393.1,245.7 393.8,244.8" fill="none" stroke="#f45e54" stroke-width="2.1" stroke-linecap="round"/>
<polyline points="393.8,244.8 394.5,243.7 395.2,242.6" fill="none" stroke="#f56056" stroke-width="2.1" stroke-linecap="round"/>
<polyline points="395.2,242.6 395.9,241.4 396.6,240.2" fill="none" stroke="#f56258" stroke-width="2.1" stroke-linecap="round"/>
<polyline points="396.6,240.2 397.2,239 397.9,237.7" fill="none" stroke="#f56459" stroke-width="2.1" stroke-linecap="round"/>
<polyline points="397.9,237.7 398.5,236.4 399.1,235" fill="none" stroke="#f6655b" stroke-width="2.1" stroke-linecap="round"/>
<polyline points="399.1,235 399.6,233.6 400.2,232.2" fill="none" stroke="#f6675c" stroke-width="2.1" stroke-linecap="round"/>
<polyline points="400.2,232.2 400.7,230.8 401.3,229.4" fill="none" stroke="#f6675c" stroke-width="2.1" stroke-linecap="round"/>
<polyline points="401.3,229.4 401.8,227.9 402.3,226.4" fill="none" stroke="#f6685d" stroke-width="2.1" stroke-linecap="round"/>
<polyline points="402.3,226.4 402.7,225 403.2,223.5" fill="none" stroke="#f6685d" stroke-width="2.1" stroke-linecap="round"/>
<polyline points="403.2,223.5 403.6,222 404,220.6" fill="none" stroke="#f6685c" stroke-width="2.1" stroke-linecap="round"/>
<polyline points="404,220.6 404.4,219.1 404.7,217.7" fill="none" stroke="#f6675c" stroke-width="2.1" stroke-linecap="round"/>
<polyline points="404.7,217.7 405.1,216.3 405.4,214.9" fill="none" stroke="#f6665b" stroke-width="2.1" stroke-linecap="round"/>
<polyline points="405.4,214.9 405.7,213.6 406,212.3" fill="none" stroke="#f6655a" stroke-width="2.1" stroke-linecap="round"/>
<polyline points="406,212.3 406.2,211 406.5,209.8" fill="none" stroke="#f56359" stroke-width="2.1" stroke-linecap="round"/>
<polyline points="406.5,209.8 406.7,208.6 406.9,207.4" fill="none" stroke="#f35c52" stroke-width="2.1" stroke-linecap="round"/>
<polyline points="406.9,207.4 407.1,206.3 407.3,205.3" fill="none" stroke="#ef4a43" stroke-width="2.1" stroke-linecap="round"/>
<polyline points="407.3,205.3 407.5,204.3 407.6,203.4" fill="none" stroke="#eb3834" stroke-width="2.1" stroke-linecap="round"/>
<polyline points="407.6,203.4 407.8,202.5 407.9,201.7" fill="none" stroke="#e72725" stroke-width="2.1" stroke-linecap="round"/>
<polyline points="410.2,205.5 410.4,206.6 410.6,207.7" fill="none" stroke="#e52221" stroke-width="2.1" stroke-linecap="round"/>
<polyline points="410.6,207.7 410.8,208.8 411,210" fill="none" stroke="#e82b28" stroke-width="2.1" stroke-linecap="round"/>
<polyline points="411,210 411.3,211.2 411.6,212.5" fill="none" stroke="#e82e2b" stroke-width="2.1" stroke-linecap="round"/>
<polyline points="411.6,212.5 411.8,213.9 412.1,215.2" fill="none" stroke="#e82c2a" stroke-width="2.1" stroke-linecap="round"/>
<polyline points="412.1,215.2 412.5,216.6 412.8,218" fill="none" stroke="#e82b29" stroke-width="2.1" stroke-linecap="round"/>
<polyline points="412.8,218 413.2,219.5 413.5,220.9" fill="none" stroke="#e82a28" stroke-width="2.1" stroke-linecap="round"/>
<polyline points="413.5,220.9 413.9,222.4 414.4,223.9" fill="none" stroke="#e72927" stroke-width="2.1" stroke-linecap="round"/>
<polyline points="414.4,223.9 414.8,225.4 415.3,226.9" fill="none" stroke="#e72927" stroke-width="2.1" stroke-linecap="round"/>
<polyline points="415.3,226.9 415.8,228.4 416.3,229.9" fill="none" stroke="#e72927" stroke-width="2.1" stroke-linecap="round"/>
<polyline points="416.3,229.9 416.8,231.4 417.4,232.9" fill="none" stroke="#e72a27" stroke-width="2.1" stroke-linecap="round"/>
<polyline points="417.4,232.9 417.9,234.4 418.5,235.8" fill="none" stroke="#e82a28" stroke-width="2.1" stroke-linecap="round"/>
<polyline points="418.5,235.8 419.2,237.3 419.8,238.6" fill="none" stroke="#e82c29" stroke-width="2.1" stroke-linecap="round"/>
<polyline points="419.8,238.6 420.4,240 421.1,241.3" fill="none" stroke="#e82d2a" stroke-width="2.1" stroke-linecap="round"/>
<polyline points="421.1,241.3 421.8,242.6 422.5,243.8" fill="none" stroke="#e92f2c" stroke-width="2.1" stroke-linecap="round"/>
<polyline points="422.5,243.8 423.3,245 424,246.2" fill="none" stroke="#e9312d" stroke-width="2.1" stroke-linecap="round"/>
<polyline points="424,246.2 424.8,247.3 425.6,248.3" fill="none" stroke="#ea332f" stroke-width="2.1" stroke-linecap="round"/>
<polyline points="425.6,248.3 426.4,249.3 427.2,250.2" fill="none" stroke="#ea3632" stroke-width="2.1" stroke-linecap="round"/>
<polyline points="427.2,250.2 430.2,248.9 431,249.5" fill="none" stroke="#eb3834" stroke-width="2.1" stroke-linecap="round"/>
<polyline points="431,249.5 431.7,250.1 432.5,250.7" fill="none" stroke="#ec3b36" stroke-width="2.1" stroke-linecap="round"/>
<polyline points="432.5,250.7 433.2,251.2 434,251.5" fill="none" stroke="#ec3e39" stroke-width="2.1" stroke-linecap="round"/>
<polyline points="434,251.5 434.7,251.9 435.4,252.1" fill="none" stroke="#ed423c" stroke-width="2.1" stroke-linecap="round"/>
<polyline points="435.4,252.1 436.2,252.3 436.9,252.4" fill="none" stroke="#ee453f" stroke-width="2.1" stroke-linecap="round"/>
<polyline points="436.9,252.4 437.6,252.5 438.3,252.4" fill="none" stroke="#ef4842" stroke-width="2.1" stroke-linecap="round"/>
<polyline points="438.3,252.4 439,252.4 439.8,252.2" fill="none" stroke="#f04c44" stroke-width="2.1" stroke-linecap="round"/>
<polyline points="439.8,252.2 440.5,252 441.2,251.7" fill="none" stroke="#f04f47" stroke-width="2.1" stroke-linecap="round"/>
<polyline points="441.2,251.7 442,251.3 442.7,250.9" fill="none" stroke="#f1524a" stroke-width="2.1" stroke-linecap="round"/>
<polyline points="442.7,250.9 443.5,250.4 444.2,249.8" fill="none" stroke="#f2554d" stroke-width="2.1" stroke-linecap="round"/>
<polyline points="444.2,249.8 444.9,249.2 445.7,248.4" fill="none" stroke="#f3584f" stroke-width="2.1" stroke-linecap="round"/>
<polyline points="445.7,248.4 446.4,247.7 447.2,246.8" fill="none" stroke="#f35b52" stroke-width="2.1" stroke-linecap="round"/>
<polyline points="447.2,246.8 447.9,245.9 448.6,244.9" fill="none" stroke="#f45e54" stroke-width="2.1" stroke-linecap="round"/>
<polyline points="448.6,244.9 449.3,243.9 450,242.8" fill="none" stroke="#f46056" stroke-width="2.1" stroke-linecap="round"/>
<polyline points="450,242.8 450.7,241.6 451.4,240.4" fill="none" stroke="#f56258" stroke-width="2.1" stroke-linecap="round"/>
<polyline points="451.4,240.4 452,239.2 452.7,237.9" fill="none" stroke="#f56459" stroke-width="2.1" stroke-linecap="round"/>
<polyline points="452.7,237.9 453.3,236.6" fill="none" stroke="#f6655a" stroke-width="2.1" stroke-linecap="round"/>
<polygon points="341.9,252.6 330.1,226.5 365.6,234.9" fill="url(#cr1)"/>
<line x1="354" y1="371" x2="348" y2="355" stroke="#5a0808" stroke-width="9"/>
<line x1="353.5" y1="370" x2="348" y2="356" stroke="#e41a1a" stroke-width="5.8"/>
<polyline points="354.6,372 354.7,372 354.7,371.8 354.8,371.6 354.9,371.3 355,370.8 355.1,370.3 355.2,369.8 355.3,369.1 355.4,368.3 355.5,367.5 355.6,366.6 355.8,365.6 355.9,364.5 356.1,363.3 356.3,362.1 356.5,360.9 356.7,359.5 357,358.2 357.2,356.7 357.5,355.2 357.8,353.7 358.1,352.1 358.5,350.5 358.8,348.9 359.2,347.3 359.6,345.6 360,343.9 360.5,342.2 360.9,340.5 361.4,338.8 361.9,337.1 362.5,335.5 363,333.8 363.6,332.2 364.2,330.6 364.8,329 365.4,327.4 366.1,325.9 366.7,324.5 367.4,323.1 368.2,321.7 368.9,320.4 369.6,319.2 370.4,318 371.2,316.9 371.9,315.9 372.7,314.9 373.6,314 374.4,313.2 375.2,312.5 376,311.9 376.9,311.4 377.8,310.9 378.6,310.5 379.5,310.3 380.3,310.1 381.2,310 382.1,310 383,310.1 383.8,310.3 384.7,310.6 385.5,311 386.4,311.4 387.2,312 388.1,312.6 388.9,313.3 389.7,314.1 390.5,315 391.3,316 392.1,317 392.9,318.1 393.7,319.3 394.4,320.6 395.1,321.9 395.8,323.2 396.5,324.6 397.2,326.1 397.9,327.6 398.5,329.2 399.1,330.7 399.7,332.4 400.3,334 400.8,335.7 401.3,337.3 401.8,339 402.3,340.7 402.8,342.4 403.2,344.1 403.6,345.8 404,347.5 404.4,349.1 404.8,350.7 405.1,352.3 405.4,353.9 405.7,355.4 406,356.9 406.3,358.3 406.5,359.7 406.7,361 406.9,362.3 407.1,363.5 407.3,364.6 407.4,365.7 407.6,366.7 407.7,367.6 407.8,368.4 407.9,369.2 408,369.8 408.1,370.4 408.2,370.9 408.3,371.3 408.4,371.6 408.5,371.8 408.5,372 408.6,372 408.7,371.9 408.8,371.8 408.8,371.6 408.9,371.2 409,370.8 409.1,370.3 409.2,369.7 409.3,369 409.4,368.2 409.5,367.4 409.7,366.5 409.8,365.4 410,364.4 410.1,363.2 410.3,362 410.5,360.7 410.8,359.4 411,358 411.3,356.6 411.5,355.1 411.8,353.5 412.2,352 412.5,350.4 412.9,348.7 413.2,347.1 413.6,345.4 414.1,343.7 414.5,342 415,340.3 415.5,338.6 416,337 416.5,335.3 417.1,333.6 417.6,332 418.2,330.4 418.9,328.8 419.5,327.3 420.2,325.8 420.8,324.3 421.5,322.9 422.2,321.6 423,320.3 423.7,319 424.5,317.9 425.2,316.8 426,315.8 426.8,314.8 427.6,314 428.5,313.2 429.3,312.5 430.1,311.8 431,311.3 431.8,310.9 432.7,310.5 433.6,310.3 434.4,310.1 435.3,310 436.2,310 437,310.1 437.9,310.3 438.8,310.6 439.6,311 440.5,311.5 441.3,312 442.2,312.7 443,313.4 443.8,314.2 444.6,315.1 445.4,316.1 446.2,317.1 447,318.3 447.7,319.4 448.5,320.7 449.2,322 449.9,323.4 450.6,324.8 451.3,326.3 451.9,327.8 452.6,329.3 453.2,330.9 453.8,332.5 454.3,334.2 454.9,335.8 455.4,337.5" fill="none" stroke="#5a0808" stroke-width="9.6" stroke-linecap="butt" stroke-linejoin="round"/>
<polyline points="353.9,371 353.7,371.2 353.6,371.4" fill="none" stroke="#780b0b" stroke-width="6" stroke-linecap="round" stroke-linejoin="round"/>
<polyline points="353.6,371.4 353.6,371.3 353.7,371" fill="none" stroke="#830d0d" stroke-width="6" stroke-linecap="round" stroke-linejoin="round"/>
<polyline points="353.7,371 353.8,370.6 353.8,370.1" fill="none" stroke="#8f0e0e" stroke-width="6" stroke-linecap="round" stroke-linejoin="round"/>
<polyline points="353.8,370.1 353.9,369.6 354,368.9" fill="none" stroke="#9b1010" stroke-width="6" stroke-linecap="round" stroke-linejoin="round"/>
<polyline points="354,368.9 354.1,368.1 354.3,367.3" fill="none" stroke="#a71212" stroke-width="6" stroke-linecap="round" stroke-linejoin="round"/>
<polyline points="354.3,367.3 354.4,366.4 354.5,365.4" fill="none" stroke="#b41313" stroke-width="6" stroke-linecap="round" stroke-linejoin="round"/>
<polyline points="354.5,365.4 354.7,364.3 354.9,363.2" fill="none" stroke="#c11515" stroke-width="6" stroke-linecap="round" stroke-linejoin="round"/>
<polyline points="354.9,363.2 355.1,361.9 355.3,360.7" fill="none" stroke="#cf1717" stroke-width="6" stroke-linecap="round" stroke-linejoin="round"/>
<polyline points="355.3,360.7 355.5,359.3 355.7,357.9" fill="none" stroke="#dd1919" stroke-width="6" stroke-linecap="round" stroke-linejoin="round"/>
<polyline points="355.7,357.9 356,356.5 356.3,355" fill="none" stroke="#e01919" stroke-width="6" stroke-linecap="round" stroke-linejoin="round"/>
<polyline points="356.3,355 356.6,353.5 356.9,351.9" fill="none" stroke="#e11919" stroke-width="6" stroke-linecap="round" stroke-linejoin="round"/>
<polyline points="356.9,351.9 357.2,350.3 357.6,348.6" fill="none" stroke="#e21919" stroke-width="6" stroke-linecap="round" stroke-linejoin="round"/>
<polyline points="357.6,348.6 358,347 358.4,345.3" fill="none" stroke="#e31919" stroke-width="6" stroke-linecap="round" stroke-linejoin="round"/>
<polyline points="358.4,345.3 358.8,343.6 359.3,341.9" fill="none" stroke="#e31919" stroke-width="6" stroke-linecap="round" stroke-linejoin="round"/>
<polyline points="359.3,341.9 359.7,340.2 360.2,338.5" fill="none" stroke="#e31919" stroke-width="6" stroke-linecap="round" stroke-linejoin="round"/>
<polyline points="360.2,338.5 360.7,336.8 361.3,335.1" fill="none" stroke="#e31919" stroke-width="6" stroke-linecap="round" stroke-linejoin="round"/>
<polyline points="361.3,335.1 361.8,333.4 362.4,331.8" fill="none" stroke="#e31919" stroke-width="6" stroke-linecap="round" stroke-linejoin="round"/>
<polyline points="362.4,331.8 363,330.1 363.6,328.5" fill="none" stroke="#e21919" stroke-width="6" stroke-linecap="round" stroke-linejoin="round"/>
<polyline points="363.6,328.5 364.3,327 364.9,325.4" fill="none" stroke="#e11919" stroke-width="6" stroke-linecap="round" stroke-linejoin="round"/>
<polyline points="364.9,325.4 365.6,323.9 366.3,322.5" fill="none" stroke="#e01919" stroke-width="6" stroke-linecap="round" stroke-linejoin="round"/>
<polyline points="366.3,322.5 367.1,321.1 367.8,319.8" fill="none" stroke="#de1919" stroke-width="6" stroke-linecap="round" stroke-linejoin="round"/>
<polyline points="367.8,319.8 368.6,318.5 369.3,317.3" fill="none" stroke="#dd1919" stroke-width="6" stroke-linecap="round" stroke-linejoin="round"/>
<polyline points="369.3,317.3 370.1,316.2 371,315.1" fill="none" stroke="#db1818" stroke-width="6" stroke-linecap="round" stroke-linejoin="round"/>
<polyline points="371,315.1 371.8,314.1 372.7,313.2" fill="none" stroke="#d91818" stroke-width="6" stroke-linecap="round" stroke-linejoin="round"/>
<polyline points="372.7,313.2 373.5,312.3 374.4,311.6" fill="none" stroke="#d61818" stroke-width="6" stroke-linecap="round" stroke-linejoin="round"/>
<polyline points="374.4,311.6 375.3,310.9 376.3,310.3" fill="none" stroke="#d41717" stroke-width="6" stroke-linecap="round" stroke-linejoin="round"/>
<polyline points="376.3,310.3 377.2,309.8 378.2,309.4" fill="none" stroke="#d21717" stroke-width="6" stroke-linecap="round" stroke-linejoin="round"/>
<polyline points="378.2,309.4 379.2,309.1 380.2,308.9" fill="none" stroke="#cf1717" stroke-width="6" stroke-linecap="round" stroke-linejoin="round"/>
<polyline points="380.2,308.9 381.2,308.8 382.2,308.8" fill="none" stroke="#cd1717" stroke-width="6" stroke-linecap="round" stroke-linejoin="round"/>
<polyline points="382.2,308.8 383.2,308.9 384.1,309.1" fill="none" stroke="#ca1616" stroke-width="6" stroke-linecap="round" stroke-linejoin="round"/>
<polyline points="384.1,309.1 385.1,309.4 386.1,309.8" fill="none" stroke="#c81616" stroke-width="6" stroke-linecap="round" stroke-linejoin="round"/>
<polyline points="386.1,309.8 387,310.3 388,311" fill="none" stroke="#c51616" stroke-width="6" stroke-linecap="round" stroke-linejoin="round"/>
<polyline points="388,311 388.9,311.6 389.8,312.4" fill="none" stroke="#c31515" stroke-width="6" stroke-linecap="round" stroke-linejoin="round"/>
<polyline points="389.8,312.4 388.8,315 389.6,315.8" fill="none" stroke="#c01515" stroke-width="6" stroke-linecap="round" stroke-linejoin="round"/>
<polyline points="389.6,315.8 390.4,316.8 391.1,317.8" fill="none" stroke="#be1515" stroke-width="6" stroke-linecap="round" stroke-linejoin="round"/>
<polyline points="391.1,317.8 391.9,318.8 392.6,320" fill="none" stroke="#bc1414" stroke-width="6" stroke-linecap="round" stroke-linejoin="round"/>
<polyline points="392.6,320 393.3,321.2 394,322.5" fill="none" stroke="#ba1414" stroke-width="6" stroke-linecap="round" stroke-linejoin="round"/>
<polyline points="394,322.5 394.7,323.8 395.4,325.2" fill="none" stroke="#b91414" stroke-width="6" stroke-linecap="round" stroke-linejoin="round"/>
<polyline points="395.4,325.2 396.1,326.6 396.7,328.1" fill="none" stroke="#b71414" stroke-width="6" stroke-linecap="round" stroke-linejoin="round"/>
<polyline points="396.7,328.1 397.3,329.6 397.9,331.2" fill="none" stroke="#b61414" stroke-width="6" stroke-linecap="round" stroke-linejoin="round"/>
<polyline points="397.9,331.2 398.5,332.8 399.1,334.4" fill="none" stroke="#b61414" stroke-width="6" stroke-linecap="round" stroke-linejoin="round"/>
<polyline points="399.1,334.4 399.6,336 400.1,337.7" fill="none" stroke="#b51313" stroke-width="6" stroke-linecap="round" stroke-linejoin="round"/>
<polyline points="400.1,337.7 400.6,339.4 401.1,341.1" fill="none" stroke="#b51313" stroke-width="6" stroke-linecap="round" stroke-linejoin="round"/>
<polyline points="401.1,341.1 401.6,342.7 402,344.4" fill="none" stroke="#b51313" stroke-width="6" stroke-linecap="round" stroke-linejoin="round"/>
<polyline points="402,344.4 402.4,346.1 402.8,347.7" fill="none" stroke="#b51313" stroke-width="6" stroke-linecap="round" stroke-linejoin="round"/>
<polyline points="402.8,347.7 403.2,349.4 403.6,351" fill="none" stroke="#b51313" stroke-width="6" stroke-linecap="round" stroke-linejoin="round"/>
<polyline points="403.6,351 403.9,352.6 404.2,354.1" fill="none" stroke="#b61414" stroke-width="6" stroke-linecap="round" stroke-linejoin="round"/>
<polyline points="404.2,354.1 404.5,355.6 404.8,357.1" fill="none" stroke="#b71414" stroke-width="6" stroke-linecap="round" stroke-linejoin="round"/>
<polyline points="404.8,357.1 405,358.5 405.3,359.9" fill="none" stroke="#b91414" stroke-width="6" stroke-linecap="round" stroke-linejoin="round"/>
<polyline points="405.3,359.9 405.5,361.2 405.7,362.5" fill="none" stroke="#b41313" stroke-width="6" stroke-linecap="round" stroke-linejoin="round"/>
<polyline points="405.7,362.5 405.9,363.7 406,364.8" fill="none" stroke="#ad1212" stroke-width="6" stroke-linecap="round" stroke-linejoin="round"/>
<polyline points="406,364.8 406.2,365.9 406.3,366.8" fill="none" stroke="#a61111" stroke-width="6" stroke-linecap="round" stroke-linejoin="round"/>
<polyline points="406.3,366.8 406.5,367.8 406.6,368.6" fill="none" stroke="#9f1111" stroke-width="6" stroke-linecap="round" stroke-linejoin="round"/>
<polyline points="406.6,368.6 406.7,369.3 406.8,370" fill="none" stroke="#970f0f" stroke-width="6" stroke-linecap="round" stroke-linejoin="round"/>
<polyline points="406.8,370 406.9,370.6 407,371.1" fill="none" stroke="#8e0e0e" stroke-width="6" stroke-linecap="round" stroke-linejoin="round"/>
<polyline points="407,371.1 407.1,371.6 407.2,372" fill="none" stroke="#860d0d" stroke-width="6" stroke-linecap="round" stroke-linejoin="round"/>
<polyline points="407.2,372 407.3,372.3 407.6,372.8" fill="none" stroke="#7c0c0c" stroke-width="6" stroke-linecap="round" stroke-linejoin="round"/>
<polyline points="407.6,372.8 408.4,370.8 407.7,371.2" fill="none" stroke="#730b0b" stroke-width="6" stroke-linecap="round" stroke-linejoin="round"/>
<polyline points="407.7,371.2 407.6,371.4 407.6,371.2" fill="none" stroke="#7e0c0c" stroke-width="6" stroke-linecap="round" stroke-linejoin="round"/>
<polyline points="407.6,371.2 407.7,371 407.8,370.6" fill="none" stroke="#890e0e" stroke-width="6" stroke-linecap="round" stroke-linejoin="round"/>
<polyline points="407.8,370.6 407.8,370.1 407.9,369.5" fill="none" stroke="#950f0f" stroke-width="6" stroke-linecap="round" stroke-linejoin="round"/>
<polyline points="407.9,369.5 408,368.8 408.2,368" fill="none" stroke="#a11111" stroke-width="6" stroke-linecap="round" stroke-linejoin="round"/>
<polyline points="408.2,368 408.3,367.2 408.4,366.3" fill="none" stroke="#ae1313" stroke-width="6" stroke-linecap="round" stroke-linejoin="round"/>
<polyline points="408.4,366.3 408.6,365.3 408.7,364.2" fill="none" stroke="#bb1414" stroke-width="6" stroke-linecap="round" stroke-linejoin="round"/>
<polyline points="408.7,364.2 408.9,363 409.1,361.8" fill="none" stroke="#c91616" stroke-width="6" stroke-linecap="round" stroke-linejoin="round"/>
<polyline points="409.1,361.8 409.3,360.5 409.5,359.2" fill="none" stroke="#d61818" stroke-width="6" stroke-linecap="round" stroke-linejoin="round"/>
<polyline points="409.5,359.2 409.8,357.8 410,356.3" fill="none" stroke="#e01919" stroke-width="6" stroke-linecap="round" stroke-linejoin="round"/>
<polyline points="410,356.3 410.3,354.8 410.6,353.3" fill="none" stroke="#e11919" stroke-width="6" stroke-linecap="round" stroke-linejoin="round"/>
<polyline points="410.6,353.3 410.9,351.7 411.3,350.1" fill="none" stroke="#e21919" stroke-width="6" stroke-linecap="round" stroke-linejoin="round"/>
<polyline points="411.3,350.1 411.6,348.5 412,346.8" fill="none" stroke="#e31919" stroke-width="6" stroke-linecap="round" stroke-linejoin="round"/>
<polyline points="412,346.8 412.4,345.1 412.9,343.4" fill="none" stroke="#e31919" stroke-width="6" stroke-linecap="round" stroke-linejoin="round"/>
<polyline points="412.9,343.4 413.3,341.7 413.8,340" fill="none" stroke="#e31919" stroke-width="6" stroke-linecap="round" stroke-linejoin="round"/>
<polyline points="413.8,340 414.3,338.3 414.8,336.6" fill="none" stroke="#e31919" stroke-width="6" stroke-linecap="round" stroke-linejoin="round"/>
<polyline points="414.8,336.6 415.3,334.9 415.9,333.2" fill="none" stroke="#e31919" stroke-width="6" stroke-linecap="round" stroke-linejoin="round"/>
<polyline points="415.9,333.2 416.5,331.6 417.1,329.9" fill="none" stroke="#e21919" stroke-width="6" stroke-linecap="round" stroke-linejoin="round"/>
<polyline points="417.1,329.9 417.7,328.3 418.3,326.8" fill="none" stroke="#e21919" stroke-width="6" stroke-linecap="round" stroke-linejoin="round"/>
<polyline points="418.3,326.8 419,325.3 419.7,323.8" fill="none" stroke="#e01919" stroke-width="6" stroke-linecap="round" stroke-linejoin="round"/>
<polyline points="419.7,323.8 420.4,322.3 421.1,321" fill="none" stroke="#df1919" stroke-width="6" stroke-linecap="round" stroke-linejoin="round"/>
<polyline points="421.1,321 421.9,319.6 422.6,318.4" fill="none" stroke="#dd1919" stroke-width="6" stroke-linecap="round" stroke-linejoin="round"/>
<polyline points="422.6,318.4 423.4,317.2 424.2,316" fill="none" stroke="#dc1818" stroke-width="6" stroke-linecap="round" stroke-linejoin="round"/>
<polyline points="424.2,316 425.1,315 425.9,314" fill="none" stroke="#da1818" stroke-width="6" stroke-linecap="round" stroke-linejoin="round"/>
<polyline points="425.9,314 426.8,313.1 427.6,312.2" fill="none" stroke="#d81818" stroke-width="6" stroke-linecap="round" stroke-linejoin="round"/>
<polyline points="427.6,312.2 428.5,311.5 429.4,310.8" fill="none" stroke="#d51818" stroke-width="6" stroke-linecap="round" stroke-linejoin="round"/>
<polyline points="429.4,310.8 430.4,310.2 431.3,309.7" fill="none" stroke="#d31717" stroke-width="6" stroke-linecap="round" stroke-linejoin="round"/>
<polyline points="431.3,309.7 432.3,309.3 433.3,309" fill="none" stroke="#d01717" stroke-width="6" stroke-linecap="round" stroke-linejoin="round"/>
<polyline points="433.3,309 434.3,308.8 435.3,308.8" fill="none" stroke="#ce1717" stroke-width="6" stroke-linecap="round" stroke-linejoin="round"/>
<polyline points="435.3,308.8 436.3,308.8 437.3,308.9" fill="none" stroke="#cb1616" stroke-width="6" stroke-linecap="round" stroke-linejoin="round"/>
<polyline points="437.3,308.9 438.3,309.1 439.2,309.5" fill="none" stroke="#c91616" stroke-width="6" stroke-linecap="round" stroke-linejoin="round"/>
<polyline points="439.2,309.5 440.2,309.9 441.1,310.4" fill="none" stroke="#c61616" stroke-width="6" stroke-linecap="round" stroke-linejoin="round"/>
<polyline points="441.1,310.4 442.1,311 443,311.7" fill="none" stroke="#c41515" stroke-width="6" stroke-linecap="round" stroke-linejoin="round"/>
<polyline points="443,311.7 443.9,312.5 442.9,315.1" fill="none" stroke="#c11515" stroke-width="6" stroke-linecap="round" stroke-linejoin="round"/>
<polyline points="442.9,315.1 443.7,315.9 444.5,316.9" fill="none" stroke="#bf1515" stroke-width="6" stroke-linecap="round" stroke-linejoin="round"/>
<polyline points="444.5,316.9 445.2,317.9 445.9,319" fill="none" stroke="#bd1414" stroke-width="6" stroke-linecap="round" stroke-linejoin="round"/>
<polyline points="445.9,319 446.7,320.1 447.4,321.3" fill="none" stroke="#bb1414" stroke-width="6" stroke-linecap="round" stroke-linejoin="round"/>
<polyline points="447.4,321.3 448.1,322.6 448.8,323.9" fill="none" stroke="#b91414" stroke-width="6" stroke-linecap="round" stroke-linejoin="round"/>
<polyline points="448.8,323.9 449.5,325.3 450.1,326.8" fill="none" stroke="#b81414" stroke-width="6" stroke-linecap="round" stroke-linejoin="round"/>
<polyline points="450.1,326.8 450.8,328.3 451.4,329.8" fill="none" stroke="#b71414" stroke-width="6" stroke-linecap="round" stroke-linejoin="round"/>
<polyline points="451.4,329.8 452,331.4 452.6,333" fill="none" stroke="#b61414" stroke-width="6" stroke-linecap="round" stroke-linejoin="round"/>
<polyline points="452.6,333 453.1,334.6 453.7,336.2" fill="none" stroke="#b51313" stroke-width="6" stroke-linecap="round" stroke-linejoin="round"/>
<polyline points="453.7,336.2 454.2,337.9" fill="none" stroke="#b51313" stroke-width="6" stroke-linecap="round" stroke-linejoin="round"/>
<polyline points="354,367.3 354.1,366.3 354.3,365.3" fill="none" stroke="#e72826" stroke-width="2.1" stroke-linecap="round"/>
<polyline points="354.3,365.3 354.4,364.3 354.6,363.1" fill="none" stroke="#eb3a35" stroke-width="2.1" stroke-linecap="round"/>
<polyline points="354.6,363.1 354.8,361.9 355,360.6" fill="none" stroke="#f04c45" stroke-width="2.1" stroke-linecap="round"/>
<polyline points="355,360.6 355.2,359.3 355.5,357.9" fill="none" stroke="#f45f55" stroke-width="2.1" stroke-linecap="round"/>
<polyline points="355.5,357.9 355.7,356.4 356,354.9" fill="none" stroke="#f56459" stroke-width="2.1" stroke-linecap="round"/>
<polyline points="356,354.9 356.3,353.4 356.6,351.8" fill="none" stroke="#f6655a" stroke-width="2.1" stroke-linecap="round"/>
<polyline points="356.6,351.8 357,350.2 357.3,348.6" fill="none" stroke="#f6665b" stroke-width="2.1" stroke-linecap="round"/>
<polyline points="357.3,348.6 357.7,346.9 358.1,345.2" fill="none" stroke="#f6675c" stroke-width="2.1" stroke-linecap="round"/>
<polyline points="358.1,345.2 358.5,343.5 359,341.8" fill="none" stroke="#f6685d" stroke-width="2.1" stroke-linecap="round"/>
<polyline points="359,341.8 359.4,340.1 359.9,338.4" fill="none" stroke="#f6685d" stroke-width="2.1" stroke-linecap="round"/>
<polyline points="359.9,338.4 360.5,336.7 361,335" fill="none" stroke="#f6685c" stroke-width="2.1" stroke-linecap="round"/>
<polyline points="361,335 361.6,333.3 362.1,331.7" fill="none" stroke="#f6675c" stroke-width="2.1" stroke-linecap="round"/>
<polyline points="362.1,331.7 362.7,330 363.4,328.4" fill="none" stroke="#f6665b" stroke-width="2.1" stroke-linecap="round"/>
<polyline points="363.4,328.4 364,326.8 364.7,325.3" fill="none" stroke="#f6655a" stroke-width="2.1" stroke-linecap="round"/>
<polyline points="364.7,325.3 365.4,323.8 366.1,322.4" fill="none" stroke="#f56359" stroke-width="2.1" stroke-linecap="round"/>
<polyline points="366.1,322.4 366.8,321 367.5,319.6" fill="none" stroke="#f56157" stroke-width="2.1" stroke-linecap="round"/>
<polyline points="367.5,319.6 368.3,318.4 369.1,317.2" fill="none" stroke="#f45f55" stroke-width="2.1" stroke-linecap="round"/>
<polyline points="369.1,317.2 369.9,316 370.7,314.9" fill="none" stroke="#f45c53" stroke-width="2.1" stroke-linecap="round"/>
<polyline points="370.7,314.9 371.6,313.9 372.5,313" fill="none" stroke="#f35950" stroke-width="2.1" stroke-linecap="round"/>
<polyline points="372.5,313 373.3,312.1 374.2,311.3" fill="none" stroke="#f2574e" stroke-width="2.1" stroke-linecap="round"/>
<polyline points="374.2,311.3 375.2,310.6 376.1,310" fill="none" stroke="#f1534b" stroke-width="2.1" stroke-linecap="round"/>
<polyline points="376.1,310 377.1,309.5 378.1,309.1" fill="none" stroke="#f15048" stroke-width="2.1" stroke-linecap="round"/>
<polyline points="378.1,309.1 379.1,308.8 380.1,308.6" fill="none" stroke="#f04d45" stroke-width="2.1" stroke-linecap="round"/>
<polyline points="380.1,308.6 381.1,308.5 382.2,308.5" fill="none" stroke="#ef4942" stroke-width="2.1" stroke-linecap="round"/>
<polyline points="382.2,308.5 383.2,308.6 384.2,308.8" fill="none" stroke="#ee4640" stroke-width="2.1" stroke-linecap="round"/>
<polyline points="384.2,308.8 385.2,309.1 386.2,309.6" fill="none" stroke="#ed423d" stroke-width="2.1" stroke-linecap="round"/>
<polyline points="386.2,309.6 387.2,310.1 388.1,310.7" fill="none" stroke="#ed3f3a" stroke-width="2.1" stroke-linecap="round"/>
<polyline points="388.1,310.7 389.1,311.4 390,312.2" fill="none" stroke="#ec3c37" stroke-width="2.1" stroke-linecap="round"/>
<polyline points="390,312.2 388.6,315.2 389.4,316" fill="none" stroke="#eb3934" stroke-width="2.1" stroke-linecap="round"/>
<polyline points="389.4,316 390.1,316.9 390.9,317.9" fill="none" stroke="#ea3632" stroke-width="2.1" stroke-linecap="round"/>
<polyline points="390.9,317.9 391.6,319 392.4,320.1" fill="none" stroke="#ea3330" stroke-width="2.1" stroke-linecap="round"/>
<polyline points="392.4,320.1 393.1,321.3 393.8,322.6" fill="none" stroke="#e9312e" stroke-width="2.1" stroke-linecap="round"/>
<polyline points="393.8,322.6 394.5,323.9 395.1,325.3" fill="none" stroke="#e92f2c" stroke-width="2.1" stroke-linecap="round"/>
<polyline points="395.1,325.3 395.8,326.7 396.4,328.2" fill="none" stroke="#e82d2a" stroke-width="2.1" stroke-linecap="round"/>
<polyline points="396.4,328.2 397.1,329.7 397.7,331.3" fill="none" stroke="#e82c29" stroke-width="2.1" stroke-linecap="round"/>
<polyline points="397.7,331.3 398.2,332.9 398.8,334.5" fill="none" stroke="#e82a28" stroke-width="2.1" stroke-linecap="round"/>
<polyline points="398.8,334.5 399.3,336.1 399.9,337.8" fill="none" stroke="#e72a27" stroke-width="2.1" stroke-linecap="round"/>
<polyline points="399.9,337.8 400.4,339.5 400.8,341.1" fill="none" stroke="#e72927" stroke-width="2.1" stroke-linecap="round"/>
<polyline points="400.8,341.1 401.3,342.8 401.7,344.5" fill="none" stroke="#e72927" stroke-width="2.1" stroke-linecap="round"/>
<polyline points="401.7,344.5 402.2,346.1 402.6,347.8" fill="none" stroke="#e72a27" stroke-width="2.1" stroke-linecap="round"/>
<polyline points="402.6,347.8 402.9,349.4 403.3,351" fill="none" stroke="#e82a28" stroke-width="2.1" stroke-linecap="round"/>
<polyline points="403.3,351 403.6,352.6 403.9,354.2" fill="none" stroke="#e82b29" stroke-width="2.1" stroke-linecap="round"/>
<polyline points="403.9,354.2 404.2,355.7 404.5,357.2" fill="none" stroke="#e82d2a" stroke-width="2.1" stroke-linecap="round"/>
<polyline points="404.5,357.2 404.7,358.6 405,359.9" fill="none" stroke="#e92f2c" stroke-width="2.1" stroke-linecap="round"/>
<polyline points="405,359.9 405.2,361.3 405.4,362.5" fill="none" stroke="#e72826" stroke-width="2.1" stroke-linecap="round"/>
<polyline points="405.4,362.5 405.6,363.7 405.8,364.8" fill="none" stroke="#e51f1e" stroke-width="2.1" stroke-linecap="round"/>
<polyline points="407.9,368 408,367.2 408.1,366.2" fill="none" stroke="#e52120" stroke-width="2.1" stroke-linecap="round"/>
<polyline points="408.1,366.2 408.3,365.2 408.4,364.1" fill="none" stroke="#e9322f" stroke-width="2.1" stroke-linecap="round"/>
<polyline points="408.4,364.1 408.6,363 408.8,361.8" fill="none" stroke="#ee443e" stroke-width="2.1" stroke-linecap="round"/>
<polyline points="408.8,361.8 409,360.5 409.2,359.1" fill="none" stroke="#f2564e" stroke-width="2.1" stroke-linecap="round"/>
<polyline points="409.2,359.1 409.5,357.7 409.8,356.3" fill="none" stroke="#f56358" stroke-width="2.1" stroke-linecap="round"/>
<polyline points="409.8,356.3 410,354.8 410.3,353.2" fill="none" stroke="#f6645a" stroke-width="2.1" stroke-linecap="round"/>
<polyline points="410.3,353.2 410.7,351.7 411,350" fill="none" stroke="#f6665b" stroke-width="2.1" stroke-linecap="round"/>
<polyline points="411,350 411.4,348.4 411.7,346.7" fill="none" stroke="#f6675c" stroke-width="2.1" stroke-linecap="round"/>
<polyline points="411.7,346.7 412.2,345 412.6,343.3" fill="none" stroke="#f6685c" stroke-width="2.1" stroke-linecap="round"/>
<polyline points="412.6,343.3 413,341.6 413.5,339.9" fill="none" stroke="#f6685d" stroke-width="2.1" stroke-linecap="round"/>
<polyline points="413.5,339.9 414,338.2 414.5,336.5" fill="none" stroke="#f6685d" stroke-width="2.1" stroke-linecap="round"/>
<polyline points="414.5,336.5 415.1,334.8 415.6,333.1" fill="none" stroke="#f6675c" stroke-width="2.1" stroke-linecap="round"/>
<polyline points="415.6,333.1 416.2,331.5 416.8,329.8" fill="none" stroke="#f6675c" stroke-width="2.1" stroke-linecap="round"/>
<polyline points="416.8,329.8 417.4,328.2 418.1,326.7" fill="none" stroke="#f6655b" stroke-width="2.1" stroke-linecap="round"/>
<polyline points="418.1,326.7 418.8,325.1 419.4,323.7" fill="none" stroke="#f56459" stroke-width="2.1" stroke-linecap="round"/>
<polyline points="419.4,323.7 420.2,322.2 420.9,320.8" fill="none" stroke="#f56258" stroke-width="2.1" stroke-linecap="round"/>
<polyline points="420.9,320.8 421.6,319.5 422.4,318.2" fill="none" stroke="#f46056" stroke-width="2.1" stroke-linecap="round"/>
<polyline points="422.4,318.2 423.2,317 424,315.9" fill="none" stroke="#f45d54" stroke-width="2.1" stroke-linecap="round"/>
<polyline points="424,315.9 424.8,314.8 425.7,313.8" fill="none" stroke="#f35b51" stroke-width="2.1" stroke-linecap="round"/>
<polyline points="425.7,313.8 426.6,312.9 427.4,312" fill="none" stroke="#f3584f" stroke-width="2.1" stroke-linecap="round"/>
<polyline points="427.4,312 428.3,311.3 429.3,310.6" fill="none" stroke="#f2554c" stroke-width="2.1" stroke-linecap="round"/>
<polyline points="429.3,310.6 430.2,310 431.2,309.5" fill="none" stroke="#f1524a" stroke-width="2.1" stroke-linecap="round"/>
<polyline points="431.2,309.5 432.2,309.1 433.2,308.8" fill="none" stroke="#f04e47" stroke-width="2.1" stroke-linecap="round"/>
<polyline points="433.2,308.8 434.2,308.6 435.3,308.5" fill="none" stroke="#ef4b44" stroke-width="2.1" stroke-linecap="round"/>
<polyline points="435.3,308.5 436.3,308.5 437.3,308.6" fill="none" stroke="#ef4741" stroke-width="2.1" stroke-linecap="round"/>
<polyline points="437.3,308.6 438.3,308.9 439.3,309.2" fill="none" stroke="#ee443e" stroke-width="2.1" stroke-linecap="round"/>
<polyline points="439.3,309.2 440.3,309.6 441.3,310.2" fill="none" stroke="#ed413b" stroke-width="2.1" stroke-linecap="round"/>
<polyline points="441.3,310.2 442.2,310.8 443.2,311.5" fill="none" stroke="#ec3d38" stroke-width="2.1" stroke-linecap="round"/>
<polyline points="443.2,311.5 444.1,312.3 442.7,315.3" fill="none" stroke="#eb3a36" stroke-width="2.1" stroke-linecap="round"/>
<polyline points="442.7,315.3 443.5,316.1 444.2,317" fill="none" stroke="#eb3733" stroke-width="2.1" stroke-linecap="round"/>
<polyline points="444.2,317 445,318 445.7,319.1" fill="none" stroke="#ea3531" stroke-width="2.1" stroke-linecap="round"/>
<polyline points="445.7,319.1 446.4,320.3 447.2,321.5" fill="none" stroke="#e9322e" stroke-width="2.1" stroke-linecap="round"/>
<polyline points="447.2,321.5 447.9,322.7 448.5,324.1" fill="none" stroke="#e9302d" stroke-width="2.1" stroke-linecap="round"/>
<polyline points="448.5,324.1 449.2,325.5 449.9,326.9" fill="none" stroke="#e82e2b" stroke-width="2.1" stroke-linecap="round"/>
<polyline points="449.9,326.9 450.5,328.4 451.1,329.9" fill="none" stroke="#e82c2a" stroke-width="2.1" stroke-linecap="round"/>
<polyline points="451.1,329.9 451.7,331.5 452.3,333.1" fill="none" stroke="#e82b28" stroke-width="2.1" stroke-linecap="round"/>
<polyline points="452.3,333.1 452.9,334.7 453.4,336.3" fill="none" stroke="#e72a28" stroke-width="2.1" stroke-linecap="round"/>
<polyline points="453.4,336.3 453.9,338" fill="none" stroke="#e72927" stroke-width="2.1" stroke-linecap="round"/>
<polygon points="345.3,333 329.3,357.5 366.4,353.3" fill="url(#cr1)"/>
<polyline points="536.5,331 536.9,331 537.3,330.9 537.6,330.8 538,330.6 538.4,330.3 538.8,330 539.2,329.7 539.6,329.3 540,328.9 540.4,328.4 540.9,327.8 541.3,327.3 541.7,326.6 542.2,326 542.6,325.3 543.1,324.5 543.5,323.7 544,322.9 544.5,322 545,321.1 545.6,320.2 546.1,319.2 546.6,318.2 547.2,317.2 547.8,316.2 548.3,315.2 548.9,314.1 549.5,313 550.2,311.9 550.8,310.8 551.5,309.7 552.1,308.6 552.8,307.4 553.5,306.3 554.2,305.2 555,304.1 555.7,303 556.5,301.9 557.2,300.8 558,299.7 558.8,298.7 559.6,297.6 560.5,296.6 561.3,295.6 562.2,294.6 563,293.7 563.9,292.8 564.8,291.9 565.7,291.1 566.6,290.3 567.5,289.5 568.5,288.8 569.4,288.1 570.4,287.5 571.3,286.9 572.3,286.3 573.3,285.8 574.3,285.4 575.2,285 576.2,284.6 577.2,284.3 578.2,284.1 579.2,283.9 580.2,283.7 581.2,283.6 582.2,283.6 583.3,283.6 584.3,283.7 585.3,283.8 586.3,284 587.3,284.2 588.3,284.5 589.3,284.8 590.2,285.2 591.2,285.6 592.2,286.1 593.2,286.6 594.1,287.2 595.1,287.8 596,288.5 597,289.2 597.9,289.9 598.8,290.7 599.7,291.5 600.6,292.4 601.5,293.3 602.4,294.2 603.3,295.1 604.1,296.1 604.9,297.1 605.8,298.1 606.6,299.2 607.4,300.2 608.1,301.3 608.9,302.4 609.7,303.5 610.4,304.6 611.1,305.8 611.8,306.9 612.5,308 613.2,309.1 613.9,310.2 614.5,311.4 615.1,312.5 615.8,313.5 616.4,314.6 617,315.7 617.5,316.7 618.1,317.7 618.6,318.7 619.2,319.7 619.7,320.7 620.2,321.6 620.7,322.4 621.2,323.3 621.7,324.1 622.2,324.9 622.6,325.6 623.1,326.3 623.5,327 623.9,327.6 624.4,328.1 624.8,328.6 625.2,329.1 625.6,329.5 626,329.9 626.4,330.2 626.8,330.5 627.2,330.7 627.5,330.8 627.9,330.9 628.3,331 628.7,331 629.1,330.9 629.5,330.8 629.8,330.7 630.2,330.5 630.6,330.2 631,329.9 631.4,329.5 631.8,329.1 632.2,328.6 632.6,328.1 633.1,327.6 633.5,327 633.9,326.3 634.4,325.6 634.8,324.9 635.3,324.1 635.8,323.3 636.3,322.5 636.8,321.6 637.3,320.7 637.8,319.7 638.4,318.7 638.9,317.7 639.5,316.7 640,315.7 640.6,314.6 641.2,313.6 641.9,312.5 642.5,311.4 643.1,310.2 643.8,309.1 644.5,308 645.2,306.9 645.9,305.8 646.6,304.6 647.3,303.5 648.1,302.4 648.9,301.3 649.6,300.2 650.4,299.2 651.2,298.1 652.1,297.1 652.9,296.1 653.7,295.1 654.6,294.2 655.5,293.3 656.4,292.4 657.3,291.5 658.2,290.7 659.1,289.9 660,289.2 661,288.5 661.9,287.8 662.9,287.2 663.8,286.6 664.8,286.1 665.8,285.6 666.7,285.2 667.7,284.8 668.7,284.5 669.7,284.2 670.7,284 671.7,283.8 672.7,283.7 673.7,283.6 674.7,283.6 675.8,283.6 676.8,283.7 677.8,283.9 678.8,284.1 679.8,284.3 680.8,284.6 681.8,285 682.7,285.4 683.7,285.8 684.7,286.3 685.7,286.9 686.6,287.5 687.6,288.1 688.5,288.8 689.4,289.5 690.4,290.3 691.3,291.1 692.2,291.9 693.1,292.8 694,293.7 694.8,294.6 695.7,295.6 696.5,296.6 697.3,297.6 698.2,298.6 699,299.7 699.8,300.8 700.5,301.9 701.3,303 702,304.1 702.8,305.2 703.5,306.3 704.2,307.4 704.9,308.6 705.5,309.7 706.2,310.8 706.8,311.9 707.5,313 708.1,314.1 708.7,315.2" fill="none" stroke="#5a0808" stroke-width="8.6" stroke-linecap="butt" stroke-linejoin="round"/>
<polyline points="536.4,329.9 536.7,329.9 537,329.8" fill="none" stroke="#770b0b" stroke-width="5.3" stroke-linecap="round" stroke-linejoin="round"/>
<polyline points="537,329.8 537.2,329.7 537.5,329.6" fill="none" stroke="#810d0d" stroke-width="5.3" stroke-linecap="round" stroke-linejoin="round"/>
<polyline points="537.5,329.6 537.8,329.4 538.1,329.2" fill="none" stroke="#8b0e0e" stroke-width="5.3" stroke-linecap="round" stroke-linejoin="round"/>
<polyline points="538.1,329.2 538.5,328.9 538.8,328.5" fill="none" stroke="#950f0f" stroke-width="5.3" stroke-linecap="round" stroke-linejoin="round"/>
<polyline points="538.8,328.5 539.2,328.1 539.6,327.7" fill="none" stroke="#a01111" stroke-width="5.3" stroke-linecap="round" stroke-linejoin="round"/>
<polyline points="539.6,327.7 540,327.2 540.4,326.6" fill="none" stroke="#ab1212" stroke-width="5.3" stroke-linecap="round" stroke-linejoin="round"/>
<polyline points="540.4,326.6 540.8,326 541.2,325.4" fill="none" stroke="#b61414" stroke-width="5.3" stroke-linecap="round" stroke-linejoin="round"/>
<polyline points="541.2,325.4 541.7,324.7 542.1,323.9" fill="none" stroke="#c11515" stroke-width="5.3" stroke-linecap="round" stroke-linejoin="round"/>
<polyline points="542.1,323.9 542.6,323.1 543.1,322.3" fill="none" stroke="#cd1717" stroke-width="5.3" stroke-linecap="round" stroke-linejoin="round"/>
<polyline points="543.1,322.3 543.6,321.5 544.1,320.6" fill="none" stroke="#d91818" stroke-width="5.3" stroke-linecap="round" stroke-linejoin="round"/>
<polyline points="544.1,320.6 544.6,319.6 545.1,318.7" fill="none" stroke="#e01919" stroke-width="5.3" stroke-linecap="round" stroke-linejoin="round"/>
<polyline points="545.1,318.7 545.6,317.7 546.2,316.7" fill="none" stroke="#e11919" stroke-width="5.3" stroke-linecap="round" stroke-linejoin="round"/>
<polyline points="546.2,316.7 546.8,315.7 547.4,314.6" fill="none" stroke="#e21919" stroke-width="5.3" stroke-linecap="round" stroke-linejoin="round"/>
<polyline points="547.4,314.6 548,313.5 548.6,312.5" fill="none" stroke="#e31919" stroke-width="5.3" stroke-linecap="round" stroke-linejoin="round"/>
<polyline points="548.6,312.5 549.2,311.3 549.8,310.2" fill="none" stroke="#e31919" stroke-width="5.3" stroke-linecap="round" stroke-linejoin="round"/>
<polyline points="549.8,310.2 550.5,309.1 551.2,308" fill="none" stroke="#e31919" stroke-width="5.3" stroke-linecap="round" stroke-linejoin="round"/>
<polyline points="551.2,308 551.9,306.9 552.6,305.7" fill="none" stroke="#e31919" stroke-width="5.3" stroke-linecap="round" stroke-linejoin="round"/>
<polyline points="552.6,305.7 553.3,304.6 554,303.5" fill="none" stroke="#e31919" stroke-width="5.3" stroke-linecap="round" stroke-linejoin="round"/>
<polyline points="554,303.5 554.8,302.3 555.6,301.2" fill="none" stroke="#e31919" stroke-width="5.3" stroke-linecap="round" stroke-linejoin="round"/>
<polyline points="555.6,301.2 556.3,300.1 557.1,299" fill="none" stroke="#e31919" stroke-width="5.3" stroke-linecap="round" stroke-linejoin="round"/>
<polyline points="557.1,299 557.9,298 558.8,296.9" fill="none" stroke="#e21919" stroke-width="5.3" stroke-linecap="round" stroke-linejoin="round"/>
<polyline points="558.8,296.9 559.6,295.9 560.5,294.9" fill="none" stroke="#e11919" stroke-width="5.3" stroke-linecap="round" stroke-linejoin="round"/>
<polyline points="560.5,294.9 561.3,293.9 562.2,292.9" fill="none" stroke="#e01919" stroke-width="5.3" stroke-linecap="round" stroke-linejoin="round"/>
<polyline points="562.2,292.9 563.1,292 564,291.1" fill="none" stroke="#df1919" stroke-width="5.3" stroke-linecap="round" stroke-linejoin="round"/>
<polyline points="564,291.1 565,290.3 565.9,289.4" fill="none" stroke="#dd1919" stroke-width="5.3" stroke-linecap="round" stroke-linejoin="round"/>
<polyline points="565.9,289.4 566.9,288.7 567.8,287.9" fill="none" stroke="#dc1818" stroke-width="5.3" stroke-linecap="round" stroke-linejoin="round"/>
<polyline points="567.8,287.9 568.8,287.2 569.8,286.5" fill="none" stroke="#da1818" stroke-width="5.3" stroke-linecap="round" stroke-linejoin="round"/>
<polyline points="569.8,286.5 570.8,285.9 571.8,285.4" fill="none" stroke="#d81818" stroke-width="5.3" stroke-linecap="round" stroke-linejoin="round"/>
<polyline points="571.8,285.4 572.8,284.8 573.8,284.4" fill="none" stroke="#d61818" stroke-width="5.3" stroke-linecap="round" stroke-linejoin="round"/>
<polyline points="573.8,284.4 574.8,283.9 575.9,283.6" fill="none" stroke="#d41717" stroke-width="5.3" stroke-linecap="round" stroke-linejoin="round"/>
<polyline points="575.9,283.6 576.9,283.3 578,283" fill="none" stroke="#d21717" stroke-width="5.3" stroke-linecap="round" stroke-linejoin="round"/>
<polyline points="578,283 579,282.8 580.1,282.6" fill="none" stroke="#d01717" stroke-width="5.3" stroke-linecap="round" stroke-linejoin="round"/>
<polyline points="580.1,282.6 581.2,282.5 582.2,282.5" fill="none" stroke="#cd1717" stroke-width="5.3" stroke-linecap="round" stroke-linejoin="round"/>
<polyline points="582.2,282.5 583.3,282.5 584.4,282.6" fill="none" stroke="#cb1616" stroke-width="5.3" stroke-linecap="round" stroke-linejoin="round"/>
<polyline points="584.4,282.6 585.4,282.7 586.5,282.9" fill="none" stroke="#c91616" stroke-width="5.3" stroke-linecap="round" stroke-linejoin="round"/>
<polyline points="586.5,282.9 587.5,283.1 588.6,283.4" fill="none" stroke="#c71616" stroke-width="5.3" stroke-linecap="round" stroke-linejoin="round"/>
<polyline points="588.6,283.4 589.6,283.8 590.7,284.1" fill="none" stroke="#c51515" stroke-width="5.3" stroke-linecap="round" stroke-linejoin="round"/>
<polyline points="590.7,284.1 591.7,284.6 592.7,285.1" fill="none" stroke="#c31515" stroke-width="5.3" stroke-linecap="round" stroke-linejoin="round"/>
<polyline points="592.7,285.1 593.7,285.6 594.7,286.2" fill="none" stroke="#c11515" stroke-width="5.3" stroke-linecap="round" stroke-linejoin="round"/>
<polyline points="594.7,286.2 595.7,286.9 596.7,287.6" fill="none" stroke="#bf1515" stroke-width="5.3" stroke-linecap="round" stroke-linejoin="round"/>
<polyline points="596.7,287.6 597.7,288.3 598.6,289" fill="none" stroke="#bd1414" stroke-width="5.3" stroke-linecap="round" stroke-linejoin="round"/>
<polyline points="598.6,289 599.6,289.8 600.5,290.7" fill="none" stroke="#bb1414" stroke-width="5.3" stroke-linecap="round" stroke-linejoin="round"/>
<polyline points="600.5,290.7 601.4,291.6 600.7,294" fill="none" stroke="#ba1414" stroke-width="5.3" stroke-linecap="round" stroke-linejoin="round"/>
<polyline points="600.7,294 601.6,294.9 602.4,295.9" fill="none" stroke="#b91414" stroke-width="5.3" stroke-linecap="round" stroke-linejoin="round"/>
<polyline points="602.4,295.9 603.3,296.8 604.1,297.8" fill="none" stroke="#b71414" stroke-width="5.3" stroke-linecap="round" stroke-linejoin="round"/>
<polyline points="604.1,297.8 604.9,298.8 605.7,299.9" fill="none" stroke="#b61414" stroke-width="5.3" stroke-linecap="round" stroke-linejoin="round"/>
<polyline points="605.7,299.9 606.5,300.9 607.2,302" fill="none" stroke="#b61414" stroke-width="5.3" stroke-linecap="round" stroke-linejoin="round"/>
<polyline points="607.2,302 608,303.1 608.7,304.1" fill="none" stroke="#b51313" stroke-width="5.3" stroke-linecap="round" stroke-linejoin="round"/>
<polyline points="608.7,304.1 609.5,305.2 610.2,306.4" fill="none" stroke="#b51313" stroke-width="5.3" stroke-linecap="round" stroke-linejoin="round"/>
<polyline points="610.2,306.4 610.9,307.5 611.6,308.6" fill="none" stroke="#b51313" stroke-width="5.3" stroke-linecap="round" stroke-linejoin="round"/>
<polyline points="611.6,308.6 612.2,309.7 612.9,310.8" fill="none" stroke="#b51313" stroke-width="5.3" stroke-linecap="round" stroke-linejoin="round"/>
<polyline points="612.9,310.8 613.5,311.9 614.2,313" fill="none" stroke="#b51313" stroke-width="5.3" stroke-linecap="round" stroke-linejoin="round"/>
<polyline points="614.2,313 614.8,314.1 615.4,315.2" fill="none" stroke="#b51313" stroke-width="5.3" stroke-linecap="round" stroke-linejoin="round"/>
<polyline points="615.4,315.2 616,316.2 616.6,317.3" fill="none" stroke="#b61414" stroke-width="5.3" stroke-linecap="round" stroke-linejoin="round"/>
<polyline points="616.6,317.3 617.1,318.3 617.7,319.3" fill="none" stroke="#b71414" stroke-width="5.3" stroke-linecap="round" stroke-linejoin="round"/>
<polyline points="617.7,319.3 618.2,320.3 618.7,321.2" fill="none" stroke="#b81414" stroke-width="5.3" stroke-linecap="round" stroke-linejoin="round"/>
<polyline points="618.7,321.2 619.2,322.1 619.8,323" fill="none" stroke="#b71414" stroke-width="5.3" stroke-linecap="round" stroke-linejoin="round"/>
<polyline points="619.8,323 620.2,323.9 620.7,324.7" fill="none" stroke="#b21313" stroke-width="5.3" stroke-linecap="round" stroke-linejoin="round"/>
<polyline points="620.7,324.7 621.2,325.5 621.7,326.2" fill="none" stroke="#ac1212" stroke-width="5.3" stroke-linecap="round" stroke-linejoin="round"/>
<polyline points="621.7,326.2 622.1,326.9 622.6,327.6" fill="none" stroke="#a51111" stroke-width="5.3" stroke-linecap="round" stroke-linejoin="round"/>
<polyline points="622.6,327.6 623,328.2 623.5,328.8" fill="none" stroke="#9f1111" stroke-width="5.3" stroke-linecap="round" stroke-linejoin="round"/>
<polyline points="623.5,328.8 623.9,329.4 624.4,329.9" fill="none" stroke="#981010" stroke-width="5.3" stroke-linecap="round" stroke-linejoin="round"/>
<polyline points="624.4,329.9 626.4,328.7 626.7,329" fill="none" stroke="#910f0f" stroke-width="5.3" stroke-linecap="round" stroke-linejoin="round"/>
<polyline points="626.7,329 627,329.3 627.4,329.5" fill="none" stroke="#890e0e" stroke-width="5.3" stroke-linecap="round" stroke-linejoin="round"/>
<polyline points="627.4,329.5 627.6,329.7 627.9,329.8" fill="none" stroke="#820d0d" stroke-width="5.3" stroke-linecap="round" stroke-linejoin="round"/>
<polyline points="627.9,329.8 628.2,329.8 628.4,329.9" fill="none" stroke="#790c0c" stroke-width="5.3" stroke-linecap="round" stroke-linejoin="round"/>
<polyline points="628.4,329.9 628.6,329.9 628.8,329.8" fill="none" stroke="#750b0b" stroke-width="5.3" stroke-linecap="round" stroke-linejoin="round"/>
<polyline points="628.8,329.8 629.1,329.8 629.4,329.7" fill="none" stroke="#7e0c0c" stroke-width="5.3" stroke-linecap="round" stroke-linejoin="round"/>
<polyline points="629.4,329.7 629.6,329.5 630,329.3" fill="none" stroke="#880e0e" stroke-width="5.3" stroke-linecap="round" stroke-linejoin="round"/>
<polyline points="630,329.3 630.3,329 630.6,328.7" fill="none" stroke="#920f0f" stroke-width="5.3" stroke-linecap="round" stroke-linejoin="round"/>
<polyline points="630.6,328.7 631,328.3 631.4,327.9" fill="none" stroke="#9d1010" stroke-width="5.3" stroke-linecap="round" stroke-linejoin="round"/>
<polyline points="631.4,327.9 631.8,327.4 632.2,326.9" fill="none" stroke="#a81212" stroke-width="5.3" stroke-linecap="round" stroke-linejoin="round"/>
<polyline points="632.2,326.9 632.6,326.3 633,325.7" fill="none" stroke="#b31313" stroke-width="5.3" stroke-linecap="round" stroke-linejoin="round"/>
<polyline points="633,325.7 633.4,325 633.9,324.3" fill="none" stroke="#be1515" stroke-width="5.3" stroke-linecap="round" stroke-linejoin="round"/>
<polyline points="633.9,324.3 634.3,323.5 634.8,322.7" fill="none" stroke="#ca1616" stroke-width="5.3" stroke-linecap="round" stroke-linejoin="round"/>
<polyline points="634.8,322.7 635.3,321.9 635.8,321" fill="none" stroke="#d61818" stroke-width="5.3" stroke-linecap="round" stroke-linejoin="round"/>
<polyline points="635.8,321 636.3,320.1 636.8,319.2" fill="none" stroke="#df1919" stroke-width="5.3" stroke-linecap="round" stroke-linejoin="round"/>
<polyline points="636.8,319.2 637.4,318.2 637.9,317.2" fill="none" stroke="#e11919" stroke-width="5.3" stroke-linecap="round" stroke-linejoin="round"/>
<polyline points="637.9,317.2 638.5,316.2 639.1,315.1" fill="none" stroke="#e21919" stroke-width="5.3" stroke-linecap="round" stroke-linejoin="round"/>
<polyline points="639.1,315.1 639.7,314.1 640.3,313" fill="none" stroke="#e21919" stroke-width="5.3" stroke-linecap="round" stroke-linejoin="round"/>
<polyline points="640.3,313 640.9,311.9 641.5,310.8" fill="none" stroke="#e31919" stroke-width="5.3" stroke-linecap="round" stroke-linejoin="round"/>
<polyline points="641.5,310.8 642.2,309.7 642.8,308.6" fill="none" stroke="#e31919" stroke-width="5.3" stroke-linecap="round" stroke-linejoin="round"/>
<polyline points="642.8,308.6 643.5,307.4 644.2,306.3" fill="none" stroke="#e31919" stroke-width="5.3" stroke-linecap="round" stroke-linejoin="round"/>
<polyline points="644.2,306.3 644.9,305.2 645.7,304" fill="none" stroke="#e31919" stroke-width="5.3" stroke-linecap="round" stroke-linejoin="round"/>
<polyline points="645.7,304 646.4,302.9 647.2,301.8" fill="none" stroke="#e31919" stroke-width="5.3" stroke-linecap="round" stroke-linejoin="round"/>
<polyline points="647.2,301.8 647.9,300.7 648.7,299.6" fill="none" stroke="#e31919" stroke-width="5.3" stroke-linecap="round" stroke-linejoin="round"/>
<polyline points="648.7,299.6 649.5,298.5 650.4,297.4" fill="none" stroke="#e21919" stroke-width="5.3" stroke-linecap="round" stroke-linejoin="round"/>
<polyline points="650.4,297.4 651.2,296.4 652,295.4" fill="none" stroke="#e11919" stroke-width="5.3" stroke-linecap="round" stroke-linejoin="round"/>
<polyline points="652,295.4 652.9,294.4 653.8,293.4" fill="none" stroke="#e01919" stroke-width="5.3" stroke-linecap="round" stroke-linejoin="round"/>
<polyline points="653.8,293.4 654.7,292.5 655.6,291.6" fill="none" stroke="#df1919" stroke-width="5.3" stroke-linecap="round" stroke-linejoin="round"/>
<polyline points="655.6,291.6 656.5,290.7 657.4,289.9" fill="none" stroke="#de1919" stroke-width="5.3" stroke-linecap="round" stroke-linejoin="round"/>
<polyline points="657.4,289.9 658.4,289 659.3,288.3" fill="none" stroke="#dc1919" stroke-width="5.3" stroke-linecap="round" stroke-linejoin="round"/>
<polyline points="659.3,288.3 660.3,287.6 661.3,286.9" fill="none" stroke="#da1818" stroke-width="5.3" stroke-linecap="round" stroke-linejoin="round"/>
<polyline points="661.3,286.9 662.3,286.2 663.3,285.6" fill="none" stroke="#d81818" stroke-width="5.3" stroke-linecap="round" stroke-linejoin="round"/>
<polyline points="663.3,285.6 664.3,285.1 665.3,284.6" fill="none" stroke="#d71818" stroke-width="5.3" stroke-linecap="round" stroke-linejoin="round"/>
<polyline points="665.3,284.6 666.3,284.1 667.4,283.8" fill="none" stroke="#d41818" stroke-width="5.3" stroke-linecap="round" stroke-linejoin="round"/>
<polyline points="667.4,283.8 668.4,283.4 669.5,283.1" fill="none" stroke="#d21717" stroke-width="5.3" stroke-linecap="round" stroke-linejoin="round"/>
<polyline points="669.5,283.1 670.5,282.9 671.6,282.7" fill="none" stroke="#d01717" stroke-width="5.3" stroke-linecap="round" stroke-linejoin="round"/>
<polyline points="671.6,282.7 672.6,282.6 673.7,282.5" fill="none" stroke="#ce1717" stroke-width="5.3" stroke-linecap="round" stroke-linejoin="round"/>
<polyline points="673.7,282.5 674.8,282.5 675.8,282.5" fill="none" stroke="#cc1616" stroke-width="5.3" stroke-linecap="round" stroke-linejoin="round"/>
<polyline points="675.8,282.5 676.9,282.6 678,282.8" fill="none" stroke="#ca1616" stroke-width="5.3" stroke-linecap="round" stroke-linejoin="round"/>
<polyline points="678,282.8 679,283 680.1,283.3" fill="none" stroke="#c71616" stroke-width="5.3" stroke-linecap="round" stroke-linejoin="round"/>
<polyline points="680.1,283.3 681.1,283.6 682.1,283.9" fill="none" stroke="#c51616" stroke-width="5.3" stroke-linecap="round" stroke-linejoin="round"/>
<polyline points="682.1,283.9 683.2,284.4 684.2,284.8" fill="none" stroke="#c31515" stroke-width="5.3" stroke-linecap="round" stroke-linejoin="round"/>
<polyline points="684.2,284.8 685.2,285.4 686.2,285.9" fill="none" stroke="#c11515" stroke-width="5.3" stroke-linecap="round" stroke-linejoin="round"/>
<polyline points="686.2,285.9 687.2,286.5 688.2,287.2" fill="none" stroke="#bf1515" stroke-width="5.3" stroke-linecap="round" stroke-linejoin="round"/>
<polyline points="688.2,287.2 689.2,287.9 690.1,288.7" fill="none" stroke="#bd1515" stroke-width="5.3" stroke-linecap="round" stroke-linejoin="round"/>
<polyline points="690.1,288.7 691.1,289.4 692,290.3" fill="none" stroke="#bc1414" stroke-width="5.3" stroke-linecap="round" stroke-linejoin="round"/>
<polyline points="692,290.3 693,291.1 692.3,293.6" fill="none" stroke="#ba1414" stroke-width="5.3" stroke-linecap="round" stroke-linejoin="round"/>
<polyline points="692.3,293.6 693.1,294.5 694,295.4" fill="none" stroke="#b91414" stroke-width="5.3" stroke-linecap="round" stroke-linejoin="round"/>
<polyline points="694,295.4 694.8,296.3 695.7,297.3" fill="none" stroke="#b81414" stroke-width="5.3" stroke-linecap="round" stroke-linejoin="round"/>
<polyline points="695.7,297.3 696.5,298.3 697.3,299.3" fill="none" stroke="#b71414" stroke-width="5.3" stroke-linecap="round" stroke-linejoin="round"/>
<polyline points="697.3,299.3 698.1,300.4 698.8,301.4" fill="none" stroke="#b61414" stroke-width="5.3" stroke-linecap="round" stroke-linejoin="round"/>
<polyline points="698.8,301.4 699.6,302.5 700.4,303.6" fill="none" stroke="#b51313" stroke-width="5.3" stroke-linecap="round" stroke-linejoin="round"/>
<polyline points="700.4,303.6 701.1,304.7 701.8,305.8" fill="none" stroke="#b51313" stroke-width="5.3" stroke-linecap="round" stroke-linejoin="round"/>
<polyline points="701.8,305.8 702.5,306.9 703.2,308" fill="none" stroke="#b51313" stroke-width="5.3" stroke-linecap="round" stroke-linejoin="round"/>
<polyline points="703.2,308 703.9,309.1 704.6,310.2" fill="none" stroke="#b51313" stroke-width="5.3" stroke-linecap="round" stroke-linejoin="round"/>
<polyline points="704.6,310.2 705.2,311.4 705.9,312.5" fill="none" stroke="#b51313" stroke-width="5.3" stroke-linecap="round" stroke-linejoin="round"/>
<polyline points="705.9,312.5 706.5,313.5 707.1,314.6" fill="none" stroke="#b51313" stroke-width="5.3" stroke-linecap="round" stroke-linejoin="round"/>
<polyline points="707.1,314.6 707.7,315.7" fill="none" stroke="#b61414" stroke-width="5.3" stroke-linecap="round" stroke-linejoin="round"/>
<polyline points="539.4,327.5 539.8,327 540.2,326.5" fill="none" stroke="#e41c1b" stroke-width="1.9" stroke-linecap="round"/>
<polyline points="540.2,326.5 540.6,325.9 541,325.2" fill="none" stroke="#e82b28" stroke-width="1.9" stroke-linecap="round"/>
<polyline points="541,325.2 541.4,324.5 541.9,323.8" fill="none" stroke="#eb3a36" stroke-width="1.9" stroke-linecap="round"/>
<polyline points="541.9,323.8 542.4,323 542.8,322.2" fill="none" stroke="#ef4a43" stroke-width="1.9" stroke-linecap="round"/>
<polyline points="542.8,322.2 543.3,321.3 543.8,320.4" fill="none" stroke="#f35a51" stroke-width="1.9" stroke-linecap="round"/>
<polyline points="543.8,320.4 544.3,319.5 544.9,318.6" fill="none" stroke="#f56358" stroke-width="1.9" stroke-linecap="round"/>
<polyline points="544.9,318.6 545.4,317.6 546,316.6" fill="none" stroke="#f6645a" stroke-width="1.9" stroke-linecap="round"/>
<polyline points="546,316.6 546.5,315.5 547.1,314.5" fill="none" stroke="#f6665b" stroke-width="1.9" stroke-linecap="round"/>
<polyline points="547.1,314.5 547.7,313.4 548.3,312.3" fill="none" stroke="#f6675c" stroke-width="1.9" stroke-linecap="round"/>
<polyline points="548.3,312.3 549,311.2 549.6,310.1" fill="none" stroke="#f6675c" stroke-width="1.9" stroke-linecap="round"/>
<polyline points="549.6,310.1 550.3,309 551,307.9" fill="none" stroke="#f6685d" stroke-width="1.9" stroke-linecap="round"/>
<polyline points="551,307.9 551.7,306.7 552.4,305.6" fill="none" stroke="#f6685d" stroke-width="1.9" stroke-linecap="round"/>
<polyline points="552.4,305.6 553.1,304.5 553.8,303.3" fill="none" stroke="#f6685d" stroke-width="1.9" stroke-linecap="round"/>
<polyline points="553.8,303.3 554.6,302.2 555.3,301.1" fill="none" stroke="#f6675c" stroke-width="1.9" stroke-linecap="round"/>
<polyline points="555.3,301.1 556.1,300 556.9,298.9" fill="none" stroke="#f6675c" stroke-width="1.9" stroke-linecap="round"/>
<polyline points="556.9,298.9 557.7,297.8 558.6,296.8" fill="none" stroke="#f6665b" stroke-width="1.9" stroke-linecap="round"/>
<polyline points="558.6,296.8 559.4,295.7 560.3,294.7" fill="none" stroke="#f6655a" stroke-width="1.9" stroke-linecap="round"/>
<polyline points="560.3,294.7 561.2,293.7 562,292.8" fill="none" stroke="#f56359" stroke-width="1.9" stroke-linecap="round"/>
<polyline points="562,292.8 562.9,291.8 563.9,290.9" fill="none" stroke="#f56157" stroke-width="1.9" stroke-linecap="round"/>
<polyline points="563.9,290.9 564.8,290.1 565.7,289.2" fill="none" stroke="#f45f55" stroke-width="1.9" stroke-linecap="round"/>
<polyline points="565.7,289.2 566.7,288.5 567.7,287.7" fill="none" stroke="#f45d54" stroke-width="1.9" stroke-linecap="round"/>
<polyline points="567.7,287.7 568.6,287 569.6,286.3" fill="none" stroke="#f35b52" stroke-width="1.9" stroke-linecap="round"/>
<polyline points="569.6,286.3 570.6,285.7 571.6,285.1" fill="none" stroke="#f3584f" stroke-width="1.9" stroke-linecap="round"/>
<polyline points="571.6,285.1 572.7,284.6 573.7,284.1" fill="none" stroke="#f2564d" stroke-width="1.9" stroke-linecap="round"/>
<polyline points="573.7,284.1 574.8,283.7 575.8,283.3" fill="none" stroke="#f1534b" stroke-width="1.9" stroke-linecap="round"/>
<polyline points="575.8,283.3 576.9,283 577.9,282.7" fill="none" stroke="#f15048" stroke-width="1.9" stroke-linecap="round"/>
<polyline points="577.9,282.7 579,282.5 580.1,282.4" fill="none" stroke="#f04d46" stroke-width="1.9" stroke-linecap="round"/>
<polyline points="580.1,282.4 581.1,282.3 582.2,282.2" fill="none" stroke="#ef4a43" stroke-width="1.9" stroke-linecap="round"/>
<polyline points="582.2,282.2 583.3,282.2 584.4,282.3" fill="none" stroke="#ef4741" stroke-width="1.9" stroke-linecap="round"/>
<polyline points="584.4,282.3 585.5,282.4 586.5,282.6" fill="none" stroke="#ee443e" stroke-width="1.9" stroke-linecap="round"/>
<polyline points="586.5,282.6 587.6,282.9 588.7,283.2" fill="none" stroke="#ed423c" stroke-width="1.9" stroke-linecap="round"/>
<polyline points="588.7,283.2 589.7,283.5 590.8,283.9" fill="none" stroke="#ec3f39" stroke-width="1.9" stroke-linecap="round"/>
<polyline points="590.8,283.9 591.8,284.4 592.8,284.9" fill="none" stroke="#ec3c37" stroke-width="1.9" stroke-linecap="round"/>
<polyline points="592.8,284.9 593.9,285.4 594.9,286" fill="none" stroke="#eb3935" stroke-width="1.9" stroke-linecap="round"/>
<polyline points="594.9,286 595.9,286.7 596.8,287.3" fill="none" stroke="#eb3733" stroke-width="1.9" stroke-linecap="round"/>
<polyline points="596.8,287.3 597.8,288.1 598.8,288.8" fill="none" stroke="#ea3431" stroke-width="1.9" stroke-linecap="round"/>
<polyline points="598.8,288.8 599.7,289.7 600.7,290.5" fill="none" stroke="#e9322f" stroke-width="1.9" stroke-linecap="round"/>
<polyline points="600.7,290.5 601.6,291.4 600.5,294.2" fill="none" stroke="#e9302d" stroke-width="1.9" stroke-linecap="round"/>
<polyline points="600.5,294.2 601.4,295.1 602.2,296" fill="none" stroke="#e92e2b" stroke-width="1.9" stroke-linecap="round"/>
<polyline points="602.2,296 603.1,297 603.9,298" fill="none" stroke="#e82d2a" stroke-width="1.9" stroke-linecap="round"/>
<polyline points="603.9,298 604.7,299 605.5,300" fill="none" stroke="#e82c29" stroke-width="1.9" stroke-linecap="round"/>
<polyline points="605.5,300 606.3,301.1 607,302.1" fill="none" stroke="#e82b28" stroke-width="1.9" stroke-linecap="round"/>
<polyline points="607,302.1 607.8,303.2 608.5,304.3" fill="none" stroke="#e72a28" stroke-width="1.9" stroke-linecap="round"/>
<polyline points="608.5,304.3 609.2,305.4 610,306.5" fill="none" stroke="#e72927" stroke-width="1.9" stroke-linecap="round"/>
<polyline points="610,306.5 610.7,307.6 611.3,308.7" fill="none" stroke="#e72927" stroke-width="1.9" stroke-linecap="round"/>
<polyline points="611.3,308.7 612,309.8 612.7,310.9" fill="none" stroke="#e72927" stroke-width="1.9" stroke-linecap="round"/>
<polyline points="612.7,310.9 613.3,312 613.9,313.1" fill="none" stroke="#e72a27" stroke-width="1.9" stroke-linecap="round"/>
<polyline points="613.9,313.1 614.6,314.2 615.2,315.3" fill="none" stroke="#e82a28" stroke-width="1.9" stroke-linecap="round"/>
<polyline points="615.2,315.3 615.8,316.3 616.3,317.4" fill="none" stroke="#e82b29" stroke-width="1.9" stroke-linecap="round"/>
<polyline points="616.3,317.4 616.9,318.4 617.4,319.4" fill="none" stroke="#e82c2a" stroke-width="1.9" stroke-linecap="round"/>
<polyline points="617.4,319.4 618,320.4 618.5,321.3" fill="none" stroke="#e82e2b" stroke-width="1.9" stroke-linecap="round"/>
<polyline points="618.5,321.3 619,322.2 619.5,323.1" fill="none" stroke="#e82d2a" stroke-width="1.9" stroke-linecap="round"/>
<polyline points="619.5,323.1 620,324 620.5,324.8" fill="none" stroke="#e62523" stroke-width="1.9" stroke-linecap="round"/>
<polyline points="620.5,324.8 621,325.6 621.5,326.4" fill="none" stroke="#e41d1d" stroke-width="1.9" stroke-linecap="round"/>
<polyline points="632,326.8 632.4,326.2 632.8,325.6" fill="none" stroke="#e72725" stroke-width="1.9" stroke-linecap="round"/>
<polyline points="632.8,325.6 633.2,324.9 633.7,324.2" fill="none" stroke="#ea3632" stroke-width="1.9" stroke-linecap="round"/>
<polyline points="633.7,324.2 634.1,323.4 634.6,322.6" fill="none" stroke="#ee4640" stroke-width="1.9" stroke-linecap="round"/>
<polyline points="634.6,322.6 635.1,321.8 635.6,320.9" fill="none" stroke="#f2564d" stroke-width="1.9" stroke-linecap="round"/>
<polyline points="635.6,320.9 636.1,320 636.6,319" fill="none" stroke="#f56258" stroke-width="1.9" stroke-linecap="round"/>
<polyline points="636.6,319 637.1,318.1 637.7,317.1" fill="none" stroke="#f56459" stroke-width="1.9" stroke-linecap="round"/>
<polyline points="637.7,317.1 638.3,316.1 638.8,315" fill="none" stroke="#f6655a" stroke-width="1.9" stroke-linecap="round"/>
<polyline points="638.8,315 639.4,314 640,312.9" fill="none" stroke="#f6665b" stroke-width="1.9" stroke-linecap="round"/>
<polyline points="640,312.9 640.7,311.8 641.3,310.7" fill="none" stroke="#f6675c" stroke-width="1.9" stroke-linecap="round"/>
<polyline points="641.3,310.7 642,309.5 642.6,308.4" fill="none" stroke="#f6685c" stroke-width="1.9" stroke-linecap="round"/>
<polyline points="642.6,308.4 643.3,307.3 644,306.2" fill="none" stroke="#f6685d" stroke-width="1.9" stroke-linecap="round"/>
<polyline points="644,306.2 644.7,305 645.4,303.9" fill="none" stroke="#f6685d" stroke-width="1.9" stroke-linecap="round"/>
<polyline points="645.4,303.9 646.2,302.8 647,301.6" fill="none" stroke="#f6685c" stroke-width="1.9" stroke-linecap="round"/>
<polyline points="647,301.6 647.7,300.5 648.5,299.4" fill="none" stroke="#f6675c" stroke-width="1.9" stroke-linecap="round"/>
<polyline points="648.5,299.4 649.3,298.4 650.2,297.3" fill="none" stroke="#f6665b" stroke-width="1.9" stroke-linecap="round"/>
<polyline points="650.2,297.3 651,296.2 651.8,295.2" fill="none" stroke="#f6655a" stroke-width="1.9" stroke-linecap="round"/>
<polyline points="651.8,295.2 652.7,294.2 653.6,293.2" fill="none" stroke="#f56359" stroke-width="1.9" stroke-linecap="round"/>
<polyline points="653.6,293.2 654.5,292.3 655.4,291.4" fill="none" stroke="#f56257" stroke-width="1.9" stroke-linecap="round"/>
<polyline points="655.4,291.4 656.3,290.5 657.3,289.7" fill="none" stroke="#f46056" stroke-width="1.9" stroke-linecap="round"/>
<polyline points="657.3,289.7 658.2,288.9 659.2,288.1" fill="none" stroke="#f45e54" stroke-width="1.9" stroke-linecap="round"/>
<polyline points="659.2,288.1 660.1,287.3 661.1,286.7" fill="none" stroke="#f35c52" stroke-width="1.9" stroke-linecap="round"/>
<polyline points="661.1,286.7 662.1,286 663.1,285.4" fill="none" stroke="#f35950" stroke-width="1.9" stroke-linecap="round"/>
<polyline points="663.1,285.4 664.2,284.9 665.2,284.4" fill="none" stroke="#f2574e" stroke-width="1.9" stroke-linecap="round"/>
<polyline points="665.2,284.4 666.2,283.9 667.3,283.5" fill="none" stroke="#f2544b" stroke-width="1.9" stroke-linecap="round"/>
<polyline points="667.3,283.5 668.3,283.2 669.4,282.9" fill="none" stroke="#f15149" stroke-width="1.9" stroke-linecap="round"/>
<polyline points="669.4,282.9 670.5,282.6 671.5,282.4" fill="none" stroke="#f04e47" stroke-width="1.9" stroke-linecap="round"/>
<polyline points="671.5,282.4 672.6,282.3 673.7,282.2" fill="none" stroke="#ef4b44" stroke-width="1.9" stroke-linecap="round"/>
<polyline points="673.7,282.2 674.8,282.2 675.8,282.3" fill="none" stroke="#ef4842" stroke-width="1.9" stroke-linecap="round"/>
<polyline points="675.8,282.3 676.9,282.4 678,282.5" fill="none" stroke="#ee453f" stroke-width="1.9" stroke-linecap="round"/>
<polyline points="678,282.5 679.1,282.7 680.1,283" fill="none" stroke="#ed423c" stroke-width="1.9" stroke-linecap="round"/>
<polyline points="680.1,283 681.2,283.3 682.2,283.7" fill="none" stroke="#ed3f3a" stroke-width="1.9" stroke-linecap="round"/>
<polyline points="682.2,283.7 683.3,284.1 684.3,284.6" fill="none" stroke="#ec3d38" stroke-width="1.9" stroke-linecap="round"/>
<polyline points="684.3,284.6 685.3,285.1 686.4,285.7" fill="none" stroke="#eb3a35" stroke-width="1.9" stroke-linecap="round"/>
<polyline points="686.4,285.7 687.4,286.3 688.4,287" fill="none" stroke="#eb3733" stroke-width="1.9" stroke-linecap="round"/>
<polyline points="688.4,287 689.3,287.7 690.3,288.5" fill="none" stroke="#ea3531" stroke-width="1.9" stroke-linecap="round"/>
<polyline points="690.3,288.5 691.3,289.2 692.2,290.1" fill="none" stroke="#ea332f" stroke-width="1.9" stroke-linecap="round"/>
<polyline points="692.2,290.1 693.1,290.9 692.1,293.8" fill="none" stroke="#e9312d" stroke-width="1.9" stroke-linecap="round"/>
<polyline points="692.1,293.8 693,294.7 693.8,295.6" fill="none" stroke="#e92f2c" stroke-width="1.9" stroke-linecap="round"/>
<polyline points="693.8,295.6 694.6,296.5 695.5,297.5" fill="none" stroke="#e82d2a" stroke-width="1.9" stroke-linecap="round"/>
<polyline points="695.5,297.5 696.3,298.5 697.1,299.5" fill="none" stroke="#e82c29" stroke-width="1.9" stroke-linecap="round"/>
<polyline points="697.1,299.5 697.9,300.5 698.6,301.6" fill="none" stroke="#e82b28" stroke-width="1.9" stroke-linecap="round"/>
<polyline points="698.6,301.6 699.4,302.7 700.1,303.7" fill="none" stroke="#e72a28" stroke-width="1.9" stroke-linecap="round"/>
<polyline points="700.1,303.7 700.9,304.8 701.6,305.9" fill="none" stroke="#e72927" stroke-width="1.9" stroke-linecap="round"/>
<polyline points="701.6,305.9 702.3,307 703,308.2" fill="none" stroke="#e72927" stroke-width="1.9" stroke-linecap="round"/>
<polyline points="703,308.2 703.7,309.3 704.3,310.4" fill="none" stroke="#e72927" stroke-width="1.9" stroke-linecap="round"/>
<polyline points="704.3,310.4 705,311.5 705.6,312.6" fill="none" stroke="#e72a27" stroke-width="1.9" stroke-linecap="round"/>
<polyline points="705.6,312.6 706.3,313.7 706.9,314.8" fill="none" stroke="#e82a28" stroke-width="1.9" stroke-linecap="round"/>
<polyline points="706.9,314.8 707.5,315.8" fill="none" stroke="#e82b28" stroke-width="1.9" stroke-linecap="round"/>
<line x1="536" y1="331" x2="530" y2="322" stroke="#5a0808" stroke-width="8"/>
<polygon points="517.4,299.9 511.1,327.6 542.8,315" fill="url(#cr1)"/>
<polygon points="452.8,84.3 455.4,84.3 455.4,106.3 452.8,106.3" fill="#b39522"/>
<polygon points="449.6,84.3 452.8,84.3 452.8,106.3 449.6,106.3" fill="#f2d42a"/>
<polygon points="449.6,84.3 455.4,84.3 455.4,86.1 449.6,86.1" fill="#3a3008"/>
<polygon points="457.4,107.3 459.3,109.1 465.7,102.3 463.8,100.5" fill="#b39522"/>
<polygon points="455.1,105.1 457.4,107.3 463.8,100.5 461.5,98.3" fill="#f2d42a"/>
<polygon points="455.1,105.1 459.3,109.1 460.9,107.3 456.7,103.4" fill="#2e2606"/>
<polygon points="466.8,101.9 469.4,101.5 472.8,123.3 470.2,123.7" fill="#b39522"/>
<polygon points="463.6,102.4 466.8,101.9 470.2,123.7 467,124.2" fill="#f2d42a"/>
<polygon points="467,124.2 472.8,123.3 472.4,121.1 466.7,122" fill="#2e2606"/>
<polygon points="475.8,112.7 478.4,112.7 478.6,132.7 476,132.7" fill="#b39522"/>
<polygon points="472.6,112.7 475.8,112.7 476,132.7 472.8,132.7" fill="#f2d42a"/>
<polygon points="472.6,112.7 478.4,112.7 478.4,114.5 472.6,114.5" fill="#3a3008"/>
<polygon points="481.8,125.3 484.2,124.4 489.2,137.8 486.8,138.7" fill="#b39522"/>
<polygon points="478.8,126.4 481.8,125.3 486.8,138.7 483.8,139.8" fill="#f2d42a"/>
<polygon points="478.8,126.4 484.2,124.4 484.9,126.1 479.4,128.1" fill="#3a3008"/>
<polygon points="491.4,130.3 494,130.3 494.2,152.3 491.6,152.3" fill="#b39522"/>
<polygon points="488.2,130.3 491.4,130.3 491.6,152.3 488.4,152.3" fill="#f2d42a"/>
<polygon points="488.2,130.3 494,130.3 494,132.1 488.2,132.1" fill="#3a3008"/>
<polygon points="497.2,155.5 499.5,156.7 505.1,145.5 502.8,144.3" fill="#b39522"/>
<polygon points="494.3,154.1 497.2,155.5 502.8,144.3 499.9,142.9" fill="#f2d42a"/>
<polygon points="494.3,154.1 499.5,156.7 500.6,154.5 495.4,151.9" fill="#2e2606"/>
<polygon points="505.8,148.9 508.4,148.5 512,169.3 509.4,169.7" fill="#b39522"/>
<polygon points="502.6,149.4 505.8,148.9 509.4,169.7 506.2,170.2" fill="#f2d42a"/>
<polygon points="506.2,170.2 512,169.3 511.6,167.1 505.9,168.1" fill="#2e2606"/>
<polygon points="452.8,124 455.4,124 455.4,146 452.8,146" fill="#b39522"/>
<polygon points="449.6,124 452.8,124 452.8,146 449.6,146" fill="#f2d42a"/>
<polygon points="449.6,124 455.4,124 455.4,125.8 449.6,125.8" fill="#3a3008"/>
<polygon points="457.4,147 459.3,148.8 465.7,142 463.8,140.2" fill="#b39522"/>
<polygon points="455.1,144.8 457.4,147 463.8,140.2 461.5,138" fill="#f2d42a"/>
<polygon points="455.1,144.8 459.3,148.8 460.9,147 456.7,143.1" fill="#2e2606"/>
<polygon points="466.8,141.6 469.4,141.2 472.8,163 470.2,163.4" fill="#b39522"/>
<polygon points="463.6,142.1 466.8,141.6 470.2,163.4 467,163.9" fill="#f2d42a"/>
<polygon points="467,163.9 472.8,163 472.4,160.8 466.7,161.7" fill="#2e2606"/>
<polygon points="475.8,152.4 478.4,152.4 478.6,172.4 476,172.4" fill="#b39522"/>
<polygon points="472.6,152.4 475.8,152.4 476,172.4 472.8,172.4" fill="#f2d42a"/>
<polygon points="472.6,152.4 478.4,152.4 478.4,154.2 472.6,154.2" fill="#3a3008"/>
<polygon points="481.8,165 484.2,164.1 489.2,177.5 486.8,178.4" fill="#b39522"/>
<polygon points="478.8,166.1 481.8,165 486.8,178.4 483.8,179.5" fill="#f2d42a"/>
<polygon points="478.8,166.1 484.2,164.1 484.9,165.8 479.4,167.8" fill="#3a3008"/>
<polygon points="491.4,170 494,170 494.2,192 491.6,192" fill="#b39522"/>
<polygon points="488.2,170 491.4,170 491.6,192 488.4,192" fill="#f2d42a"/>
<polygon points="488.2,170 494,170 494,171.8 488.2,171.8" fill="#3a3008"/>
<polygon points="497.2,195.2 499.5,196.4 505.1,185.2 502.8,184" fill="#b39522"/>
<polygon points="494.3,193.8 497.2,195.2 502.8,184 499.9,182.6" fill="#f2d42a"/>
<polygon points="494.3,193.8 499.5,196.4 500.6,194.2 495.4,191.6" fill="#2e2606"/>
<polygon points="505.8,188.6 508.4,188.2 512,209 509.4,209.4" fill="#b39522"/>
<polygon points="502.6,189.1 505.8,188.6 509.4,209.4 506.2,209.9" fill="#f2d42a"/>
<polygon points="506.2,209.9 512,209 511.6,206.8 505.9,207.8" fill="#2e2606"/>
<polygon points="452.8,163.7 455.4,163.7 455.4,185.7 452.8,185.7" fill="#b39522"/>
<polygon points="449.6,163.7 452.8,163.7 452.8,185.7 449.6,185.7" fill="#f2d42a"/>
<polygon points="449.6,163.7 455.4,163.7 455.4,165.5 449.6,165.5" fill="#3a3008"/>
<polygon points="457.4,186.7 459.3,188.5 465.7,181.7 463.8,179.9" fill="#b39522"/>
<polygon points="455.1,184.5 457.4,186.7 463.8,179.9 461.5,177.7" fill="#f2d42a"/>
<polygon points="455.1,184.5 459.3,188.5 460.9,186.7 456.7,182.8" fill="#2e2606"/>
<polygon points="466.8,181.3 469.4,180.9 472.8,202.7 470.2,203.1" fill="#b39522"/>
<polygon points="463.6,181.8 466.8,181.3 470.2,203.1 467,203.6" fill="#f2d42a"/>
<polygon points="467,203.6 472.8,202.7 472.4,200.5 466.7,201.4" fill="#2e2606"/>
<polygon points="475.8,192.1 478.4,192.1 478.6,212.1 476,212.1" fill="#b39522"/>
<polygon points="472.6,192.1 475.8,192.1 476,212.1 472.8,212.1" fill="#f2d42a"/>
<polygon points="472.6,192.1 478.4,192.1 478.4,193.9 472.6,193.9" fill="#3a3008"/>
<polygon points="481.8,204.7 484.2,203.8 489.2,217.2 486.8,218.1" fill="#b39522"/>
<polygon points="478.8,205.8 481.8,204.7 486.8,218.1 483.8,219.2" fill="#f2d42a"/>
<polygon points="478.8,205.8 484.2,203.8 484.9,205.5 479.4,207.5" fill="#3a3008"/>
<polygon points="491.4,209.7 494,209.7 494.2,231.7 491.6,231.7" fill="#b39522"/>
<polygon points="488.2,209.7 491.4,209.7 491.6,231.7 488.4,231.7" fill="#f2d42a"/>
<polygon points="488.2,209.7 494,209.7 494,211.5 488.2,211.5" fill="#3a3008"/>
<polygon points="497.2,234.9 499.5,236.1 505.1,224.9 502.8,223.7" fill="#b39522"/>
<polygon points="494.3,233.5 497.2,234.9 502.8,223.7 499.9,222.3" fill="#f2d42a"/>
<polygon points="494.3,233.5 499.5,236.1 500.6,233.9 495.4,231.3" fill="#2e2606"/>
<polygon points="505.8,228.3 508.4,227.9 512,248.7 509.4,249.1" fill="#b39522"/>
<polygon points="502.6,228.8 505.8,228.3 509.4,249.1 506.2,249.6" fill="#f2d42a"/>
<polygon points="506.2,249.6 512,248.7 511.6,246.5 505.9,247.5" fill="#2e2606"/>
<polygon points="452.8,203.4 455.4,203.4 455.4,225.4 452.8,225.4" fill="#b39522"/>
<polygon points="449.6,203.4 452.8,203.4 452.8,225.4 449.6,225.4" fill="#f2d42a"/>
<polygon points="449.6,203.4 455.4,203.4 455.4,205.2 449.6,205.2" fill="#3a3008"/>
<polygon points="457.4,226.4 459.3,228.2 465.7,221.4 463.8,219.6" fill="#b39522"/>
<polygon points="455.1,224.2 457.4,226.4 463.8,219.6 461.5,217.4" fill="#f2d42a"/>
<polygon points="455.1,224.2 459.3,228.2 460.9,226.4 456.7,222.5" fill="#2e2606"/>
<polygon points="466.8,221 469.4,220.6 472.8,242.4 470.2,242.8" fill="#b39522"/>
<polygon points="463.6,221.5 466.8,221 470.2,242.8 467,243.3" fill="#f2d42a"/>
<polygon points="467,243.3 472.8,242.4 472.4,240.2 466.7,241.1" fill="#2e2606"/>
<polygon points="475.8,231.8 478.4,231.8 478.6,251.8 476,251.8" fill="#b39522"/>
<polygon points="472.6,231.8 475.8,231.8 476,251.8 472.8,251.8" fill="#f2d42a"/>
<polygon points="472.6,231.8 478.4,231.8 478.4,233.6 472.6,233.6" fill="#3a3008"/>
<polygon points="481.8,244.4 484.2,243.5 489.2,256.9 486.8,257.8" fill="#b39522"/>
<polygon points="478.8,245.5 481.8,244.4 486.8,257.8 483.8,258.9" fill="#f2d42a"/>
<polygon points="478.8,245.5 484.2,243.5 484.9,245.2 479.4,247.2" fill="#3a3008"/>
<polygon points="491.4,249.4 494,249.4 494.2,271.4 491.6,271.4" fill="#b39522"/>
<polygon points="488.2,249.4 491.4,249.4 491.6,271.4 488.4,271.4" fill="#f2d42a"/>
<polygon points="488.2,249.4 494,249.4 494,251.2 488.2,251.2" fill="#3a3008"/>
<polygon points="497.2,274.6 499.5,275.8 505.1,264.6 502.8,263.4" fill="#b39522"/>
<polygon points="494.3,273.2 497.2,274.6 502.8,263.4 499.9,262" fill="#f2d42a"/>
<polygon points="494.3,273.2 499.5,275.8 500.6,273.6 495.4,271" fill="#2e2606"/>
<polygon points="505.8,268 508.4,267.6 512,288.4 509.4,288.8" fill="#b39522"/>
<polygon points="502.6,268.5 505.8,268 509.4,288.8 506.2,289.3" fill="#f2d42a"/>
<polygon points="506.2,289.3 512,288.4 511.6,286.2 505.9,287.2" fill="#2e2606"/>
<polygon points="452.8,243.1 455.4,243.1 455.4,265.1 452.8,265.1" fill="#b39522"/>
<polygon points="449.6,243.1 452.8,243.1 452.8,265.1 449.6,265.1" fill="#f2d42a"/>
<polygon points="449.6,243.1 455.4,243.1 455.4,244.9 449.6,244.9" fill="#3a3008"/>
<polygon points="457.4,266.1 459.3,267.9 465.7,261.1 463.8,259.3" fill="#b39522"/>
<polygon points="455.1,263.9 457.4,266.1 463.8,259.3 461.5,257.1" fill="#f2d42a"/>
<polygon points="455.1,263.9 459.3,267.9 460.9,266.1 456.7,262.2" fill="#2e2606"/>
<polygon points="466.8,260.7 469.4,260.3 472.8,282.1 470.2,282.5" fill="#b39522"/>
<polygon points="463.6,261.2 466.8,260.7 470.2,282.5 467,283" fill="#f2d42a"/>
<polygon points="467,283 472.8,282.1 472.4,279.9 466.7,280.8" fill="#2e2606"/>
<polygon points="475.8,271.5 478.4,271.5 478.6,291.5 476,291.5" fill="#b39522"/>
<polygon points="472.6,271.5 475.8,271.5 476,291.5 472.8,291.5" fill="#f2d42a"/>
<polygon points="472.6,271.5 478.4,271.5 478.4,273.3 472.6,273.3" fill="#3a3008"/>
<polygon points="481.8,284.1 484.2,283.2 489.2,296.6 486.8,297.5" fill="#b39522"/>
<polygon points="478.8,285.2 481.8,284.1 486.8,297.5 483.8,298.6" fill="#f2d42a"/>
<polygon points="478.8,285.2 484.2,283.2 484.9,284.9 479.4,286.9" fill="#3a3008"/>
<polygon points="491.4,289.1 494,289.1 494.2,311.1 491.6,311.1" fill="#b39522"/>
<polygon points="488.2,289.1 491.4,289.1 491.6,311.1 488.4,311.1" fill="#f2d42a"/>
<polygon points="488.2,289.1 494,289.1 494,290.9 488.2,290.9" fill="#3a3008"/>
<polygon points="497.2,314.3 499.5,315.5 505.1,304.3 502.8,303.1" fill="#b39522"/>
<polygon points="494.3,312.9 497.2,314.3 502.8,303.1 499.9,301.7" fill="#f2d42a"/>
<polygon points="494.3,312.9 499.5,315.5 500.6,313.3 495.4,310.7" fill="#2e2606"/>
<polygon points="505.8,307.7 508.4,307.3 512,328.1 509.4,328.5" fill="#b39522"/>
<polygon points="502.6,308.2 505.8,307.7 509.4,328.5 506.2,329" fill="#f2d42a"/>
<polygon points="506.2,329 512,328.1 511.6,325.9 505.9,326.9" fill="#2e2606"/>
<polygon points="452.8,282.8 455.4,282.8 455.4,304.8 452.8,304.8" fill="#b39522"/>
<polygon points="449.6,282.8 452.8,282.8 452.8,304.8 449.6,304.8" fill="#f2d42a"/>
<polygon points="449.6,282.8 455.4,282.8 455.4,284.6 449.6,284.6" fill="#3a3008"/>
<polygon points="457.4,305.8 459.3,307.6 465.7,300.8 463.8,299" fill="#b39522"/>
<polygon points="455.1,303.6 457.4,305.8 463.8,299 461.5,296.8" fill="#f2d42a"/>
<polygon points="455.1,303.6 459.3,307.6 460.9,305.8 456.7,301.9" fill="#2e2606"/>
<polygon points="466.8,300.4 469.4,300 472.8,321.8 470.2,322.2" fill="#b39522"/>
<polygon points="463.6,300.9 466.8,300.4 470.2,322.2 467,322.7" fill="#f2d42a"/>
<polygon points="467,322.7 472.8,321.8 472.4,319.6 466.7,320.5" fill="#2e2606"/>
<polygon points="475.8,311.2 478.4,311.2 478.6,331.2 476,331.2" fill="#b39522"/>
<polygon points="472.6,311.2 475.8,311.2 476,331.2 472.8,331.2" fill="#f2d42a"/>
<polygon points="472.6,311.2 478.4,311.2 478.4,313 472.6,313" fill="#3a3008"/>
<polygon points="481.8,323.8 484.2,322.9 489.2,336.3 486.8,337.2" fill="#b39522"/>
<polygon points="478.8,324.9 481.8,323.8 486.8,337.2 483.8,338.3" fill="#f2d42a"/>
<polygon points="478.8,324.9 484.2,322.9 484.9,324.6 479.4,326.6" fill="#3a3008"/>
<polygon points="491.4,328.8 494,328.8 494.2,350.8 491.6,350.8" fill="#b39522"/>
<polygon points="488.2,328.8 491.4,328.8 491.6,350.8 488.4,350.8" fill="#f2d42a"/>
<polygon points="488.2,328.8 494,328.8 494,330.6 488.2,330.6" fill="#3a3008"/>
<polygon points="497.2,354 499.5,355.2 505.1,344 502.8,342.8" fill="#b39522"/>
<polygon points="494.3,352.6 497.2,354 502.8,342.8 499.9,341.4" fill="#f2d42a"/>
<polygon points="494.3,352.6 499.5,355.2 500.6,353 495.4,350.4" fill="#2e2606"/>
<polygon points="505.8,347.4 508.4,347 512,367.8 509.4,368.2" fill="#b39522"/>
<polygon points="502.6,347.9 505.8,347.4 509.4,368.2 506.2,368.7" fill="#f2d42a"/>
<polygon points="506.2,368.7 512,367.8 511.6,365.6 505.9,366.6" fill="#2e2606"/>
<polygon points="452.8,322.5 455.4,322.5 455.4,344.5 452.8,344.5" fill="#b39522"/>
<polygon points="449.6,322.5 452.8,322.5 452.8,344.5 449.6,344.5" fill="#f2d42a"/>
<polygon points="449.6,322.5 455.4,322.5 455.4,324.3 449.6,324.3" fill="#3a3008"/>
<polygon points="457.4,345.5 459.3,347.3 465.7,340.5 463.8,338.7" fill="#b39522"/>
<polygon points="455.1,343.3 457.4,345.5 463.8,338.7 461.5,336.5" fill="#f2d42a"/>
<polygon points="455.1,343.3 459.3,347.3 460.9,345.5 456.7,341.6" fill="#2e2606"/>
<polygon points="466.8,340.1 469.4,339.7 472.8,361.5 470.2,361.9" fill="#b39522"/>
<polygon points="463.6,340.6 466.8,340.1 470.2,361.9 467,362.4" fill="#f2d42a"/>
<polygon points="467,362.4 472.8,361.5 472.4,359.3 466.7,360.2" fill="#2e2606"/>
<polygon points="475.8,350.9 478.4,350.9 478.6,370.9 476,370.9" fill="#b39522"/>
<polygon points="472.6,350.9 475.8,350.9 476,370.9 472.8,370.9" fill="#f2d42a"/>
<polygon points="472.6,350.9 478.4,350.9 478.4,352.7 472.6,352.7" fill="#3a3008"/>
<polygon points="481.8,363.5 484.2,362.6 489.2,376 486.8,376.9" fill="#b39522"/>
<polygon points="478.8,364.6 481.8,363.5 486.8,376.9 483.8,378" fill="#f2d42a"/>
<polygon points="478.8,364.6 484.2,362.6 484.9,364.3 479.4,366.3" fill="#3a3008"/>
<polygon points="491.4,368.5 494,368.5 494.2,390.5 491.6,390.5" fill="#b39522"/>
<polygon points="488.2,368.5 491.4,368.5 491.6,390.5 488.4,390.5" fill="#f2d42a"/>
<polygon points="488.2,368.5 494,368.5 494,370.3 488.2,370.3" fill="#3a3008"/>
<polygon points="497.2,393.7 499.5,394.9 505.1,383.7 502.8,382.5" fill="#b39522"/>
<polygon points="494.3,392.3 497.2,393.7 502.8,382.5 499.9,381.1" fill="#f2d42a"/>
<polygon points="494.3,392.3 499.5,394.9 500.6,392.7 495.4,390.1" fill="#2e2606"/>
<polygon points="505.8,387.1 508.4,386.7 512,407.5 509.4,407.9" fill="#b39522"/>
<polygon points="502.6,387.6 505.8,387.1 509.4,407.9 506.2,408.4" fill="#f2d42a"/>
<polygon points="506.2,408.4 512,407.5 511.6,405.3 505.9,406.3" fill="#2e2606"/>
<polygon points="452.8,362.2 455.4,362.2 455.4,384.2 452.8,384.2" fill="#b39522"/>
<polygon points="449.6,362.2 452.8,362.2 452.8,384.2 449.6,384.2" fill="#f2d42a"/>
<polygon points="449.6,362.2 455.4,362.2 455.4,364 449.6,364" fill="#3a3008"/>
<polygon points="457.4,385.2 459.3,387 465.7,380.2 463.8,378.4" fill="#b39522"/>
<polygon points="455.1,383 457.4,385.2 463.8,378.4 461.5,376.2" fill="#f2d42a"/>
<polygon points="455.1,383 459.3,387 460.9,385.2 456.7,381.3" fill="#2e2606"/>
<polygon points="466.8,379.8 469.4,379.4 472.8,401.2 470.2,401.6" fill="#b39522"/>
<polygon points="463.6,380.3 466.8,379.8 470.2,401.6 467,402.1" fill="#f2d42a"/>
<polygon points="467,402.1 472.8,401.2 472.4,399 466.7,399.9" fill="#2e2606"/>
<polygon points="475.8,390.6 478.4,390.6 478.6,410.6 476,410.6" fill="#b39522"/>
<polygon points="472.6,390.6 475.8,390.6 476,410.6 472.8,410.6" fill="#f2d42a"/>
<polygon points="472.6,390.6 478.4,390.6 478.4,392.4 472.6,392.4" fill="#3a3008"/>
<polygon points="481.8,403.2 484.2,402.3 489.2,415.7 486.8,416.6" fill="#b39522"/>
<polygon points="478.8,404.3 481.8,403.2 486.8,416.6 483.8,417.7" fill="#f2d42a"/>
<polygon points="478.8,404.3 484.2,402.3 484.9,404 479.4,406" fill="#3a3008"/>
<polygon points="491.4,408.2 494,408.2 494.2,430.2 491.6,430.2" fill="#b39522"/>
<polygon points="488.2,408.2 491.4,408.2 491.6,430.2 488.4,430.2" fill="#f2d42a"/>
<polygon points="488.2,408.2 494,408.2 494,410 488.2,410" fill="#3a3008"/>
<polygon points="497.2,433.4 499.5,434.6 505.1,423.4 502.8,422.2" fill="#b39522"/>
<polygon points="494.3,432 497.2,433.4 502.8,422.2 499.9,420.8" fill="#f2d42a"/>
<polygon points="494.3,432 499.5,434.6 500.6,432.4 495.4,429.8" fill="#2e2606"/>
<polygon points="505.8,426.8 508.4,426.4 512,447.2 509.4,447.6" fill="#b39522"/>
<polygon points="502.6,427.3 505.8,426.8 509.4,447.6 506.2,448.1" fill="#f2d42a"/>
<polygon points="506.2,448.1 512,447.2 511.6,445 505.9,446" fill="#2e2606"/>
<text x="1.9" y="187" font-family="Liberation Sans" font-size="32.8" fill="#0b6b30">l</text>
<text x="10.2" y="187" font-family="Liberation Sans" font-size="33" fill="#0b6b30">2</text>
<text x="27.3" y="186.7" font-family="Liberation Serif" font-style="italic" font-size="33" fill="#0b6b30">ω</text>
<text x="51" y="187" font-family="Liberation Sans" font-size="33" fill="#0b6b30">,</text>
<text x="68.8" y="186.7" font-family="Liberation Serif" font-style="italic" font-size="35" fill="#0b6b30">σ</text>
<text x="86.7" y="175.4" font-family="Liberation Sans" font-size="26.5" fill="#0b6b30">+</text>
<polyline points="112.9,160.1 133,173.9 112.9,187.8" fill="none" stroke="#0b6b30" stroke-width="3.9" stroke-linejoin="miter" stroke-miterlimit="10"/>
<text x="150.1" y="186.6" font-family="Liberation Sans" font-size="36" fill="#0b6b30">e</text>
<text x="169.7" y="173.5" font-family="Liberation Sans" font-size="24" fill="#0b6b30">i</text>
<text x="175.9" y="173.5" font-family="Liberation Sans" font-size="24" fill="#0b6b30">4</text>
<text x="188.3" y="173.5" font-family="Liberation Serif" font-style="italic" font-size="24" fill="#0b6b30">θ</text>
<text x="12.2" y="421.5" font-family="Liberation Sans" font-size="32.1" fill="#0b6b30">l</text>
<text x="20.4" y="421.5" font-family="Liberation Sans" font-size="33" fill="#0b6b30">2</text>
<text x="37.8" y="421.2" font-family="Liberation Serif" font-style="italic" font-size="33" fill="#0b6b30">ω</text>
<text x="60.6" y="421.5" font-family="Liberation Sans" font-size="33" fill="#0b6b30">,</text>
<text x="79.9" y="421.2" font-family="Liberation Serif" font-style="italic" font-size="35.5" fill="#0b6b30">σ</text>
<text x="97.3" y="409.4" font-family="Liberation Sans" font-size="25.6" fill="#0b6b30">−</text>
<polyline points="119.8,394.6 139.3,408.5 119.8,422.4" fill="none" stroke="#0b6b30" stroke-width="3.9" stroke-linejoin="miter" stroke-miterlimit="10"/>
<text x="270.9" y="50.4" font-family="Liberation Sans" font-size="32" fill="#c8141e">l</text>
<text x="280.4" y="50.7" font-family="Liberation Serif" font-style="italic" font-size="34" fill="#c8141e">ω</text>
<text x="303" y="50.4" font-family="Liberation Sans" font-size="33" fill="#c8141e">,</text>
<text x="321.6" y="50.7" font-family="Liberation Serif" font-style="italic" font-size="36" fill="#c8141e">σ</text>
<text x="338.7" y="40.6" font-family="Liberation Sans" font-size="26.8" fill="#c8141e">−</text>
<polyline points="357,26 377,40.2 357,54.5" fill="none" stroke="#c8141e" stroke-width="3.9" stroke-linejoin="miter" stroke-miterlimit="10"/>
<text x="399.2" y="50.7" font-family="Liberation Sans" font-size="35" fill="#c8141e">e</text>
<text x="416.4" y="38.1" font-family="Liberation Sans" font-size="24" fill="#c8141e">i</text>
<text x="421.9" y="38.1" font-family="Liberation Sans" font-size="24" fill="#c8141e">2</text>
<text x="435.1" y="38.1" font-family="Liberation Serif" font-style="italic" font-size="24" fill="#c8141e">θ</text>
<text x="535.2" y="244.4" font-family="Liberation Sans" font-size="32" fill="#c8141e">l</text>
<text x="543.6" y="244.1" font-family="Liberation Serif" font-style="italic" font-size="33.8" fill="#c8141e">ω</text>
<text x="567.8" y="244.4" font-family="Liberation Sans" font-size="33" fill="#c8141e">,</text>
<text x="585.9" y="244.1" font-family="Liberation Serif" font-style="italic" font-size="34" fill="#c8141e">σ</text>
<text x="603.5" y="234.7" font-family="Liberation Sans" font-size="25" fill="#c8141e">+</text>
<polyline points="625.5,221.8 645.7,235.5 625.5,249.2" fill="none" stroke="#c8141e" stroke-width="3.9" stroke-linejoin="miter" stroke-miterlimit="10"/>
<text x="322.8" y="466.3" font-family="Liberation Sans" font-size="32.3" fill="#c8141e">l</text>
<text x="332.8" y="466" font-family="Liberation Serif" font-style="italic" font-size="33" fill="#c8141e">ω</text>
<text x="356" y="466.3" font-family="Liberation Sans" font-size="33" fill="#c8141e">,</text>
<text x="374" y="466" font-family="Liberation Serif" font-style="italic" font-size="34" fill="#c8141e">σ</text>
<text x="391.8" y="454.9" font-family="Liberation Sans" font-size="24.3" fill="#c8141e">+</text>
<polyline points="413.4,441.8 433,455.9 413.4,470.1" fill="none" stroke="#c8141e" stroke-width="3.9" stroke-linejoin="miter" stroke-miterlimit="10"/>
<line x1="331.8" y1="74.6" x2="349.2" y2="189" stroke="#c8141e" stroke-width="2"/>
<defs><filter id="grain" x="0" y="0" width="1" height="1"><feTurbulence type="fractalNoise" baseFrequency="0.9" numOctaves="2" seed="4"/><feColorMatrix type="matrix" values="0 0 0 0 0.55  0 0 0 0 0.55  0 0 0 0 0.55  0 0 0 0.16 0"/></filter></defs>
<rect x="1181" y="272" width="168" height="167" fill="#141414"/>
<rect x="1181" y="272" width="3.8" height="167" fill="rgb(39,39,39)" opacity="0.6"/>
<rect x="1184.8" y="272" width="5.4" height="167" fill="rgb(36,36,36)" opacity="0.6"/>
<rect x="1190.2" y="272" width="3.8" height="167" fill="rgb(40,40,40)" opacity="0.6"/>
<rect x="1194" y="272" width="2.8" height="167" fill="rgb(38,38,38)" opacity="0.6"/>
<rect x="1196.8" y="272" width="3.9" height="167" fill="rgb(41,41,41)" opacity="0.6"/>
<rect x="1200.7" y="272" width="5.2" height="167" fill="rgb(25,25,25)" opacity="0.6"/>
<rect x="1205.9" y="272" width="3.8" height="167" fill="rgb(26,26,26)" opacity="0.6"/>
<rect x="1209.7" y="272" width="2.4" height="167" fill="rgb(42,42,42)" opacity="0.6"/>
<rect x="1212" y="272" width="2.2" height="167" fill="rgb(34,34,34)" opacity="0.6"/>
<rect x="1214.2" y="272" width="5.9" height="167" fill="rgb(42,42,42)" opacity="0.6"/>
<rect x="1220.1" y="272" width="5" height="167" fill="rgb(42,42,42)" opacity="0.6"/>
<rect x="1225" y="272" width="2.6" height="167" fill="rgb(22,22,22)" opacity="0.6"/>
<rect x="1227.6" y="272" width="5.3" height="167" fill="rgb(24,24,24)" opacity="0.6"/>
<rect x="1233" y="272" width="2.2" height="167" fill="rgb(28,28,28)" opacity="0.6"/>
<rect x="1235.2" y="272" width="5.5" height="167" fill="rgb(41,41,41)" opacity="0.6"/>
<rect x="1240.7" y="272" width="2.1" height="167" fill="rgb(36,36,36)" opacity="0.6"/>
<rect x="1242.8" y="272" width="3.3" height="167" fill="rgb(40,40,40)" opacity="0.6"/>
<rect x="1246.1" y="272" width="5.4" height="167" fill="rgb(38,38,38)" opacity="0.6"/>
<rect x="1251.5" y="272" width="2.9" height="167" fill="rgb(31,31,31)" opacity="0.6"/>
<rect x="1254.5" y="272" width="4" height="167" fill="rgb(24,24,24)" opacity="0.6"/>
<rect x="1258.5" y="272" width="3.8" height="167" fill="rgb(30,30,30)" opacity="0.6"/>
<rect x="1262.3" y="272" width="3.6" height="167" fill="rgb(39,39,39)" opacity="0.6"/>
<rect x="1265.9" y="272" width="6" height="167" fill="rgb(24,24,24)" opacity="0.6"/>
<rect x="1271.9" y="272" width="4.8" height="167" fill="rgb(32,32,32)" opacity="0.6"/>
<rect x="1276.7" y="272" width="5" height="167" fill="rgb(38,38,38)" opacity="0.6"/>
<rect x="1281.8" y="272" width="3.2" height="167" fill="rgb(24,24,24)" opacity="0.6"/>
<rect x="1284.9" y="272" width="4.3" height="167" fill="rgb(25,25,25)" opacity="0.6"/>
<rect x="1289.2" y="272" width="3.6" height="167" fill="rgb(31,31,31)" opacity="0.6"/>
<rect x="1292.8" y="272" width="3.5" height="167" fill="rgb(22,22,22)" opacity="0.6"/>
<rect x="1296.3" y="272" width="5.4" height="167" fill="rgb(22,22,22)" opacity="0.6"/>
<rect x="1301.7" y="272" width="2.9" height="167" fill="rgb(23,23,23)" opacity="0.6"/>
<rect x="1304.6" y="272" width="3.9" height="167" fill="rgb(34,34,34)" opacity="0.6"/>
<rect x="1308.4" y="272" width="3.7" height="167" fill="rgb(40,40,40)" opacity="0.6"/>
<rect x="1312.1" y="272" width="4.5" height="167" fill="rgb(30,30,30)" opacity="0.6"/>
<rect x="1316.6" y="272" width="3.3" height="167" fill="rgb(31,31,31)" opacity="0.6"/>
<rect x="1320" y="272" width="3.3" height="167" fill="rgb(35,35,35)" opacity="0.6"/>
<rect x="1323.3" y="272" width="5" height="167" fill="rgb(25,25,25)" opacity="0.6"/>
<rect x="1328.3" y="272" width="2.5" height="167" fill="rgb(25,25,25)" opacity="0.6"/>
<rect x="1330.9" y="272" width="2" height="167" fill="rgb(36,36,36)" opacity="0.6"/>
<rect x="1332.9" y="272" width="5.2" height="167" fill="rgb(27,27,27)" opacity="0.6"/>
<rect x="1338.1" y="272" width="4.7" height="167" fill="rgb(28,28,28)" opacity="0.6"/>
<rect x="1342.8" y="272" width="3.8" height="167" fill="rgb(28,28,28)" opacity="0.6"/>
<rect x="1346.6" y="272" width="2.4" height="167" fill="rgb(26,26,26)" opacity="0.6"/>
<rect x="1181" y="272" width="168" height="167" filter="url(#grain)"/>
<line x1="1190.4" y1="287.8" x2="1188.4" y2="277.4" stroke="#dcdcdc" stroke-width="2.7"/>
<line x1="1190.4" y1="306" x2="1188.4" y2="295.6" stroke="#dcdcdc" stroke-width="2.7"/>
<line x1="1190.4" y1="323.9" x2="1188.4" y2="313.5" stroke="#dcdcdc" stroke-width="2.7"/>
<line x1="1190" y1="342.1" x2="1188.8" y2="331.7" stroke="#dcdcdc" stroke-width="2.7"/>
<line x1="1190.7" y1="360.6" x2="1188.1" y2="350.4" stroke="#dcdcdc" stroke-width="2.7"/>
<line x1="1190" y1="378.9" x2="1188.8" y2="368.5" stroke="#dcdcdc" stroke-width="2.7"/>
<line x1="1190" y1="397.1" x2="1188.8" y2="386.7" stroke="#dcdcdc" stroke-width="2.7"/>
<line x1="1190.2" y1="415.7" x2="1188.6" y2="405.3" stroke="#dcdcdc" stroke-width="2.7"/>
<line x1="1190" y1="433.9" x2="1188.8" y2="423.5" stroke="#dcdcdc" stroke-width="2.7"/>
<line x1="1204" y1="285.1" x2="1213.2" y2="280.1" stroke="#dcdcdc" stroke-width="2.7"/>
<line x1="1203.9" y1="303.2" x2="1213.3" y2="298.4" stroke="#dcdcdc" stroke-width="2.7"/>
<line x1="1203.7" y1="320.6" x2="1213.5" y2="316.8" stroke="#dcdcdc" stroke-width="2.7"/>
<line x1="1203.8" y1="339.1" x2="1213.4" y2="334.7" stroke="#dcdcdc" stroke-width="2.7"/>
<line x1="1203.8" y1="357.7" x2="1213.4" y2="353.3" stroke="#dcdcdc" stroke-width="2.7"/>
<line x1="1204" y1="376.2" x2="1213.2" y2="371.2" stroke="#dcdcdc" stroke-width="2.7"/>
<line x1="1204" y1="394.4" x2="1213.2" y2="389.4" stroke="#dcdcdc" stroke-width="2.7"/>
<line x1="1203.9" y1="412.8" x2="1213.3" y2="408.2" stroke="#dcdcdc" stroke-width="2.7"/>
<line x1="1204" y1="431.2" x2="1213.2" y2="426.2" stroke="#dcdcdc" stroke-width="2.7"/>
<line x1="1232.1" y1="285.7" x2="1223.5" y2="279.5" stroke="#dcdcdc" stroke-width="2.7"/>
<line x1="1232" y1="304" x2="1223.6" y2="297.6" stroke="#dcdcdc" stroke-width="2.7"/>
<line x1="1232.1" y1="321.6" x2="1223.5" y2="315.8" stroke="#dcdcdc" stroke-width="2.7"/>
<line x1="1232.3" y1="339.7" x2="1223.3" y2="334.1" stroke="#dcdcdc" stroke-width="2.7"/>
<line x1="1232.2" y1="358.3" x2="1223.4" y2="352.7" stroke="#dcdcdc" stroke-width="2.7"/>
<line x1="1232" y1="376.8" x2="1223.6" y2="370.6" stroke="#dcdcdc" stroke-width="2.7"/>
<line x1="1232.3" y1="394.6" x2="1223.3" y2="389.2" stroke="#dcdcdc" stroke-width="2.7"/>
<line x1="1232.2" y1="413.4" x2="1223.4" y2="407.6" stroke="#dcdcdc" stroke-width="2.7"/>
<line x1="1232" y1="431.8" x2="1223.6" y2="425.6" stroke="#dcdcdc" stroke-width="2.7"/>
<line x1="1244.5" y1="287.6" x2="1247.5" y2="277.6" stroke="#dcdcdc" stroke-width="2.7"/>
<line x1="1244.1" y1="305.7" x2="1247.9" y2="295.9" stroke="#dcdcdc" stroke-width="2.7"/>
<line x1="1244" y1="323.5" x2="1248" y2="313.9" stroke="#dcdcdc" stroke-width="2.7"/>
<line x1="1244.5" y1="341.9" x2="1247.5" y2="331.9" stroke="#dcdcdc" stroke-width="2.7"/>
<line x1="1244.3" y1="360.5" x2="1247.7" y2="350.5" stroke="#dcdcdc" stroke-width="2.7"/>
<line x1="1244.1" y1="378.6" x2="1247.9" y2="368.8" stroke="#dcdcdc" stroke-width="2.7"/>
<line x1="1244.3" y1="396.9" x2="1247.7" y2="386.9" stroke="#dcdcdc" stroke-width="2.7"/>
<line x1="1244.4" y1="415.5" x2="1247.6" y2="405.5" stroke="#dcdcdc" stroke-width="2.7"/>
<line x1="1244.1" y1="433.6" x2="1247.9" y2="423.8" stroke="#dcdcdc" stroke-width="2.7"/>
<line x1="1260" y1="282.4" x2="1270.4" y2="282.8" stroke="#dcdcdc" stroke-width="2.7"/>
<line x1="1260" y1="301.1" x2="1270.4" y2="300.5" stroke="#dcdcdc" stroke-width="2.7"/>
<line x1="1260" y1="318.6" x2="1270.4" y2="318.8" stroke="#dcdcdc" stroke-width="2.7"/>
<line x1="1260" y1="336.9" x2="1270.4" y2="336.9" stroke="#dcdcdc" stroke-width="2.7"/>
<line x1="1260" y1="355.4" x2="1270.4" y2="355.6" stroke="#dcdcdc" stroke-width="2.7"/>
<line x1="1260" y1="373.8" x2="1270.4" y2="373.6" stroke="#dcdcdc" stroke-width="2.7"/>
<line x1="1260" y1="391.9" x2="1270.4" y2="391.9" stroke="#dcdcdc" stroke-width="2.7"/>
<line x1="1260" y1="410.8" x2="1270.4" y2="410.2" stroke="#dcdcdc" stroke-width="2.7"/>
<line x1="1260" y1="429" x2="1270.4" y2="428.4" stroke="#dcdcdc" stroke-width="2.7"/>
<line x1="1286.9" y1="286.7" x2="1280.5" y2="278.5" stroke="#dcdcdc" stroke-width="2.7"/>
<line x1="1286.7" y1="305.1" x2="1280.7" y2="296.5" stroke="#dcdcdc" stroke-width="2.7"/>
<line x1="1286.9" y1="322.9" x2="1280.5" y2="314.5" stroke="#dcdcdc" stroke-width="2.7"/>
<line x1="1286.6" y1="341.3" x2="1280.8" y2="332.5" stroke="#dcdcdc" stroke-width="2.7"/>
<line x1="1286.8" y1="359.8" x2="1280.6" y2="351.2" stroke="#dcdcdc" stroke-width="2.7"/>
<line x1="1286.8" y1="378" x2="1280.6" y2="369.4" stroke="#dcdcdc" stroke-width="2.7"/>
<line x1="1286.5" y1="396.4" x2="1280.9" y2="387.4" stroke="#dcdcdc" stroke-width="2.7"/>
<line x1="1286.7" y1="414.8" x2="1280.7" y2="406.2" stroke="#dcdcdc" stroke-width="2.7"/>
<line x1="1286.7" y1="433" x2="1280.7" y2="424.4" stroke="#dcdcdc" stroke-width="2.7"/>
<line x1="1299.6" y1="286.7" x2="1306.2" y2="278.5" stroke="#dcdcdc" stroke-width="2.7"/>
<line x1="1299.6" y1="304.9" x2="1306.2" y2="296.7" stroke="#dcdcdc" stroke-width="2.7"/>
<line x1="1300.1" y1="323.2" x2="1305.7" y2="314.2" stroke="#dcdcdc" stroke-width="2.7"/>
<line x1="1299.9" y1="341.2" x2="1305.9" y2="332.6" stroke="#dcdcdc" stroke-width="2.7"/>
<line x1="1299.8" y1="359.7" x2="1306" y2="351.3" stroke="#dcdcdc" stroke-width="2.7"/>
<line x1="1299.8" y1="378" x2="1306" y2="369.4" stroke="#dcdcdc" stroke-width="2.7"/>
<line x1="1300.1" y1="396.4" x2="1305.7" y2="387.4" stroke="#dcdcdc" stroke-width="2.7"/>
<line x1="1300.1" y1="414.9" x2="1305.7" y2="406.1" stroke="#dcdcdc" stroke-width="2.7"/>
<line x1="1299.6" y1="432.8" x2="1306.2" y2="424.6" stroke="#dcdcdc" stroke-width="2.7"/>
<line x1="1327.1" y1="283.7" x2="1316.9" y2="281.5" stroke="#dcdcdc" stroke-width="2.7"/>
<line x1="1327.2" y1="301.4" x2="1316.8" y2="300.2" stroke="#dcdcdc" stroke-width="2.7"/>
<line x1="1327.2" y1="319.5" x2="1316.8" y2="317.9" stroke="#dcdcdc" stroke-width="2.7"/>
<line x1="1327.2" y1="337.6" x2="1316.8" y2="336.2" stroke="#dcdcdc" stroke-width="2.7"/>
<line x1="1327.2" y1="356.1" x2="1316.8" y2="354.9" stroke="#dcdcdc" stroke-width="2.7"/>
<line x1="1327.2" y1="374.5" x2="1316.8" y2="372.9" stroke="#dcdcdc" stroke-width="2.7"/>
<line x1="1327.2" y1="392.8" x2="1316.8" y2="391" stroke="#dcdcdc" stroke-width="2.7"/>
<line x1="1327.1" y1="411.8" x2="1316.9" y2="409.2" stroke="#dcdcdc" stroke-width="2.7"/>
<line x1="1327.2" y1="429.3" x2="1316.8" y2="428.1" stroke="#dcdcdc" stroke-width="2.7"/>
<line x1="1341.6" y1="287.8" x2="1339.6" y2="277.4" stroke="#dcdcdc" stroke-width="2.7"/>
<line x1="1341.4" y1="306" x2="1339.8" y2="295.6" stroke="#dcdcdc" stroke-width="2.7"/>
<line x1="1341.5" y1="323.9" x2="1339.7" y2="313.5" stroke="#dcdcdc" stroke-width="2.7"/>
<line x1="1341.2" y1="342.1" x2="1340" y2="331.7" stroke="#dcdcdc" stroke-width="2.7"/>
<line x1="1341.3" y1="360.7" x2="1339.9" y2="350.3" stroke="#dcdcdc" stroke-width="2.7"/>
<line x1="1341" y1="378.9" x2="1340.2" y2="368.5" stroke="#dcdcdc" stroke-width="2.7"/>
<line x1="1341.3" y1="397.1" x2="1339.9" y2="386.7" stroke="#dcdcdc" stroke-width="2.7"/>
<line x1="1341" y1="415.7" x2="1340.2" y2="405.3" stroke="#dcdcdc" stroke-width="2.7"/>
<line x1="1341.3" y1="433.9" x2="1339.9" y2="423.5" stroke="#dcdcdc" stroke-width="2.7"/>
<rect x="1293.3" y="415.3" width="51.1" height="6.3" fill="#fff"/>
<g font-size="33.3" fill="#000">
<text x="838.7" y="73.9" text-anchor="end">1.0</text>
<text x="842.4" y="231.9" text-anchor="end">0.8</text>
<text x="843.5" y="389.8" text-anchor="end">0.6</text>
<text x="858.5" y="504.8" text-anchor="middle">1000</text>
<text x="1021.8" y="504.8" text-anchor="middle">1200</text>
<text x="1185.2" y="504.8" text-anchor="middle">1400</text>
<text x="1348.5" y="504.8" text-anchor="middle">1600</text>
</g>
<g font-size="33.4" fill="#000">
<text x="929.5" y="97.4"><tspan font-style="italic">L</tspan> = 220 nm</text>
<text x="929.5" y="142.4"><tspan font-style="italic">L</tspan> = 230 nm</text>
<text x="929.5" y="187.4"><tspan font-style="italic">L</tspan> = 240 nm</text>
</g>
<text x="1104.9" y="554.8" font-size="33.4" text-anchor="middle">Wavelength (nm)</text>
<text transform="translate(770.6,261.4) rotate(-90)" font-size="34" text-anchor="middle">Transmission</text>
<g font-size="33" fill="#000">
<text x="294" y="532.3" font-size="33.6" text-anchor="middle">1L-WS<tspan font-size="22" dy="9.6">2</tspan></text>
<text x="567" y="480.6" text-anchor="middle">Au-</text>
<text x="567" y="520.3" text-anchor="middle">metasurface</text>
</g>
</svg>
</body></html>
